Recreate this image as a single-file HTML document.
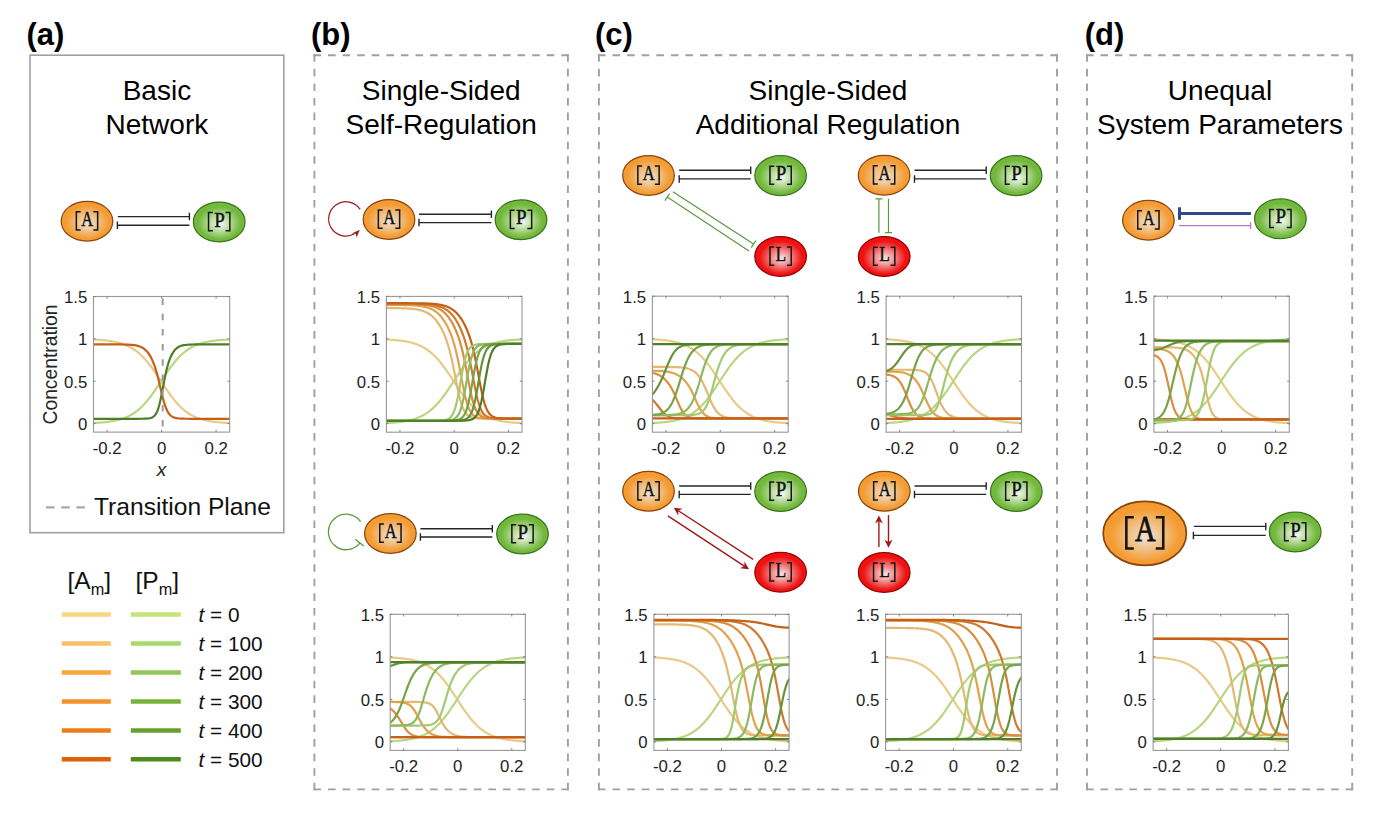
<!DOCTYPE html><html><head><meta charset="utf-8"><style>html,body{margin:0;padding:0;background:#fff;}svg{display:block}</style></head><body>
<svg width="1386" height="816" viewBox="0 0 1386 816">
<defs>
<radialGradient id="gA" cx="0.5" cy="0.52" r="0.52" fx="0.52" fy="0.56"><stop offset="0" stop-color="#EEDDC8"/><stop offset="0.08" stop-color="#EEDDC8"/><stop offset="0.8" stop-color="#F49C32"/><stop offset="1" stop-color="#F49C32"/></radialGradient>
<radialGradient id="gP" cx="0.5" cy="0.52" r="0.52" fx="0.52" fy="0.56"><stop offset="0" stop-color="#EAF4E4"/><stop offset="0.08" stop-color="#EAF4E4"/><stop offset="0.8" stop-color="#72B83A"/><stop offset="1" stop-color="#72B83A"/></radialGradient>
<radialGradient id="gL" cx="0.5" cy="0.52" r="0.52" fx="0.52" fy="0.56"><stop offset="0" stop-color="#F6D6D6"/><stop offset="0.08" stop-color="#F6D6D6"/><stop offset="0.8" stop-color="#EE1212"/><stop offset="1" stop-color="#EE1212"/></radialGradient>
</defs>
<rect width="1386" height="816" fill="#fff"/>
<g font-family="'Liberation Sans', sans-serif" font-weight="bold" font-size="31" fill="#000">
<text x="26.4" y="44.5">(a)</text>
<text x="311.0" y="44.5">(b)</text>
<text x="595.0" y="44.5">(c)</text>
<text x="1084.8" y="44.5">(d)</text>
</g>
<rect x="30" y="55.2" width="253.8" height="477.5" fill="none" stroke="#a0a0a0" stroke-width="1.6"/>
<path d="M313.45,55.2L568.85,55.2" stroke="#a0a0a0" stroke-width="1.9" stroke-dasharray="7.6,6.98" fill="none"/>
<path d="M567.9,54.25L567.9,790.35" stroke="#a0a0a0" stroke-width="1.9" stroke-dasharray="7.6,6.97" fill="none"/>
<path d="M313.45,789.4L568.85,789.4" stroke="#a0a0a0" stroke-width="1.9" stroke-dasharray="7.6,6.98" fill="none"/>
<path d="M314.4,54.25L314.4,790.35" stroke="#a0a0a0" stroke-width="1.9" stroke-dasharray="7.6,6.97" fill="none"/>
<path d="M597.95,55.2L1057.95,55.2" stroke="#a0a0a0" stroke-width="1.9" stroke-dasharray="7.6,6.99" fill="none"/>
<path d="M1057,54.25L1057,790.35" stroke="#a0a0a0" stroke-width="1.9" stroke-dasharray="7.6,6.97" fill="none"/>
<path d="M597.95,789.4L1057.95,789.4" stroke="#a0a0a0" stroke-width="1.9" stroke-dasharray="7.6,6.99" fill="none"/>
<path d="M598.9,54.25L598.9,790.35" stroke="#a0a0a0" stroke-width="1.9" stroke-dasharray="7.6,6.97" fill="none"/>
<path d="M1086.05,55.2L1353.15,55.2" stroke="#a0a0a0" stroke-width="1.9" stroke-dasharray="7.6,6.82" fill="none"/>
<path d="M1352.2,54.25L1352.2,790.35" stroke="#a0a0a0" stroke-width="1.9" stroke-dasharray="7.6,6.97" fill="none"/>
<path d="M1086.05,789.4L1353.15,789.4" stroke="#a0a0a0" stroke-width="1.9" stroke-dasharray="7.6,6.82" fill="none"/>
<path d="M1087,54.25L1087,790.35" stroke="#a0a0a0" stroke-width="1.9" stroke-dasharray="7.6,6.97" fill="none"/>
<g font-family="'Liberation Sans', sans-serif" font-size="28" fill="#000" text-anchor="middle">
<text x="156.9" y="100">Basic</text><text x="156.9" y="133.6">Network</text>
<text x="441.2" y="100">Single-Sided</text><text x="441.2" y="133.6">Self-Regulation</text>
<text x="828.0" y="100">Single-Sided</text><text x="828.0" y="133.6">Additional Regulation</text>
<text x="1220.0" y="100">Unequal</text><text x="1220.0" y="133.6">System Parameters</text>
</g>
<ellipse cx="87" cy="221.2" rx="25.8" ry="19.9" fill="url(#gA)" stroke="#8A4510" stroke-width="1.25"/>
<path d="M80.65,211.85H76.35V229.95H80.65M93.35,211.85H97.65V229.95H93.35" fill="none" stroke="#161616" stroke-width="1.5"/>
<text transform="translate(87.3,225.8) scale(0.8,1)" text-anchor="middle" font-family="'Liberation Serif', serif" font-size="20.6" fill="#111" stroke="#111" stroke-width="0.45">A</text>
<ellipse cx="219.2" cy="221.9" rx="25.8" ry="19.9" fill="url(#gP)" stroke="#3A7420" stroke-width="1.25"/>
<path d="M212.85,212.55H208.55V230.65H212.85M225.55,212.55H229.85V230.65H225.55" fill="none" stroke="#161616" stroke-width="1.5"/>
<text transform="translate(219.5,226.5) scale(0.92,1)" text-anchor="middle" font-family="'Liberation Serif', serif" font-size="20.6" fill="#111" stroke="#111" stroke-width="0.45">P</text>
<path d="M117.8,216.6L189.4,216.6M189.4,220.35L189.4,212.85" fill="none" stroke="#262626" stroke-width="1.4"/>
<path d="M189.4,225.2L117.4,225.2M117.4,221.45L117.4,228.95" fill="none" stroke="#262626" stroke-width="1.4"/>
<clipPath id="clip93_296"><rect x="93.5" y="296.5" width="136.2" height="135.6"/></clipPath>
<g clip-path="url(#clip93_296)" fill="none" stroke-width="2.2" stroke-linejoin="round" stroke-linecap="butt">
<path d="M90.78,339.41 L91.96,339.46 L93.14,339.51 L94.32,339.56 L95.5,339.62 L96.68,339.69 L97.86,339.76 L99.04,339.84 L100.22,339.92 L101.4,340.02 L102.58,340.12 L103.76,340.22 L104.94,340.34 L106.12,340.47 L107.3,340.61 L108.48,340.76 L109.66,340.92 L110.84,341.1 L112.02,341.29 L113.2,341.5 L114.38,341.72 L115.56,341.96 L116.74,342.23 L117.93,342.51 L119.11,342.82 L120.29,343.15 L121.47,343.51 L122.65,343.9 L123.83,344.31 L125.01,344.76 L126.19,345.25 L127.37,345.77 L128.55,346.32 L129.73,346.92 L130.91,347.56 L132.09,348.25 L133.27,348.98 L134.45,349.76 L135.63,350.59 L136.81,351.47 L137.99,352.41 L139.17,353.41 L140.35,354.46 L141.53,355.57 L142.71,356.74 L143.89,357.97 L145.07,359.25 L146.25,360.6 L147.44,362 L148.62,363.45 L149.8,364.96 L150.98,366.52 L152.16,368.12 L153.34,369.77 L154.52,371.46 L155.7,373.18 L156.88,374.93 L158.06,376.7 L159.24,378.48 L160.42,380.28 L161.6,382.08 L162.78,383.88 L163.96,385.67 L165.14,387.44 L166.32,389.19 L167.5,390.91 L168.68,392.6 L169.86,394.25 L171.04,395.86 L172.22,397.42 L173.4,398.93 L174.58,400.39 L175.76,401.8 L176.95,403.15 L178.13,404.44 L179.31,405.67 L180.49,406.84 L181.67,407.96 L182.85,409.01 L184.03,410.01 L185.21,410.96 L186.39,411.84 L187.57,412.68 L188.75,413.46 L189.93,414.2 L191.11,414.89 L192.29,415.53 L193.47,416.13 L194.65,416.69 L195.83,417.22 L197.01,417.7 L198.19,418.15 L199.37,418.57 L200.55,418.96 L201.73,419.32 L202.91,419.66 L204.09,419.96 L205.27,420.25 L206.46,420.52 L207.64,420.76 L208.82,420.99 L210,421.2 L211.18,421.39 L212.36,421.57 L213.54,421.73 L214.72,421.88 L215.9,422.02 L217.08,422.15 L218.26,422.27 L219.44,422.38 L220.62,422.48 L221.8,422.57 L222.98,422.65 L224.16,422.73 L225.34,422.8 L226.52,422.87 L227.7,422.93 L228.88,422.99 L230.06,423.04 L231.24,423.09 L232.42,423.13" stroke="#E7CB89"/>
<path d="M90.78,423.09 L91.96,423.04 L93.14,422.99 L94.32,422.94 L95.5,422.88 L96.68,422.81 L97.86,422.74 L99.04,422.66 L100.22,422.58 L101.4,422.48 L102.58,422.38 L103.76,422.28 L104.94,422.16 L106.12,422.03 L107.3,421.89 L108.48,421.74 L109.66,421.58 L110.84,421.4 L112.02,421.21 L113.2,421 L114.38,420.78 L115.56,420.54 L116.74,420.27 L117.93,419.99 L119.11,419.68 L120.29,419.35 L121.47,418.99 L122.65,418.6 L123.83,418.19 L125.01,417.74 L126.19,417.25 L127.37,416.73 L128.55,416.18 L129.73,415.58 L130.91,414.94 L132.09,414.25 L133.27,413.52 L134.45,412.74 L135.63,411.91 L136.81,411.03 L137.99,410.09 L139.17,409.09 L140.35,408.04 L141.53,406.93 L142.71,405.76 L143.89,404.53 L145.07,403.25 L146.25,401.9 L147.44,400.5 L148.62,399.05 L149.8,397.54 L150.98,395.98 L152.16,394.38 L153.34,392.73 L154.52,391.04 L155.7,389.32 L156.88,387.57 L158.06,385.8 L159.24,384.02 L160.42,382.22 L161.6,380.42 L162.78,378.62 L163.96,376.83 L165.14,375.06 L166.32,373.31 L167.5,371.59 L168.68,369.9 L169.86,368.25 L171.04,366.64 L172.22,365.08 L173.4,363.57 L174.58,362.11 L175.76,360.7 L176.95,359.35 L178.13,358.06 L179.31,356.83 L180.49,355.66 L181.67,354.54 L182.85,353.49 L184.03,352.49 L185.21,351.54 L186.39,350.66 L187.57,349.82 L188.75,349.04 L189.93,348.3 L191.11,347.61 L192.29,346.97 L193.47,346.37 L194.65,345.81 L195.83,345.28 L197.01,344.8 L198.19,344.35 L199.37,343.93 L200.55,343.54 L201.73,343.18 L202.91,342.84 L204.09,342.54 L205.27,342.25 L206.46,341.98 L207.64,341.74 L208.82,341.51 L210,341.3 L211.18,341.11 L212.36,340.93 L213.54,340.77 L214.72,340.62 L215.9,340.48 L217.08,340.35 L218.26,340.23 L219.44,340.12 L220.62,340.02 L221.8,339.93 L222.98,339.85 L224.16,339.77 L225.34,339.7 L226.52,339.63 L227.7,339.57 L228.88,339.51 L230.06,339.46 L231.24,339.41 L232.42,339.37" stroke="#BAD684"/>
<path d="M90.78,344.38 L91.96,344.38 L93.14,344.38 L94.32,344.38 L95.5,344.38 L96.68,344.38 L97.86,344.38 L99.04,344.39 L100.22,344.39 L101.4,344.39 L102.58,344.39 L103.76,344.39 L104.94,344.39 L106.12,344.39 L107.3,344.39 L108.48,344.39 L109.66,344.39 L110.84,344.39 L112.02,344.4 L113.2,344.4 L114.38,344.41 L115.56,344.41 L116.74,344.42 L117.93,344.42 L119.11,344.43 L120.29,344.45 L121.47,344.46 L122.65,344.48 L123.83,344.5 L125.01,344.53 L126.19,344.57 L127.37,344.61 L128.55,344.67 L129.73,344.73 L130.91,344.82 L132.09,344.92 L133.27,345.05 L134.45,345.21 L135.63,345.4 L136.81,345.64 L137.99,345.93 L139.17,346.29 L140.35,346.72 L141.53,347.25 L142.71,347.89 L143.89,348.66 L145.07,349.59 L146.25,350.69 L147.44,352 L148.62,353.53 L149.8,355.33 L150.98,357.41 L152.16,359.83 L153.34,362.6 L154.52,365.77 L155.7,369.36 L156.88,373.39 L158.06,377.84 L159.24,382.65 L160.42,387.66 L161.6,392.68 L162.78,397.49 L163.96,401.86 L165.14,405.65 L166.32,408.79 L167.5,411.31 L168.68,413.25 L169.86,414.73 L171.04,415.83 L172.22,416.64 L173.4,417.23 L174.58,417.66 L175.76,417.98 L176.95,418.2 L178.13,418.37 L179.31,418.48 L180.49,418.57 L181.67,418.63 L182.85,418.68 L184.03,418.71 L185.21,418.73 L186.39,418.75 L187.57,418.76 L188.75,418.77 L189.93,418.78 L191.11,418.78 L192.29,418.79 L193.47,418.79 L194.65,418.79 L195.83,418.79 L197.01,418.79 L198.19,418.79 L199.37,418.79 L200.55,418.79 L201.73,418.79 L202.91,418.79 L204.09,418.79 L205.27,418.79 L206.46,418.79 L207.64,418.79 L208.82,418.79 L210,418.79 L211.18,418.79 L212.36,418.79 L213.54,418.79 L214.72,418.79 L215.9,418.79 L217.08,418.79 L218.26,418.79 L219.44,418.79 L220.62,418.79 L221.8,418.79 L222.98,418.79 L224.16,418.79 L225.34,418.79 L226.52,418.79 L227.7,418.79 L228.88,418.79 L230.06,418.79 L231.24,418.79 L232.42,418.79" stroke="#C46019"/>
<path d="M90.78,418.79 L91.96,418.79 L93.14,418.79 L94.32,418.79 L95.5,418.79 L96.68,418.79 L97.86,418.79 L99.04,418.79 L100.22,418.79 L101.4,418.79 L102.58,418.79 L103.76,418.79 L104.94,418.79 L106.12,418.79 L107.3,418.79 L108.48,418.79 L109.66,418.79 L110.84,418.79 L112.02,418.79 L113.2,418.79 L114.38,418.79 L115.56,418.79 L116.74,418.79 L117.93,418.79 L119.11,418.79 L120.29,418.79 L121.47,418.79 L122.65,418.79 L123.83,418.79 L125.01,418.79 L126.19,418.79 L127.37,418.79 L128.55,418.79 L129.73,418.79 L130.91,418.79 L132.09,418.79 L133.27,418.79 L134.45,418.79 L135.63,418.79 L136.81,418.79 L137.99,418.78 L139.17,418.78 L140.35,418.77 L141.53,418.76 L142.71,418.74 L143.89,418.71 L145.07,418.67 L146.25,418.62 L147.44,418.53 L148.62,418.39 L149.8,418.19 L150.98,417.89 L152.16,417.43 L153.34,416.76 L154.52,415.75 L155.7,414.27 L156.88,412.15 L158.06,409.2 L159.24,405.27 L160.42,400.33 L161.6,394.57 L162.78,388.32 L163.96,382.06 L165.14,376.16 L166.32,370.85 L167.5,366.23 L168.68,362.28 L169.86,358.94 L171.04,356.14 L172.22,353.8 L173.4,351.88 L174.58,350.31 L175.76,349.04 L176.95,348.02 L178.13,347.22 L179.31,346.58 L180.49,346.08 L181.67,345.69 L182.85,345.39 L184.03,345.16 L185.21,344.98 L186.39,344.84 L187.57,344.73 L188.75,344.65 L189.93,344.59 L191.11,344.54 L192.29,344.5 L193.47,344.48 L194.65,344.45 L195.83,344.44 L197.01,344.42 L198.19,344.42 L199.37,344.41 L200.55,344.4 L201.73,344.4 L202.91,344.39 L204.09,344.39 L205.27,344.39 L206.46,344.39 L207.64,344.39 L208.82,344.39 L210,344.39 L211.18,344.39 L212.36,344.38 L213.54,344.38 L214.72,344.38 L215.9,344.38 L217.08,344.38 L218.26,344.38 L219.44,344.38 L220.62,344.38 L221.8,344.38 L222.98,344.38 L224.16,344.38 L225.34,344.38 L226.52,344.38 L227.7,344.38 L228.88,344.38 L230.06,344.38 L231.24,344.38 L232.42,344.38" stroke="#4F7E28"/>
</g>
<line x1="162.69" y1="298.5" x2="162.69" y2="432.1" stroke="#9a9a9a" stroke-width="2" stroke-dasharray="6.5,8.7"/>
<rect x="93.5" y="296.5" width="136.2" height="135.6" fill="none" stroke="#979797" stroke-width="1.1"/>
<path d="M107.12,432.1V429.9M107.12,296.5V298.7M161.6,432.1V429.9M161.6,296.5V298.7M216.08,432.1V429.9M216.08,296.5V298.7M93.5,423.62H95.7M229.7,423.62H227.5M93.5,381.25H95.7M229.7,381.25H227.5M93.5,338.88H95.7M229.7,338.88H227.5M93.5,296.5H95.7M229.7,296.5H227.5" stroke="#777" stroke-width="0.9"/>
<g font-family="'Liberation Sans', sans-serif" font-size="16.8" fill="#222">
<text x="107.12" y="454" text-anchor="middle">-0.2</text>
<text x="161.6" y="454" text-anchor="middle">0</text>
<text x="216.08" y="454" text-anchor="middle">0.2</text>
<text x="87.3" y="430.02" text-anchor="end">0</text>
<text x="87.3" y="387.65" text-anchor="end">0.5</text>
<text x="87.3" y="345.27" text-anchor="end">1</text>
<text x="87.3" y="302.9" text-anchor="end">1.5</text>
</g>
<text transform="translate(57.3,364.5) rotate(-90)" text-anchor="middle" font-family="'Liberation Sans', sans-serif" font-size="19.3" fill="#262626">Concentration</text>
<text x="161.6" y="476" text-anchor="middle" font-family="'Liberation Sans', sans-serif" font-style="italic" font-size="19" fill="#262626">x</text>
<line x1="46" y1="507.3" x2="85" y2="507.3" stroke="#a8a8a8" stroke-width="2.2" stroke-dasharray="8.5,6.7"/>
<text x="94" y="515" font-family="'Liberation Sans', sans-serif" font-size="24.6" fill="#111">Transition Plane</text>
<g font-family="'Liberation Sans', sans-serif" fill="#111">
<text x="67.5" y="589.2" font-size="24.5">[A<tspan font-size="16.3" dy="5.8">m</tspan><tspan dy="-5.8">]</tspan></text>
<text x="135.5" y="589.2" font-size="24.5">[P<tspan font-size="16.3" dy="5.8">m</tspan><tspan dy="-5.8">]</tspan></text>
</g>
<line x1="61.8" y1="614.6" x2="110.8" y2="614.6" stroke="#FAD581" stroke-width="4.5"/>
<line x1="130.8" y1="614.6" x2="180.8" y2="614.6" stroke="#C2E57C" stroke-width="4.5"/>
<text x="198.5" y="622.2" font-family="'Liberation Sans', sans-serif" font-size="20.8" fill="#111"><tspan font-style="italic">t</tspan> = 0</text>
<line x1="61.8" y1="643.55" x2="110.8" y2="643.55" stroke="#F8C068" stroke-width="4.5"/>
<line x1="130.8" y1="643.55" x2="180.8" y2="643.55" stroke="#A8D868" stroke-width="4.5"/>
<text x="198.5" y="651.15" font-family="'Liberation Sans', sans-serif" font-size="20.8" fill="#111"><tspan font-style="italic">t</tspan> = 100</text>
<line x1="61.8" y1="672.5" x2="110.8" y2="672.5" stroke="#F8A838" stroke-width="4.5"/>
<line x1="130.8" y1="672.5" x2="180.8" y2="672.5" stroke="#90C858" stroke-width="4.5"/>
<text x="198.5" y="680.1" font-family="'Liberation Sans', sans-serif" font-size="20.8" fill="#111"><tspan font-style="italic">t</tspan> = 200</text>
<line x1="61.8" y1="701.45" x2="110.8" y2="701.45" stroke="#F5922A" stroke-width="4.5"/>
<line x1="130.8" y1="701.45" x2="180.8" y2="701.45" stroke="#78B23C" stroke-width="4.5"/>
<text x="198.5" y="709.05" font-family="'Liberation Sans', sans-serif" font-size="20.8" fill="#111"><tspan font-style="italic">t</tspan> = 300</text>
<line x1="61.8" y1="730.4" x2="110.8" y2="730.4" stroke="#EE7A18" stroke-width="4.5"/>
<line x1="130.8" y1="730.4" x2="180.8" y2="730.4" stroke="#68A030" stroke-width="4.5"/>
<text x="198.5" y="738" font-family="'Liberation Sans', sans-serif" font-size="20.8" fill="#111"><tspan font-style="italic">t</tspan> = 400</text>
<line x1="61.8" y1="759.35" x2="110.8" y2="759.35" stroke="#E06005" stroke-width="4.5"/>
<line x1="130.8" y1="759.35" x2="180.8" y2="759.35" stroke="#4E8A1C" stroke-width="4.5"/>
<text x="198.5" y="766.95" font-family="'Liberation Sans', sans-serif" font-size="20.8" fill="#111"><tspan font-style="italic">t</tspan> = 500</text>
<ellipse cx="389" cy="219.4" rx="25.8" ry="19.9" fill="url(#gA)" stroke="#8A4510" stroke-width="1.25"/>
<path d="M382.65,210.05H378.35V228.15H382.65M395.35,210.05H399.65V228.15H395.35" fill="none" stroke="#161616" stroke-width="1.5"/>
<text transform="translate(389.3,224) scale(0.8,1)" text-anchor="middle" font-family="'Liberation Serif', serif" font-size="20.6" fill="#111" stroke="#111" stroke-width="0.45">A</text>
<ellipse cx="521" cy="219.7" rx="25.8" ry="19.9" fill="url(#gP)" stroke="#3A7420" stroke-width="1.25"/>
<path d="M514.65,210.35H510.35V228.45H514.65M527.35,210.35H531.65V228.45H527.35" fill="none" stroke="#161616" stroke-width="1.5"/>
<text transform="translate(521.3,224.3) scale(0.92,1)" text-anchor="middle" font-family="'Liberation Serif', serif" font-size="20.6" fill="#111" stroke="#111" stroke-width="0.45">P</text>
<path d="M419,214.2L491.4,214.2M491.4,217.95L491.4,210.45" fill="none" stroke="#262626" stroke-width="1.4"/>
<path d="M491.4,222.6L419,222.6M419,218.85L419,226.35" fill="none" stroke="#262626" stroke-width="1.4"/>
<path d="M360.2,209.4 A17.2,17.2 0 1 0 354.5,233.8" fill="none" stroke="#9C1A1A" stroke-width="1.2"/>
<path d="M359.8,229.8 L356.6,237.4 L355.8,233.8 L351.8,233.4 Z" fill="#9C1A1A"/>
<clipPath id="clip386_296"><rect x="386.4" y="296.4" width="135.6" height="135.8"/></clipPath>
<g clip-path="url(#clip386_296)" fill="none" stroke-width="2.2" stroke-linejoin="round" stroke-linecap="butt">
<path d="M383.69,339.37 L384.86,339.42 L386.04,339.47 L387.21,339.53 L388.39,339.59 L389.56,339.65 L390.74,339.73 L391.91,339.8 L393.09,339.89 L394.26,339.98 L395.44,340.08 L396.62,340.19 L397.79,340.31 L398.97,340.43 L400.14,340.57 L401.32,340.72 L402.49,340.89 L403.67,341.06 L404.84,341.26 L406.02,341.46 L407.19,341.69 L408.37,341.93 L409.54,342.2 L410.72,342.48 L411.89,342.79 L413.07,343.12 L414.24,343.48 L415.42,343.87 L416.59,344.28 L417.77,344.73 L418.94,345.22 L420.12,345.74 L421.29,346.3 L422.47,346.89 L423.64,347.54 L424.82,348.22 L426,348.95 L427.17,349.74 L428.35,350.57 L429.52,351.46 L430.7,352.4 L431.87,353.39 L433.05,354.45 L434.22,355.56 L435.4,356.73 L436.57,357.96 L437.75,359.24 L438.92,360.59 L440.1,361.99 L441.27,363.45 L442.45,364.96 L443.62,366.52 L444.8,368.13 L445.97,369.78 L447.15,371.47 L448.32,373.19 L449.5,374.94 L450.67,376.72 L451.85,378.51 L453.02,380.3 L454.2,382.11 L455.38,383.91 L456.55,385.7 L457.73,387.47 L458.9,389.22 L460.08,390.95 L461.25,392.64 L462.43,394.29 L463.6,395.91 L464.78,397.47 L465.95,398.99 L467.13,400.45 L468.3,401.85 L469.48,403.2 L470.65,404.5 L471.83,405.73 L473,406.91 L474.18,408.02 L475.35,409.08 L476.53,410.08 L477.7,411.02 L478.88,411.91 L480.05,412.75 L481.23,413.54 L482.4,414.27 L483.58,414.96 L484.76,415.61 L485.93,416.21 L487.11,416.77 L488.28,417.29 L489.46,417.78 L490.63,418.23 L491.81,418.65 L492.98,419.04 L494.16,419.4 L495.33,419.74 L496.51,420.05 L497.68,420.33 L498.86,420.6 L500.03,420.84 L501.21,421.07 L502.38,421.28 L503.56,421.47 L504.73,421.65 L505.91,421.81 L507.08,421.97 L508.26,422.11 L509.43,422.23 L510.61,422.35 L511.78,422.46 L512.96,422.56 L514.14,422.65 L515.31,422.74 L516.49,422.82 L517.66,422.89 L518.84,422.96 L520.01,423.02 L521.19,423.07 L522.36,423.13 L523.54,423.17 L524.71,423.22" stroke="#E7CB89"/>
<path d="M383.69,423.18 L384.86,423.13 L386.04,423.08 L387.21,423.02 L388.39,422.96 L389.56,422.9 L390.74,422.82 L391.91,422.75 L393.09,422.66 L394.26,422.57 L395.44,422.47 L396.62,422.36 L397.79,422.24 L398.97,422.12 L400.14,421.98 L401.32,421.83 L402.49,421.66 L403.67,421.49 L404.84,421.29 L406.02,421.09 L407.19,420.86 L408.37,420.62 L409.54,420.35 L410.72,420.07 L411.89,419.76 L413.07,419.43 L414.24,419.07 L415.42,418.68 L416.59,418.27 L417.77,417.82 L418.94,417.33 L420.12,416.81 L421.29,416.25 L422.47,415.66 L423.64,415.01 L424.82,414.33 L426,413.6 L427.17,412.81 L428.35,411.98 L429.52,411.09 L430.7,410.15 L431.87,409.16 L433.05,408.1 L434.22,406.99 L435.4,405.82 L436.57,404.59 L437.75,403.31 L438.92,401.96 L440.1,400.56 L441.27,399.1 L442.45,397.59 L443.62,396.03 L444.8,394.42 L445.97,392.77 L447.15,391.08 L448.32,389.36 L449.5,387.61 L450.67,385.83 L451.85,384.04 L453.02,382.25 L454.2,380.44 L455.38,378.64 L456.55,376.85 L457.73,375.08 L458.9,373.33 L460.08,371.6 L461.25,369.91 L462.43,368.26 L463.6,366.64 L464.78,365.08 L465.95,363.56 L467.13,362.1 L468.3,360.7 L469.48,359.35 L470.65,358.05 L471.83,356.82 L473,355.64 L474.18,354.53 L475.35,353.47 L476.53,352.47 L477.7,351.53 L478.88,350.64 L480.05,349.8 L481.23,349.01 L482.4,348.28 L483.58,347.59 L484.76,346.94 L485.93,346.34 L487.11,345.78 L488.28,345.26 L489.46,344.77 L490.63,344.32 L491.81,343.9 L492.98,343.51 L494.16,343.15 L495.33,342.81 L496.51,342.5 L497.68,342.22 L498.86,341.95 L500.03,341.71 L501.21,341.48 L502.38,341.27 L503.56,341.08 L504.73,340.9 L505.91,340.74 L507.08,340.58 L508.26,340.44 L509.43,340.32 L510.61,340.2 L511.78,340.09 L512.96,339.99 L514.14,339.9 L515.31,339.81 L516.49,339.73 L517.66,339.66 L518.84,339.59 L520.01,339.53 L521.19,339.48 L522.36,339.42 L523.54,339.38 L524.71,339.33" stroke="#BAD684"/>
<path d="M383.69,308.05 L384.86,308.06 L386.04,308.06 L387.21,308.07 L388.39,308.07 L389.56,308.08 L390.74,308.09 L391.91,308.1 L393.09,308.11 L394.26,308.12 L395.44,308.14 L396.62,308.16 L397.79,308.17 L398.97,308.2 L400.14,308.22 L401.32,308.25 L402.49,308.29 L403.67,308.33 L404.84,308.37 L406.02,308.42 L407.19,308.48 L408.37,308.55 L409.54,308.63 L410.72,308.72 L411.89,308.83 L413.07,308.95 L414.24,309.09 L415.42,309.24 L416.59,309.43 L417.77,309.63 L418.94,309.87 L420.12,310.15 L421.29,310.46 L422.47,310.81 L423.64,311.22 L424.82,311.68 L426,312.2 L427.17,312.79 L428.35,313.46 L429.52,314.21 L430.7,315.06 L431.87,316.01 L433.05,317.06 L434.22,318.24 L435.4,319.54 L436.57,320.98 L437.75,322.56 L438.92,324.3 L440.1,326.21 L441.27,328.29 L442.45,330.58 L443.62,333.09 L444.8,335.84 L445.97,338.89 L447.15,342.25 L448.32,346 L449.5,350.16 L450.67,354.77 L451.85,359.85 L453.02,365.36 L454.2,371.23 L455.38,377.3 L456.55,383.37 L457.73,389.22 L458.9,394.64 L460.08,399.46 L461.25,403.59 L462.43,407.01 L463.6,409.77 L464.78,411.93 L465.95,413.6 L467.13,414.88 L468.3,415.83 L469.48,416.55 L470.65,417.08 L471.83,417.48 L473,417.77 L474.18,417.99 L475.35,418.15 L476.53,418.27 L477.7,418.36 L478.88,418.43 L480.05,418.48 L481.23,418.51 L482.4,418.54 L483.58,418.56 L484.76,418.57 L485.93,418.59 L487.11,418.59 L488.28,418.6 L489.46,418.61 L490.63,418.61 L491.81,418.61 L492.98,418.61 L494.16,418.62 L495.33,418.62 L496.51,418.62 L497.68,418.62 L498.86,418.62 L500.03,418.62 L501.21,418.62 L502.38,418.62 L503.56,418.62 L504.73,418.62 L505.91,418.62 L507.08,418.62 L508.26,418.62 L509.43,418.62 L510.61,418.62 L511.78,418.62 L512.96,418.62 L514.14,418.62 L515.31,418.62 L516.49,418.62 L517.66,418.62 L518.84,418.62 L520.01,418.62 L521.19,418.62 L522.36,418.62 L523.54,418.62 L524.71,418.62" stroke="#E3B873"/>
<path d="M383.69,304.9 L384.86,304.9 L386.04,304.91 L387.21,304.91 L388.39,304.91 L389.56,304.92 L390.74,304.92 L391.91,304.92 L393.09,304.93 L394.26,304.94 L395.44,304.94 L396.62,304.95 L397.79,304.96 L398.97,304.97 L400.14,304.99 L401.32,305 L402.49,305.02 L403.67,305.04 L404.84,305.06 L406.02,305.09 L407.19,305.12 L408.37,305.16 L409.54,305.2 L410.72,305.25 L411.89,305.3 L413.07,305.36 L414.24,305.43 L415.42,305.52 L416.59,305.61 L417.77,305.72 L418.94,305.85 L420.12,305.99 L421.29,306.16 L422.47,306.35 L423.64,306.56 L424.82,306.81 L426,307.1 L427.17,307.42 L428.35,307.79 L429.52,308.22 L430.7,308.7 L431.87,309.24 L433.05,309.86 L434.22,310.55 L435.4,311.34 L436.57,312.22 L437.75,313.2 L438.92,314.3 L440.1,315.52 L441.27,316.88 L442.45,318.37 L443.62,320.02 L444.8,321.82 L445.97,323.8 L447.15,325.97 L448.32,328.35 L449.5,330.95 L450.67,333.82 L451.85,336.98 L453.02,340.48 L454.2,344.37 L455.38,348.7 L456.55,353.5 L457.73,358.77 L458.9,364.49 L460.08,370.55 L461.25,376.8 L462.43,383.03 L463.6,389.01 L464.78,394.53 L465.95,399.41 L467.13,403.58 L468.3,407.02 L469.48,409.78 L470.65,411.95 L471.83,413.62 L473,414.89 L474.18,415.84 L475.35,416.56 L476.53,417.09 L477.7,417.48 L478.88,417.78 L480.05,417.99 L481.23,418.15 L482.4,418.27 L483.58,418.36 L484.76,418.43 L485.93,418.48 L487.11,418.51 L488.28,418.54 L489.46,418.56 L490.63,418.58 L491.81,418.59 L492.98,418.59 L494.16,418.6 L495.33,418.61 L496.51,418.61 L497.68,418.61 L498.86,418.61 L500.03,418.62 L501.21,418.62 L502.38,418.62 L503.56,418.62 L504.73,418.62 L505.91,418.62 L507.08,418.62 L508.26,418.62 L509.43,418.62 L510.61,418.62 L511.78,418.62 L512.96,418.62 L514.14,418.62 L515.31,418.62 L516.49,418.62 L517.66,418.62 L518.84,418.62 L520.01,418.62 L521.19,418.62 L522.36,418.62 L523.54,418.62 L524.71,418.62" stroke="#E0A24A"/>
<path d="M383.69,304.05 L384.86,304.05 L386.04,304.05 L387.21,304.05 L388.39,304.05 L389.56,304.05 L390.74,304.05 L391.91,304.06 L393.09,304.06 L394.26,304.06 L395.44,304.07 L396.62,304.07 L397.79,304.07 L398.97,304.08 L400.14,304.09 L401.32,304.09 L402.49,304.1 L403.67,304.11 L404.84,304.12 L406.02,304.13 L407.19,304.15 L408.37,304.17 L409.54,304.18 L410.72,304.21 L411.89,304.23 L413.07,304.26 L414.24,304.3 L415.42,304.33 L416.59,304.38 L417.77,304.43 L418.94,304.49 L420.12,304.56 L421.29,304.64 L422.47,304.73 L423.64,304.83 L424.82,304.95 L426,305.09 L427.17,305.25 L428.35,305.43 L429.52,305.64 L430.7,305.87 L431.87,306.15 L433.05,306.46 L434.22,306.81 L435.4,307.22 L436.57,307.68 L437.75,308.2 L438.92,308.79 L440.1,309.46 L441.27,310.21 L442.45,311.06 L443.62,312.01 L444.8,313.07 L445.97,314.25 L447.15,315.56 L448.32,317 L449.5,318.6 L450.67,320.35 L451.85,322.28 L453.02,324.38 L454.2,326.69 L455.38,329.22 L456.55,331.99 L457.73,335.06 L458.9,338.44 L460.08,342.2 L461.25,346.38 L462.43,351.02 L463.6,356.14 L464.78,361.73 L465.95,367.71 L467.13,373.96 L468.3,380.27 L469.48,386.43 L470.65,392.19 L471.83,397.38 L473,401.88 L474.18,405.63 L475.35,408.68 L476.53,411.09 L477.7,412.96 L478.88,414.39 L480.05,415.47 L481.23,416.28 L482.4,416.88 L483.58,417.33 L484.76,417.66 L485.93,417.91 L487.11,418.09 L488.28,418.23 L489.46,418.33 L490.63,418.4 L491.81,418.46 L492.98,418.5 L494.16,418.53 L495.33,418.55 L496.51,418.57 L497.68,418.58 L498.86,418.59 L500.03,418.6 L501.21,418.6 L502.38,418.61 L503.56,418.61 L504.73,418.61 L505.91,418.61 L507.08,418.62 L508.26,418.62 L509.43,418.62 L510.61,418.62 L511.78,418.62 L512.96,418.62 L514.14,418.62 L515.31,418.62 L516.49,418.62 L517.66,418.62 L518.84,418.62 L520.01,418.62 L521.19,418.62 L522.36,418.62 L523.54,418.62 L524.71,418.62" stroke="#DB8E3D"/>
<path d="M383.69,303.62 L384.86,303.62 L386.04,303.62 L387.21,303.62 L388.39,303.62 L389.56,303.62 L390.74,303.62 L391.91,303.62 L393.09,303.62 L394.26,303.63 L395.44,303.63 L396.62,303.63 L397.79,303.63 L398.97,303.64 L400.14,303.64 L401.32,303.64 L402.49,303.65 L403.67,303.65 L404.84,303.66 L406.02,303.67 L407.19,303.67 L408.37,303.68 L409.54,303.69 L410.72,303.7 L411.89,303.72 L413.07,303.73 L414.24,303.75 L415.42,303.77 L416.59,303.8 L417.77,303.82 L418.94,303.86 L420.12,303.89 L421.29,303.93 L422.47,303.98 L423.64,304.04 L424.82,304.1 L426,304.18 L427.17,304.26 L428.35,304.36 L429.52,304.47 L430.7,304.6 L431.87,304.75 L433.05,304.92 L434.22,305.12 L435.4,305.34 L436.57,305.6 L437.75,305.89 L438.92,306.22 L440.1,306.6 L441.27,307.04 L442.45,307.53 L443.62,308.09 L444.8,308.72 L445.97,309.44 L447.15,310.24 L448.32,311.14 L449.5,312.15 L450.67,313.28 L451.85,314.53 L453.02,315.92 L454.2,317.45 L455.38,319.13 L456.55,320.98 L457.73,323 L458.9,325.22 L460.08,327.65 L461.25,330.31 L462.43,333.24 L463.6,336.48 L464.78,340.07 L465.95,344.06 L467.13,348.49 L468.3,353.4 L469.48,358.79 L470.65,364.62 L471.83,370.78 L473,377.11 L474.18,383.39 L475.35,389.4 L476.53,394.9 L477.7,399.75 L478.88,403.88 L480.05,407.27 L481.23,409.99 L482.4,412.11 L483.58,413.74 L484.76,414.98 L485.93,415.91 L487.11,416.61 L488.28,417.13 L489.46,417.51 L490.63,417.8 L491.81,418.01 L492.98,418.17 L494.16,418.28 L495.33,418.37 L496.51,418.43 L497.68,418.48 L498.86,418.52 L500.03,418.54 L501.21,418.56 L502.38,418.58 L503.56,418.59 L504.73,418.6 L505.91,418.6 L507.08,418.61 L508.26,418.61 L509.43,418.61 L510.61,418.61 L511.78,418.62 L512.96,418.62 L514.14,418.62 L515.31,418.62 L516.49,418.62 L517.66,418.62 L518.84,418.62 L520.01,418.62 L521.19,418.62 L522.36,418.62 L523.54,418.62 L524.71,418.62" stroke="#D2782C"/>
<path d="M383.69,303.19 L384.86,303.19 L386.04,303.19 L387.21,303.19 L388.39,303.19 L389.56,303.19 L390.74,303.19 L391.91,303.19 L393.09,303.2 L394.26,303.2 L395.44,303.2 L396.62,303.2 L397.79,303.2 L398.97,303.2 L400.14,303.2 L401.32,303.2 L402.49,303.21 L403.67,303.21 L404.84,303.21 L406.02,303.22 L407.19,303.22 L408.37,303.22 L409.54,303.23 L410.72,303.23 L411.89,303.24 L413.07,303.25 L414.24,303.26 L415.42,303.27 L416.59,303.28 L417.77,303.29 L418.94,303.31 L420.12,303.33 L421.29,303.35 L422.47,303.37 L423.64,303.4 L424.82,303.43 L426,303.47 L427.17,303.51 L428.35,303.56 L429.52,303.62 L430.7,303.68 L431.87,303.76 L433.05,303.85 L434.22,303.95 L435.4,304.06 L436.57,304.19 L437.75,304.34 L438.92,304.51 L440.1,304.71 L441.27,304.94 L442.45,305.2 L443.62,305.49 L444.8,305.83 L445.97,306.22 L447.15,306.65 L448.32,307.15 L449.5,307.72 L450.67,308.36 L451.85,309.08 L453.02,309.89 L454.2,310.81 L455.38,311.83 L456.55,312.96 L457.73,314.23 L458.9,315.63 L460.08,317.17 L461.25,318.87 L462.43,320.74 L463.6,322.78 L464.78,325.02 L465.95,327.47 L467.13,330.16 L468.3,333.12 L469.48,336.39 L470.65,340.01 L471.83,344.04 L473,348.52 L474.18,353.48 L475.35,358.92 L476.53,364.79 L477.7,370.99 L478.88,377.35 L480.05,383.65 L481.23,389.64 L482.4,395.13 L483.58,399.96 L484.76,404.05 L485.93,407.42 L487.11,410.1 L488.28,412.2 L489.46,413.81 L490.63,415.03 L491.81,415.95 L492.98,416.64 L494.16,417.15 L495.33,417.53 L496.51,417.81 L497.68,418.02 L498.86,418.17 L500.03,418.29 L501.21,418.37 L502.38,418.43 L503.56,418.48 L504.73,418.52 L505.91,418.54 L507.08,418.56 L508.26,418.58 L509.43,418.59 L510.61,418.6 L511.78,418.6 L512.96,418.61 L514.14,418.61 L515.31,418.61 L516.49,418.61 L517.66,418.62 L518.84,418.62 L520.01,418.62 L521.19,418.62 L522.36,418.62 L523.54,418.62 L524.71,418.62" stroke="#C46019"/>
<path d="M383.69,420.74 L384.86,420.74 L386.04,420.74 L387.21,420.74 L388.39,420.74 L389.56,420.74 L390.74,420.74 L391.91,420.74 L393.09,420.74 L394.26,420.74 L395.44,420.74 L396.62,420.74 L397.79,420.74 L398.97,420.74 L400.14,420.74 L401.32,420.74 L402.49,420.74 L403.67,420.74 L404.84,420.74 L406.02,420.74 L407.19,420.74 L408.37,420.74 L409.54,420.74 L410.72,420.74 L411.89,420.74 L413.07,420.74 L414.24,420.74 L415.42,420.74 L416.59,420.74 L417.77,420.74 L418.94,420.74 L420.12,420.74 L421.29,420.74 L422.47,420.74 L423.64,420.74 L424.82,420.74 L426,420.74 L427.17,420.74 L428.35,420.74 L429.52,420.74 L430.7,420.73 L431.87,420.73 L433.05,420.72 L434.22,420.72 L435.4,420.71 L436.57,420.69 L437.75,420.67 L438.92,420.64 L440.1,420.59 L441.27,420.53 L442.45,420.44 L443.62,420.31 L444.8,420.12 L445.97,419.85 L447.15,419.47 L448.32,418.93 L449.5,418.17 L450.67,417.1 L451.85,415.62 L453.02,413.6 L454.2,410.89 L455.38,407.35 L456.55,402.89 L457.73,397.47 L458.9,391.24 L460.08,384.47 L461.25,377.56 L462.43,370.95 L463.6,365.01 L464.78,359.95 L465.95,355.85 L467.13,352.65 L468.3,350.22 L469.48,348.43 L470.65,347.12 L471.83,346.18 L473,345.51 L474.18,345.04 L475.35,344.71 L476.53,344.47 L477.7,344.31 L478.88,344.19 L480.05,344.11 L481.23,344.06 L482.4,344.02 L483.58,343.99 L484.76,343.97 L485.93,343.96 L487.11,343.95 L488.28,343.94 L489.46,343.94 L490.63,343.94 L491.81,343.94 L492.98,343.93 L494.16,343.93 L495.33,343.93 L496.51,343.93 L497.68,343.93 L498.86,343.93 L500.03,343.93 L501.21,343.93 L502.38,343.93 L503.56,343.93 L504.73,343.93 L505.91,343.93 L507.08,343.93 L508.26,343.93 L509.43,343.93 L510.61,343.93 L511.78,343.93 L512.96,343.93 L514.14,343.93 L515.31,343.93 L516.49,343.93 L517.66,343.93 L518.84,343.93 L520.01,343.93 L521.19,343.93 L522.36,343.93 L523.54,343.93 L524.71,343.93" stroke="#A3C971"/>
<path d="M383.69,420.74 L384.86,420.74 L386.04,420.74 L387.21,420.74 L388.39,420.74 L389.56,420.74 L390.74,420.74 L391.91,420.74 L393.09,420.74 L394.26,420.74 L395.44,420.74 L396.62,420.74 L397.79,420.74 L398.97,420.74 L400.14,420.74 L401.32,420.74 L402.49,420.74 L403.67,420.74 L404.84,420.74 L406.02,420.74 L407.19,420.74 L408.37,420.74 L409.54,420.74 L410.72,420.74 L411.89,420.74 L413.07,420.74 L414.24,420.74 L415.42,420.74 L416.59,420.74 L417.77,420.74 L418.94,420.74 L420.12,420.74 L421.29,420.74 L422.47,420.74 L423.64,420.74 L424.82,420.74 L426,420.74 L427.17,420.74 L428.35,420.74 L429.52,420.74 L430.7,420.74 L431.87,420.74 L433.05,420.74 L434.22,420.74 L435.4,420.74 L436.57,420.73 L437.75,420.73 L438.92,420.73 L440.1,420.72 L441.27,420.71 L442.45,420.69 L443.62,420.67 L444.8,420.64 L445.97,420.6 L447.15,420.54 L448.32,420.45 L449.5,420.32 L450.67,420.14 L451.85,419.87 L453.02,419.5 L454.2,418.98 L455.38,418.23 L456.55,417.19 L457.73,415.75 L458.9,413.78 L460.08,411.13 L461.25,407.66 L462.43,403.26 L463.6,397.92 L464.78,391.74 L465.95,385 L467.13,378.09 L468.3,371.44 L469.48,365.44 L470.65,360.31 L471.83,356.13 L473,352.86 L474.18,350.38 L475.35,348.55 L476.53,347.21 L477.7,346.24 L478.88,345.56 L480.05,345.07 L481.23,344.73 L482.4,344.49 L483.58,344.32 L484.76,344.2 L485.93,344.12 L487.11,344.06 L488.28,344.02 L489.46,343.99 L490.63,343.97 L491.81,343.96 L492.98,343.95 L494.16,343.95 L495.33,343.94 L496.51,343.94 L497.68,343.94 L498.86,343.93 L500.03,343.93 L501.21,343.93 L502.38,343.93 L503.56,343.93 L504.73,343.93 L505.91,343.93 L507.08,343.93 L508.26,343.93 L509.43,343.93 L510.61,343.93 L511.78,343.93 L512.96,343.93 L514.14,343.93 L515.31,343.93 L516.49,343.93 L517.66,343.93 L518.84,343.93 L520.01,343.93 L521.19,343.93 L522.36,343.93 L523.54,343.93 L524.71,343.93" stroke="#8DB962"/>
<path d="M383.69,420.74 L384.86,420.74 L386.04,420.74 L387.21,420.74 L388.39,420.74 L389.56,420.74 L390.74,420.74 L391.91,420.74 L393.09,420.74 L394.26,420.74 L395.44,420.74 L396.62,420.74 L397.79,420.74 L398.97,420.74 L400.14,420.74 L401.32,420.74 L402.49,420.74 L403.67,420.74 L404.84,420.74 L406.02,420.74 L407.19,420.74 L408.37,420.74 L409.54,420.74 L410.72,420.74 L411.89,420.74 L413.07,420.74 L414.24,420.74 L415.42,420.74 L416.59,420.74 L417.77,420.74 L418.94,420.74 L420.12,420.74 L421.29,420.74 L422.47,420.74 L423.64,420.74 L424.82,420.74 L426,420.74 L427.17,420.74 L428.35,420.74 L429.52,420.74 L430.7,420.74 L431.87,420.74 L433.05,420.74 L434.22,420.74 L435.4,420.74 L436.57,420.74 L437.75,420.74 L438.92,420.74 L440.1,420.74 L441.27,420.74 L442.45,420.73 L443.62,420.73 L444.8,420.73 L445.97,420.72 L447.15,420.71 L448.32,420.69 L449.5,420.67 L450.67,420.64 L451.85,420.6 L453.02,420.54 L454.2,420.45 L455.38,420.33 L456.55,420.15 L457.73,419.9 L458.9,419.54 L460.08,419.02 L461.25,418.3 L462.43,417.29 L463.6,415.88 L464.78,413.95 L465.95,411.36 L467.13,407.96 L468.3,403.64 L469.48,398.36 L470.65,392.24 L471.83,385.53 L473,378.61 L474.18,371.93 L475.35,365.87 L476.53,360.67 L477.7,356.42 L478.88,353.09 L480.05,350.55 L481.23,348.67 L482.4,347.29 L483.58,346.31 L484.76,345.6 L485.93,345.1 L487.11,344.75 L488.28,344.5 L489.46,344.33 L490.63,344.21 L491.81,344.13 L492.98,344.07 L494.16,344.02 L495.33,344 L496.51,343.98 L497.68,343.96 L498.86,343.95 L500.03,343.95 L501.21,343.94 L502.38,343.94 L503.56,343.94 L504.73,343.93 L505.91,343.93 L507.08,343.93 L508.26,343.93 L509.43,343.93 L510.61,343.93 L511.78,343.93 L512.96,343.93 L514.14,343.93 L515.31,343.93 L516.49,343.93 L517.66,343.93 L518.84,343.93 L520.01,343.93 L521.19,343.93 L522.36,343.93 L523.54,343.93 L524.71,343.93" stroke="#77A448"/>
<path d="M383.69,420.74 L384.86,420.74 L386.04,420.74 L387.21,420.74 L388.39,420.74 L389.56,420.74 L390.74,420.74 L391.91,420.74 L393.09,420.74 L394.26,420.74 L395.44,420.74 L396.62,420.74 L397.79,420.74 L398.97,420.74 L400.14,420.74 L401.32,420.74 L402.49,420.74 L403.67,420.74 L404.84,420.74 L406.02,420.74 L407.19,420.74 L408.37,420.74 L409.54,420.74 L410.72,420.74 L411.89,420.74 L413.07,420.74 L414.24,420.74 L415.42,420.74 L416.59,420.74 L417.77,420.74 L418.94,420.74 L420.12,420.74 L421.29,420.74 L422.47,420.74 L423.64,420.74 L424.82,420.74 L426,420.74 L427.17,420.74 L428.35,420.74 L429.52,420.74 L430.7,420.74 L431.87,420.74 L433.05,420.74 L434.22,420.74 L435.4,420.74 L436.57,420.74 L437.75,420.74 L438.92,420.74 L440.1,420.74 L441.27,420.74 L442.45,420.74 L443.62,420.74 L444.8,420.74 L445.97,420.74 L447.15,420.74 L448.32,420.73 L449.5,420.73 L450.67,420.73 L451.85,420.72 L453.02,420.71 L454.2,420.7 L455.38,420.68 L456.55,420.65 L457.73,420.61 L458.9,420.55 L460.08,420.47 L461.25,420.35 L462.43,420.19 L463.6,419.95 L464.78,419.61 L465.95,419.12 L467.13,418.44 L468.3,417.48 L469.48,416.15 L470.65,414.32 L471.83,411.85 L473,408.6 L474.18,404.43 L475.35,399.32 L476.53,393.33 L477.7,386.69 L478.88,379.78 L480.05,373.03 L481.23,366.84 L482.4,361.48 L483.58,357.07 L484.76,353.59 L485.93,350.93 L487.11,348.95 L488.28,347.5 L489.46,346.45 L490.63,345.7 L491.81,345.18 L492.98,344.8 L494.16,344.54 L495.33,344.36 L496.51,344.23 L497.68,344.14 L498.86,344.07 L500.03,344.03 L501.21,344 L502.38,343.98 L503.56,343.96 L504.73,343.95 L505.91,343.95 L507.08,343.94 L508.26,343.94 L509.43,343.94 L510.61,343.93 L511.78,343.93 L512.96,343.93 L514.14,343.93 L515.31,343.93 L516.49,343.93 L517.66,343.93 L518.84,343.93 L520.01,343.93 L521.19,343.93 L522.36,343.93 L523.54,343.93 L524.71,343.93" stroke="#67933C"/>
<path d="M383.69,420.74 L384.86,420.74 L386.04,420.74 L387.21,420.74 L388.39,420.74 L389.56,420.74 L390.74,420.74 L391.91,420.74 L393.09,420.74 L394.26,420.74 L395.44,420.74 L396.62,420.74 L397.79,420.74 L398.97,420.74 L400.14,420.74 L401.32,420.74 L402.49,420.74 L403.67,420.74 L404.84,420.74 L406.02,420.74 L407.19,420.74 L408.37,420.74 L409.54,420.74 L410.72,420.74 L411.89,420.74 L413.07,420.74 L414.24,420.74 L415.42,420.74 L416.59,420.74 L417.77,420.74 L418.94,420.74 L420.12,420.74 L421.29,420.74 L422.47,420.74 L423.64,420.74 L424.82,420.74 L426,420.74 L427.17,420.74 L428.35,420.74 L429.52,420.74 L430.7,420.74 L431.87,420.74 L433.05,420.74 L434.22,420.74 L435.4,420.74 L436.57,420.74 L437.75,420.74 L438.92,420.74 L440.1,420.74 L441.27,420.74 L442.45,420.74 L443.62,420.74 L444.8,420.74 L445.97,420.74 L447.15,420.74 L448.32,420.74 L449.5,420.74 L450.67,420.74 L451.85,420.74 L453.02,420.74 L454.2,420.74 L455.38,420.73 L456.55,420.73 L457.73,420.72 L458.9,420.72 L460.08,420.7 L461.25,420.69 L462.43,420.67 L463.6,420.63 L464.78,420.59 L465.95,420.52 L467.13,420.42 L468.3,420.28 L469.48,420.08 L470.65,419.8 L471.83,419.39 L473,418.82 L474.18,418.02 L475.35,416.89 L476.53,415.33 L477.7,413.21 L478.88,410.38 L480.05,406.7 L481.23,402.07 L482.4,396.52 L483.58,390.17 L484.76,383.35 L485.93,376.46 L487.11,369.94 L488.28,364.13 L489.46,359.23 L490.63,355.27 L491.81,352.21 L492.98,349.89 L494.16,348.19 L495.33,346.95 L496.51,346.06 L497.68,345.43 L498.86,344.98 L500.03,344.66 L501.21,344.44 L502.38,344.29 L503.56,344.18 L504.73,344.1 L505.91,344.05 L507.08,344.01 L508.26,343.99 L509.43,343.97 L510.61,343.96 L511.78,343.95 L512.96,343.94 L514.14,343.94 L515.31,343.94 L516.49,343.93 L517.66,343.93 L518.84,343.93 L520.01,343.93 L521.19,343.93 L522.36,343.93 L523.54,343.93 L524.71,343.93" stroke="#4F7E28"/>
</g>
<rect x="386.4" y="296.4" width="135.6" height="135.8" fill="none" stroke="#979797" stroke-width="1.1"/>
<path d="M399.96,432.2V430M399.96,296.4V298.6M454.2,432.2V430M454.2,296.4V298.6M508.44,432.2V430M508.44,296.4V298.6M386.4,423.71H388.6M522,423.71H519.8M386.4,381.27H388.6M522,381.27H519.8M386.4,338.84H388.6M522,338.84H519.8M386.4,296.4H388.6M522,296.4H519.8" stroke="#777" stroke-width="0.9"/>
<g font-family="'Liberation Sans', sans-serif" font-size="16.8" fill="#222">
<text x="399.96" y="454.1" text-anchor="middle">-0.2</text>
<text x="454.2" y="454.1" text-anchor="middle">0</text>
<text x="508.44" y="454.1" text-anchor="middle">0.2</text>
<text x="380.2" y="430.11" text-anchor="end">0</text>
<text x="380.2" y="387.67" text-anchor="end">0.5</text>
<text x="380.2" y="345.24" text-anchor="end">1</text>
<text x="380.2" y="302.8" text-anchor="end">1.5</text>
</g>
<ellipse cx="390.4" cy="533.4" rx="25.8" ry="19.9" fill="url(#gA)" stroke="#8A4510" stroke-width="1.25"/>
<path d="M384.05,524.05H379.75V542.15H384.05M396.75,524.05H401.05V542.15H396.75" fill="none" stroke="#161616" stroke-width="1.5"/>
<text transform="translate(390.7,538) scale(0.8,1)" text-anchor="middle" font-family="'Liberation Serif', serif" font-size="20.6" fill="#111" stroke="#111" stroke-width="0.45">A</text>
<ellipse cx="522.5" cy="534" rx="25.8" ry="19.9" fill="url(#gP)" stroke="#3A7420" stroke-width="1.25"/>
<path d="M516.15,524.65H511.85V542.75H516.15M528.85,524.65H533.15V542.75H528.85" fill="none" stroke="#161616" stroke-width="1.5"/>
<text transform="translate(522.8,538.6) scale(0.92,1)" text-anchor="middle" font-family="'Liberation Serif', serif" font-size="20.6" fill="#111" stroke="#111" stroke-width="0.45">P</text>
<path d="M420.4,528.8L492.3,528.8M492.3,532.55L492.3,525.05" fill="none" stroke="#262626" stroke-width="1.4"/>
<path d="M492.3,537L420.4,537M420.4,533.25L420.4,540.75" fill="none" stroke="#262626" stroke-width="1.4"/>
<path d="M360.7,521.6 A17.8,17.8 0 1 0 360.0,543.2" fill="none" stroke="#5A9A3E" stroke-width="1.3"/>
<path d="M355.2,539.2 L363.8,546.0" fill="none" stroke="#5A9A3E" stroke-width="1.4"/>
<clipPath id="clip390_614"><rect x="390.2" y="614.3" width="135.1" height="136.1"/></clipPath>
<g clip-path="url(#clip390_614)" fill="none" stroke-width="2.2" stroke-linejoin="round" stroke-linecap="butt">
<path d="M387.5,657.37 L388.67,657.42 L389.84,657.47 L391.01,657.52 L392.18,657.58 L393.35,657.65 L394.52,657.72 L395.69,657.8 L396.86,657.88 L398.04,657.98 L399.21,658.08 L400.38,658.19 L401.55,658.3 L402.72,658.43 L403.89,658.57 L405.06,658.72 L406.23,658.88 L407.4,659.06 L408.57,659.25 L409.74,659.46 L410.92,659.69 L412.09,659.93 L413.26,660.2 L414.43,660.48 L415.6,660.79 L416.77,661.12 L417.94,661.48 L419.11,661.87 L420.28,662.29 L421.45,662.74 L422.62,663.23 L423.79,663.75 L424.97,664.31 L426.14,664.91 L427.31,665.55 L428.48,666.24 L429.65,666.97 L430.82,667.75 L431.99,668.59 L433.16,669.48 L434.33,670.42 L435.5,671.42 L436.67,672.47 L437.85,673.59 L439.02,674.76 L440.19,675.99 L441.36,677.28 L442.53,678.63 L443.7,680.04 L444.87,681.5 L446.04,683.01 L447.21,684.58 L448.38,686.19 L449.55,687.84 L450.72,689.54 L451.9,691.26 L453.07,693.02 L454.24,694.79 L455.41,696.59 L456.58,698.39 L457.75,700.2 L458.92,702 L460.09,703.79 L461.26,705.57 L462.43,707.33 L463.6,709.06 L464.78,710.75 L465.95,712.41 L467.12,714.03 L468.29,715.59 L469.46,717.11 L470.63,718.58 L471.8,719.99 L472.97,721.34 L474.14,722.64 L475.31,723.87 L476.48,725.05 L477.65,726.17 L478.83,727.23 L480,728.23 L481.17,729.18 L482.34,730.07 L483.51,730.91 L484.68,731.7 L485.85,732.43 L487.02,733.13 L488.19,733.77 L489.36,734.37 L490.53,734.94 L491.71,735.46 L492.88,735.95 L494.05,736.4 L495.22,736.82 L496.39,737.21 L497.56,737.57 L498.73,737.91 L499.9,738.22 L501.07,738.51 L502.24,738.77 L503.41,739.02 L504.58,739.25 L505.76,739.46 L506.93,739.65 L508.1,739.83 L509.27,739.99 L510.44,740.14 L511.61,740.28 L512.78,740.41 L513.95,740.53 L515.12,740.64 L516.29,740.74 L517.46,740.83 L518.64,740.92 L519.81,741 L520.98,741.07 L522.15,741.14 L523.32,741.2 L524.49,741.25 L525.66,741.31 L526.83,741.35 L528,741.4" stroke="#E7CB89"/>
<path d="M387.5,741.36 L388.67,741.31 L389.84,741.26 L391.01,741.2 L392.18,741.14 L393.35,741.08 L394.52,741 L395.69,740.93 L396.86,740.84 L398.04,740.75 L399.21,740.65 L400.38,740.54 L401.55,740.42 L402.72,740.29 L403.89,740.15 L405.06,740 L406.23,739.84 L407.4,739.66 L408.57,739.47 L409.74,739.26 L410.92,739.04 L412.09,738.79 L413.26,738.53 L414.43,738.24 L415.6,737.93 L416.77,737.6 L417.94,737.24 L419.11,736.85 L420.28,736.43 L421.45,735.98 L422.62,735.5 L423.79,734.98 L424.97,734.42 L426.14,733.82 L427.31,733.18 L428.48,732.49 L429.65,731.75 L430.82,730.97 L431.99,730.14 L433.16,729.25 L434.33,728.31 L435.5,727.31 L436.67,726.25 L437.85,725.14 L439.02,723.96 L440.19,722.73 L441.36,721.44 L442.53,720.09 L443.7,718.69 L444.87,717.23 L446.04,715.71 L447.21,714.15 L448.38,712.54 L449.55,710.88 L450.72,709.19 L451.9,707.46 L453.07,705.71 L454.24,703.93 L455.41,702.14 L456.58,700.34 L457.75,698.53 L458.92,696.73 L460.09,694.93 L461.26,693.15 L462.43,691.4 L463.6,689.67 L464.78,687.97 L465.95,686.31 L467.12,684.7 L468.29,683.13 L469.46,681.61 L470.63,680.15 L471.8,678.74 L472.97,677.38 L474.14,676.09 L475.31,674.85 L476.48,673.68 L477.65,672.56 L478.83,671.5 L480,670.49 L481.17,669.55 L482.34,668.66 L483.51,667.82 L484.68,667.03 L485.85,666.29 L487.02,665.6 L488.19,664.95 L489.36,664.35 L490.53,663.79 L491.71,663.26 L492.88,662.78 L494.05,662.32 L495.22,661.9 L496.39,661.51 L497.56,661.15 L498.73,660.82 L499.9,660.5 L501.07,660.22 L502.24,659.95 L503.41,659.71 L504.58,659.48 L505.76,659.27 L506.93,659.08 L508.1,658.9 L509.27,658.73 L510.44,658.58 L511.61,658.44 L512.78,658.31 L513.95,658.19 L515.12,658.08 L516.29,657.98 L517.46,657.89 L518.64,657.81 L519.81,657.73 L520.98,657.66 L522.15,657.59 L523.32,657.53 L524.49,657.47 L525.66,657.42 L526.83,657.37 L528,657.33" stroke="#BAD684"/>
<path d="M387.5,701.91 L388.67,701.91 L389.84,701.91 L391.01,701.91 L392.18,701.91 L393.35,701.91 L394.52,701.91 L395.69,701.91 L396.86,701.91 L398.04,701.91 L399.21,701.91 L400.38,701.91 L401.55,701.92 L402.72,701.92 L403.89,701.92 L405.06,701.92 L406.23,701.92 L407.4,701.92 L408.57,701.92 L409.74,701.92 L410.92,701.92 L412.09,701.93 L413.26,701.93 L414.43,701.94 L415.6,701.95 L416.77,701.96 L417.94,701.98 L419.11,702.01 L420.28,702.05 L421.45,702.1 L422.62,702.17 L423.79,702.27 L424.97,702.4 L426.14,702.59 L427.31,702.85 L428.48,703.21 L429.65,703.7 L430.82,704.36 L431.99,705.23 L433.16,706.37 L434.33,707.81 L435.5,709.57 L436.67,711.63 L437.85,713.91 L439.02,716.32 L440.19,718.74 L441.36,721.08 L442.53,723.26 L443.7,725.23 L444.87,726.99 L446.04,728.54 L447.21,729.89 L448.38,731.06 L449.55,732.08 L450.72,732.94 L451.9,733.68 L453.07,734.3 L454.24,734.82 L455.41,735.26 L456.58,735.62 L457.75,735.92 L458.92,736.17 L460.09,736.37 L461.26,736.53 L462.43,736.66 L463.6,736.77 L464.78,736.86 L465.95,736.93 L467.12,736.98 L468.29,737.03 L469.46,737.07 L470.63,737.1 L471.8,737.12 L472.97,737.14 L474.14,737.15 L475.31,737.17 L476.48,737.18 L477.65,737.18 L478.83,737.19 L480,737.19 L481.17,737.2 L482.34,737.2 L483.51,737.2 L484.68,737.21 L485.85,737.21 L487.02,737.21 L488.19,737.21 L489.36,737.21 L490.53,737.21 L491.71,737.21 L492.88,737.21 L494.05,737.21 L495.22,737.21 L496.39,737.21 L497.56,737.21 L498.73,737.21 L499.9,737.21 L501.07,737.21 L502.24,737.22 L503.41,737.22 L504.58,737.22 L505.76,737.22 L506.93,737.22 L508.1,737.22 L509.27,737.22 L510.44,737.22 L511.61,737.22 L512.78,737.22 L513.95,737.22 L515.12,737.22 L516.29,737.22 L517.46,737.22 L518.64,737.22 L519.81,737.22 L520.98,737.22 L522.15,737.22 L523.32,737.22 L524.49,737.22 L525.66,737.22 L526.83,737.22 L528,737.22" stroke="#E3B873"/>
<path d="M387.5,701.93 L388.67,701.94 L389.84,701.94 L391.01,701.95 L392.18,701.96 L393.35,701.98 L394.52,702 L395.69,702.03 L396.86,702.07 L398.04,702.12 L399.21,702.18 L400.38,702.27 L401.55,702.39 L402.72,702.54 L403.89,702.74 L405.06,703.01 L406.23,703.37 L407.4,703.83 L408.57,704.43 L409.74,705.2 L410.92,706.16 L412.09,707.36 L413.26,708.8 L414.43,710.49 L415.6,712.41 L416.77,714.5 L417.94,716.69 L419.11,718.91 L420.28,721.07 L421.45,723.13 L422.62,725.03 L423.79,726.76 L424.97,728.3 L426.14,729.67 L427.31,730.86 L428.48,731.89 L429.65,732.78 L430.82,733.53 L431.99,734.17 L433.16,734.71 L434.33,735.16 L435.5,735.53 L436.67,735.84 L437.85,736.1 L439.02,736.31 L440.19,736.48 L441.36,736.62 L442.53,736.73 L443.7,736.83 L444.87,736.9 L446.04,736.96 L447.21,737.01 L448.38,737.05 L449.55,737.08 L450.72,737.11 L451.9,737.13 L453.07,737.15 L454.24,737.16 L455.41,737.17 L456.58,737.18 L457.75,737.19 L458.92,737.19 L460.09,737.2 L461.26,737.2 L462.43,737.2 L463.6,737.21 L464.78,737.21 L465.95,737.21 L467.12,737.21 L468.29,737.21 L469.46,737.21 L470.63,737.21 L471.8,737.21 L472.97,737.21 L474.14,737.21 L475.31,737.21 L476.48,737.21 L477.65,737.21 L478.83,737.21 L480,737.21 L481.17,737.21 L482.34,737.22 L483.51,737.22 L484.68,737.22 L485.85,737.22 L487.02,737.22 L488.19,737.22 L489.36,737.22 L490.53,737.22 L491.71,737.22 L492.88,737.22 L494.05,737.22 L495.22,737.22 L496.39,737.22 L497.56,737.22 L498.73,737.22 L499.9,737.22 L501.07,737.22 L502.24,737.22 L503.41,737.22 L504.58,737.22 L505.76,737.22 L506.93,737.22 L508.1,737.22 L509.27,737.22 L510.44,737.22 L511.61,737.22 L512.78,737.22 L513.95,737.22 L515.12,737.22 L516.29,737.22 L517.46,737.22 L518.64,737.22 L519.81,737.22 L520.98,737.22 L522.15,737.22 L523.32,737.22 L524.49,737.22 L525.66,737.22 L526.83,737.22 L528,737.22" stroke="#E0A24A"/>
<path d="M387.5,706.5 L388.67,707.22 L389.84,708.02 L391.01,708.93 L392.18,709.94 L393.35,711.07 L394.52,712.33 L395.69,713.73 L396.86,715.26 L398.04,716.93 L399.21,718.72 L400.38,720.6 L401.55,722.55 L402.72,724.49 L403.89,726.37 L405.06,728.14 L406.23,729.75 L407.4,731.16 L408.57,732.38 L409.74,733.39 L410.92,734.21 L412.09,734.87 L413.26,735.4 L414.43,735.81 L415.6,736.13 L416.77,736.38 L417.94,736.58 L419.11,736.72 L420.28,736.84 L421.45,736.93 L422.62,736.99 L423.79,737.04 L424.97,737.08 L426.14,737.11 L427.31,737.14 L428.48,737.16 L429.65,737.17 L430.82,737.18 L431.99,737.19 L433.16,737.19 L434.33,737.2 L435.5,737.2 L436.67,737.21 L437.85,737.21 L439.02,737.21 L440.19,737.21 L441.36,737.21 L442.53,737.21 L443.7,737.21 L444.87,737.21 L446.04,737.21 L447.21,737.21 L448.38,737.21 L449.55,737.21 L450.72,737.21 L451.9,737.21 L453.07,737.22 L454.24,737.22 L455.41,737.22 L456.58,737.22 L457.75,737.22 L458.92,737.22 L460.09,737.22 L461.26,737.22 L462.43,737.22 L463.6,737.22 L464.78,737.22 L465.95,737.22 L467.12,737.22 L468.29,737.22 L469.46,737.22 L470.63,737.22 L471.8,737.22 L472.97,737.22 L474.14,737.22 L475.31,737.22 L476.48,737.22 L477.65,737.22 L478.83,737.22 L480,737.22 L481.17,737.22 L482.34,737.22 L483.51,737.22 L484.68,737.22 L485.85,737.22 L487.02,737.22 L488.19,737.22 L489.36,737.22 L490.53,737.22 L491.71,737.22 L492.88,737.22 L494.05,737.22 L495.22,737.22 L496.39,737.22 L497.56,737.22 L498.73,737.22 L499.9,737.22 L501.07,737.22 L502.24,737.22 L503.41,737.22 L504.58,737.22 L505.76,737.22 L506.93,737.22 L508.1,737.22 L509.27,737.22 L510.44,737.22 L511.61,737.22 L512.78,737.22 L513.95,737.22 L515.12,737.22 L516.29,737.22 L517.46,737.22 L518.64,737.22 L519.81,737.22 L520.98,737.22 L522.15,737.22 L523.32,737.22 L524.49,737.22 L525.66,737.22 L526.83,737.22 L528,737.22" stroke="#DB8E3D"/>
<path d="M387.5,737.13 L388.67,737.13 L389.84,737.13 L391.01,737.13 L392.18,737.13 L393.35,737.13 L394.52,737.13 L395.69,737.13 L396.86,737.13 L398.04,737.13 L399.21,737.13 L400.38,737.13 L401.55,737.13 L402.72,737.13 L403.89,737.13 L405.06,737.13 L406.23,737.13 L407.4,737.13 L408.57,737.13 L409.74,737.13 L410.92,737.13 L412.09,737.13 L413.26,737.13 L414.43,737.13 L415.6,737.13 L416.77,737.13 L417.94,737.13 L419.11,737.13 L420.28,737.13 L421.45,737.13 L422.62,737.13 L423.79,737.13 L424.97,737.13 L426.14,737.13 L427.31,737.13 L428.48,737.13 L429.65,737.13 L430.82,737.13 L431.99,737.13 L433.16,737.13 L434.33,737.13 L435.5,737.13 L436.67,737.13 L437.85,737.13 L439.02,737.13 L440.19,737.13 L441.36,737.13 L442.53,737.13 L443.7,737.13 L444.87,737.13 L446.04,737.13 L447.21,737.13 L448.38,737.13 L449.55,737.13 L450.72,737.13 L451.9,737.13 L453.07,737.13 L454.24,737.13 L455.41,737.13 L456.58,737.13 L457.75,737.13 L458.92,737.13 L460.09,737.13 L461.26,737.13 L462.43,737.13 L463.6,737.13 L464.78,737.13 L465.95,737.13 L467.12,737.13 L468.29,737.13 L469.46,737.13 L470.63,737.13 L471.8,737.13 L472.97,737.13 L474.14,737.13 L475.31,737.13 L476.48,737.13 L477.65,737.13 L478.83,737.13 L480,737.13 L481.17,737.13 L482.34,737.13 L483.51,737.13 L484.68,737.13 L485.85,737.13 L487.02,737.13 L488.19,737.13 L489.36,737.13 L490.53,737.13 L491.71,737.13 L492.88,737.13 L494.05,737.13 L495.22,737.13 L496.39,737.13 L497.56,737.13 L498.73,737.13 L499.9,737.13 L501.07,737.13 L502.24,737.13 L503.41,737.13 L504.58,737.13 L505.76,737.13 L506.93,737.13 L508.1,737.13 L509.27,737.13 L510.44,737.13 L511.61,737.13 L512.78,737.13 L513.95,737.13 L515.12,737.13 L516.29,737.13 L517.46,737.13 L518.64,737.13 L519.81,737.13 L520.98,737.13 L522.15,737.13 L523.32,737.13 L524.49,737.13 L525.66,737.13 L526.83,737.13 L528,737.13" stroke="#D2782C"/>
<path d="M387.5,737.13 L388.67,737.13 L389.84,737.13 L391.01,737.13 L392.18,737.13 L393.35,737.13 L394.52,737.13 L395.69,737.13 L396.86,737.13 L398.04,737.13 L399.21,737.13 L400.38,737.13 L401.55,737.13 L402.72,737.13 L403.89,737.13 L405.06,737.13 L406.23,737.13 L407.4,737.13 L408.57,737.13 L409.74,737.13 L410.92,737.13 L412.09,737.13 L413.26,737.13 L414.43,737.13 L415.6,737.13 L416.77,737.13 L417.94,737.13 L419.11,737.13 L420.28,737.13 L421.45,737.13 L422.62,737.13 L423.79,737.13 L424.97,737.13 L426.14,737.13 L427.31,737.13 L428.48,737.13 L429.65,737.13 L430.82,737.13 L431.99,737.13 L433.16,737.13 L434.33,737.13 L435.5,737.13 L436.67,737.13 L437.85,737.13 L439.02,737.13 L440.19,737.13 L441.36,737.13 L442.53,737.13 L443.7,737.13 L444.87,737.13 L446.04,737.13 L447.21,737.13 L448.38,737.13 L449.55,737.13 L450.72,737.13 L451.9,737.13 L453.07,737.13 L454.24,737.13 L455.41,737.13 L456.58,737.13 L457.75,737.13 L458.92,737.13 L460.09,737.13 L461.26,737.13 L462.43,737.13 L463.6,737.13 L464.78,737.13 L465.95,737.13 L467.12,737.13 L468.29,737.13 L469.46,737.13 L470.63,737.13 L471.8,737.13 L472.97,737.13 L474.14,737.13 L475.31,737.13 L476.48,737.13 L477.65,737.13 L478.83,737.13 L480,737.13 L481.17,737.13 L482.34,737.13 L483.51,737.13 L484.68,737.13 L485.85,737.13 L487.02,737.13 L488.19,737.13 L489.36,737.13 L490.53,737.13 L491.71,737.13 L492.88,737.13 L494.05,737.13 L495.22,737.13 L496.39,737.13 L497.56,737.13 L498.73,737.13 L499.9,737.13 L501.07,737.13 L502.24,737.13 L503.41,737.13 L504.58,737.13 L505.76,737.13 L506.93,737.13 L508.1,737.13 L509.27,737.13 L510.44,737.13 L511.61,737.13 L512.78,737.13 L513.95,737.13 L515.12,737.13 L516.29,737.13 L517.46,737.13 L518.64,737.13 L519.81,737.13 L520.98,737.13 L522.15,737.13 L523.32,737.13 L524.49,737.13 L525.66,737.13 L526.83,737.13 L528,737.13" stroke="#C46019"/>
<path d="M387.5,725.56 L388.67,725.56 L389.84,725.56 L391.01,725.56 L392.18,725.56 L393.35,725.56 L394.52,725.56 L395.69,725.56 L396.86,725.56 L398.04,725.56 L399.21,725.56 L400.38,725.56 L401.55,725.56 L402.72,725.56 L403.89,725.56 L405.06,725.56 L406.23,725.56 L407.4,725.56 L408.57,725.56 L409.74,725.56 L410.92,725.56 L412.09,725.55 L413.26,725.55 L414.43,725.55 L415.6,725.54 L416.77,725.54 L417.94,725.53 L419.11,725.52 L420.28,725.5 L421.45,725.48 L422.62,725.45 L423.79,725.41 L424.97,725.36 L426.14,725.28 L427.31,725.18 L428.48,725.05 L429.65,724.86 L430.82,724.61 L431.99,724.27 L433.16,723.81 L434.33,723.19 L435.5,722.36 L436.67,721.27 L437.85,719.83 L439.02,717.99 L440.19,715.68 L441.36,712.88 L442.53,709.61 L443.7,705.93 L444.87,701.99 L446.04,697.95 L447.21,693.96 L448.38,690.16 L449.55,686.64 L450.72,683.44 L451.9,680.58 L453.07,678.04 L454.24,675.79 L455.41,673.82 L456.58,672.1 L457.75,670.61 L458.92,669.31 L460.09,668.19 L461.26,667.24 L462.43,666.43 L463.6,665.74 L464.78,665.16 L465.95,664.68 L467.12,664.27 L468.29,663.94 L469.46,663.66 L470.63,663.43 L471.8,663.23 L472.97,663.08 L474.14,662.95 L475.31,662.84 L476.48,662.75 L477.65,662.68 L478.83,662.62 L480,662.58 L481.17,662.54 L482.34,662.5 L483.51,662.48 L484.68,662.46 L485.85,662.44 L487.02,662.42 L488.19,662.41 L489.36,662.4 L490.53,662.4 L491.71,662.39 L492.88,662.38 L494.05,662.38 L495.22,662.38 L496.39,662.37 L497.56,662.37 L498.73,662.37 L499.9,662.37 L501.07,662.37 L502.24,662.36 L503.41,662.36 L504.58,662.36 L505.76,662.36 L506.93,662.36 L508.1,662.36 L509.27,662.36 L510.44,662.36 L511.61,662.36 L512.78,662.36 L513.95,662.36 L515.12,662.36 L516.29,662.36 L517.46,662.36 L518.64,662.36 L519.81,662.36 L520.98,662.36 L522.15,662.36 L523.32,662.36 L524.49,662.36 L525.66,662.36 L526.83,662.36 L528,662.36" stroke="#A3C971"/>
<path d="M387.5,725.56 L388.67,725.56 L389.84,725.55 L391.01,725.55 L392.18,725.55 L393.35,725.54 L394.52,725.54 L395.69,725.53 L396.86,725.52 L398.04,725.5 L399.21,725.48 L400.38,725.45 L401.55,725.41 L402.72,725.36 L403.89,725.29 L405.06,725.19 L406.23,725.06 L407.4,724.87 L408.57,724.63 L409.74,724.29 L410.92,723.84 L412.09,723.23 L413.26,722.42 L414.43,721.33 L415.6,719.92 L416.77,718.1 L417.94,715.82 L419.11,713.04 L420.28,709.79 L421.45,706.14 L422.62,702.21 L423.79,698.17 L424.97,694.17 L426.14,690.36 L427.31,686.82 L428.48,683.61 L429.65,680.73 L430.82,678.17 L431.99,675.91 L433.16,673.92 L434.33,672.19 L435.5,670.68 L436.67,669.37 L437.85,668.25 L439.02,667.29 L440.19,666.47 L441.36,665.78 L442.53,665.19 L443.7,664.7 L444.87,664.29 L446.04,663.95 L447.21,663.67 L448.38,663.44 L449.55,663.24 L450.72,663.08 L451.9,662.95 L453.07,662.85 L454.24,662.76 L455.41,662.69 L456.58,662.63 L457.75,662.58 L458.92,662.54 L460.09,662.51 L461.26,662.48 L462.43,662.46 L463.6,662.44 L464.78,662.43 L465.95,662.41 L467.12,662.4 L468.29,662.4 L469.46,662.39 L470.63,662.38 L471.8,662.38 L472.97,662.38 L474.14,662.37 L475.31,662.37 L476.48,662.37 L477.65,662.37 L478.83,662.37 L480,662.36 L481.17,662.36 L482.34,662.36 L483.51,662.36 L484.68,662.36 L485.85,662.36 L487.02,662.36 L488.19,662.36 L489.36,662.36 L490.53,662.36 L491.71,662.36 L492.88,662.36 L494.05,662.36 L495.22,662.36 L496.39,662.36 L497.56,662.36 L498.73,662.36 L499.9,662.36 L501.07,662.36 L502.24,662.36 L503.41,662.36 L504.58,662.36 L505.76,662.36 L506.93,662.36 L508.1,662.36 L509.27,662.36 L510.44,662.36 L511.61,662.36 L512.78,662.36 L513.95,662.36 L515.12,662.36 L516.29,662.36 L517.46,662.36 L518.64,662.36 L519.81,662.36 L520.98,662.36 L522.15,662.36 L523.32,662.36 L524.49,662.36 L525.66,662.36 L526.83,662.36 L528,662.36" stroke="#8DB962"/>
<path d="M387.5,724.14 L388.67,723.57 L389.84,722.87 L391.01,722.02 L392.18,720.99 L393.35,719.76 L394.52,718.3 L395.69,716.58 L396.86,714.59 L398.04,712.31 L399.21,709.75 L400.38,706.93 L401.55,703.89 L402.72,700.68 L403.89,697.36 L405.06,694.01 L406.23,690.7 L407.4,687.5 L408.57,684.47 L409.74,681.65 L410.92,679.06 L412.09,676.71 L413.26,674.63 L414.43,672.78 L415.6,671.17 L416.77,669.78 L417.94,668.58 L419.11,667.56 L420.28,666.69 L421.45,665.96 L422.62,665.35 L423.79,664.83 L424.97,664.4 L426.14,664.05 L427.31,663.75 L428.48,663.51 L429.65,663.3 L430.82,663.14 L431.99,663 L433.16,662.88 L434.33,662.79 L435.5,662.71 L436.67,662.65 L437.85,662.6 L439.02,662.56 L440.19,662.52 L441.36,662.49 L442.53,662.47 L443.7,662.45 L444.87,662.43 L446.04,662.42 L447.21,662.41 L448.38,662.4 L449.55,662.39 L450.72,662.39 L451.9,662.38 L453.07,662.38 L454.24,662.38 L455.41,662.37 L456.58,662.37 L457.75,662.37 L458.92,662.37 L460.09,662.37 L461.26,662.36 L462.43,662.36 L463.6,662.36 L464.78,662.36 L465.95,662.36 L467.12,662.36 L468.29,662.36 L469.46,662.36 L470.63,662.36 L471.8,662.36 L472.97,662.36 L474.14,662.36 L475.31,662.36 L476.48,662.36 L477.65,662.36 L478.83,662.36 L480,662.36 L481.17,662.36 L482.34,662.36 L483.51,662.36 L484.68,662.36 L485.85,662.36 L487.02,662.36 L488.19,662.36 L489.36,662.36 L490.53,662.36 L491.71,662.36 L492.88,662.36 L494.05,662.36 L495.22,662.36 L496.39,662.36 L497.56,662.36 L498.73,662.36 L499.9,662.36 L501.07,662.36 L502.24,662.36 L503.41,662.36 L504.58,662.36 L505.76,662.36 L506.93,662.36 L508.1,662.36 L509.27,662.36 L510.44,662.36 L511.61,662.36 L512.78,662.36 L513.95,662.36 L515.12,662.36 L516.29,662.36 L517.46,662.36 L518.64,662.36 L519.81,662.36 L520.98,662.36 L522.15,662.36 L523.32,662.36 L524.49,662.36 L525.66,662.36 L526.83,662.36 L528,662.36" stroke="#77A448"/>
<path d="M387.5,666.52 L388.67,666.33 L389.84,666.08 L391.01,665.78 L392.18,665.42 L393.35,665.02 L394.52,664.6 L395.69,664.19 L396.86,663.81 L398.04,663.47 L399.21,663.19 L400.38,662.97 L401.55,662.81 L402.72,662.68 L403.89,662.59 L405.06,662.52 L406.23,662.47 L407.4,662.44 L408.57,662.42 L409.74,662.4 L410.92,662.39 L412.09,662.38 L413.26,662.37 L414.43,662.37 L415.6,662.37 L416.77,662.36 L417.94,662.36 L419.11,662.36 L420.28,662.36 L421.45,662.36 L422.62,662.36 L423.79,662.36 L424.97,662.36 L426.14,662.36 L427.31,662.36 L428.48,662.36 L429.65,662.36 L430.82,662.36 L431.99,662.36 L433.16,662.36 L434.33,662.36 L435.5,662.36 L436.67,662.36 L437.85,662.36 L439.02,662.36 L440.19,662.36 L441.36,662.36 L442.53,662.36 L443.7,662.36 L444.87,662.36 L446.04,662.36 L447.21,662.36 L448.38,662.36 L449.55,662.36 L450.72,662.36 L451.9,662.36 L453.07,662.36 L454.24,662.36 L455.41,662.36 L456.58,662.36 L457.75,662.36 L458.92,662.36 L460.09,662.36 L461.26,662.36 L462.43,662.36 L463.6,662.36 L464.78,662.36 L465.95,662.36 L467.12,662.36 L468.29,662.36 L469.46,662.36 L470.63,662.36 L471.8,662.36 L472.97,662.36 L474.14,662.36 L475.31,662.36 L476.48,662.36 L477.65,662.36 L478.83,662.36 L480,662.36 L481.17,662.36 L482.34,662.36 L483.51,662.36 L484.68,662.36 L485.85,662.36 L487.02,662.36 L488.19,662.36 L489.36,662.36 L490.53,662.36 L491.71,662.36 L492.88,662.36 L494.05,662.36 L495.22,662.36 L496.39,662.36 L497.56,662.36 L498.73,662.36 L499.9,662.36 L501.07,662.36 L502.24,662.36 L503.41,662.36 L504.58,662.36 L505.76,662.36 L506.93,662.36 L508.1,662.36 L509.27,662.36 L510.44,662.36 L511.61,662.36 L512.78,662.36 L513.95,662.36 L515.12,662.36 L516.29,662.36 L517.46,662.36 L518.64,662.36 L519.81,662.36 L520.98,662.36 L522.15,662.36 L523.32,662.36 L524.49,662.36 L525.66,662.36 L526.83,662.36 L528,662.36" stroke="#67933C"/>
<path d="M387.5,662.19 L388.67,662.19 L389.84,662.19 L391.01,662.19 L392.18,662.19 L393.35,662.19 L394.52,662.19 L395.69,662.19 L396.86,662.19 L398.04,662.19 L399.21,662.19 L400.38,662.19 L401.55,662.19 L402.72,662.19 L403.89,662.19 L405.06,662.19 L406.23,662.19 L407.4,662.19 L408.57,662.19 L409.74,662.19 L410.92,662.19 L412.09,662.19 L413.26,662.19 L414.43,662.19 L415.6,662.19 L416.77,662.19 L417.94,662.19 L419.11,662.19 L420.28,662.19 L421.45,662.19 L422.62,662.19 L423.79,662.19 L424.97,662.19 L426.14,662.19 L427.31,662.19 L428.48,662.19 L429.65,662.19 L430.82,662.19 L431.99,662.19 L433.16,662.19 L434.33,662.19 L435.5,662.19 L436.67,662.19 L437.85,662.19 L439.02,662.19 L440.19,662.19 L441.36,662.19 L442.53,662.19 L443.7,662.19 L444.87,662.19 L446.04,662.19 L447.21,662.19 L448.38,662.19 L449.55,662.19 L450.72,662.19 L451.9,662.19 L453.07,662.19 L454.24,662.19 L455.41,662.19 L456.58,662.19 L457.75,662.19 L458.92,662.19 L460.09,662.19 L461.26,662.19 L462.43,662.19 L463.6,662.19 L464.78,662.19 L465.95,662.19 L467.12,662.19 L468.29,662.19 L469.46,662.19 L470.63,662.19 L471.8,662.19 L472.97,662.19 L474.14,662.19 L475.31,662.19 L476.48,662.19 L477.65,662.19 L478.83,662.19 L480,662.19 L481.17,662.19 L482.34,662.19 L483.51,662.19 L484.68,662.19 L485.85,662.19 L487.02,662.19 L488.19,662.19 L489.36,662.19 L490.53,662.19 L491.71,662.19 L492.88,662.19 L494.05,662.19 L495.22,662.19 L496.39,662.19 L497.56,662.19 L498.73,662.19 L499.9,662.19 L501.07,662.19 L502.24,662.19 L503.41,662.19 L504.58,662.19 L505.76,662.19 L506.93,662.19 L508.1,662.19 L509.27,662.19 L510.44,662.19 L511.61,662.19 L512.78,662.19 L513.95,662.19 L515.12,662.19 L516.29,662.19 L517.46,662.19 L518.64,662.19 L519.81,662.19 L520.98,662.19 L522.15,662.19 L523.32,662.19 L524.49,662.19 L525.66,662.19 L526.83,662.19 L528,662.19" stroke="#4F7E28"/>
</g>
<rect x="390.2" y="614.3" width="135.1" height="136.1" fill="none" stroke="#979797" stroke-width="1.1"/>
<path d="M403.71,750.4V748.2M403.71,614.3V616.5M457.75,750.4V748.2M457.75,614.3V616.5M511.79,750.4V748.2M511.79,614.3V616.5M390.2,741.89H392.4M525.3,741.89H523.1M390.2,699.36H392.4M525.3,699.36H523.1M390.2,656.83H392.4M525.3,656.83H523.1M390.2,614.3H392.4M525.3,614.3H523.1" stroke="#777" stroke-width="0.9"/>
<g font-family="'Liberation Sans', sans-serif" font-size="16.8" fill="#222">
<text x="403.71" y="772.3" text-anchor="middle">-0.2</text>
<text x="457.75" y="772.3" text-anchor="middle">0</text>
<text x="511.79" y="772.3" text-anchor="middle">0.2</text>
<text x="384" y="748.29" text-anchor="end">0</text>
<text x="384" y="705.76" text-anchor="end">0.5</text>
<text x="384" y="663.23" text-anchor="end">1</text>
<text x="384" y="620.7" text-anchor="end">1.5</text>
</g>
<ellipse cx="648.5" cy="175.4" rx="25.8" ry="19.9" fill="url(#gA)" stroke="#8A4510" stroke-width="1.25"/>
<path d="M642.15,166.05H637.85V184.15H642.15M654.85,166.05H659.15V184.15H654.85" fill="none" stroke="#161616" stroke-width="1.5"/>
<text transform="translate(648.8,180) scale(0.8,1)" text-anchor="middle" font-family="'Liberation Serif', serif" font-size="20.6" fill="#111" stroke="#111" stroke-width="0.45">A</text>
<ellipse cx="780.6" cy="175.6" rx="25.8" ry="19.9" fill="url(#gP)" stroke="#3A7420" stroke-width="1.25"/>
<path d="M774.25,166.25H769.95V184.35H774.25M786.95,166.25H791.25V184.35H786.95" fill="none" stroke="#161616" stroke-width="1.5"/>
<text transform="translate(780.9,180.2) scale(0.92,1)" text-anchor="middle" font-family="'Liberation Serif', serif" font-size="20.6" fill="#111" stroke="#111" stroke-width="0.45">P</text>
<ellipse cx="780.6" cy="256.4" rx="25.8" ry="19.9" fill="url(#gL)" stroke="#9A0000" stroke-width="1.25"/>
<path d="M774.25,247.05H769.95V265.15H774.25M786.95,247.05H791.25V265.15H786.95" fill="none" stroke="#161616" stroke-width="1.5"/>
<text transform="translate(780.9,261) scale(0.85,1)" text-anchor="middle" font-family="'Liberation Serif', serif" font-size="20.6" fill="#111" stroke="#111" stroke-width="0.45">L</text>
<path d="M679.2,170.2L750.7,170.2M750.7,173.95L750.7,166.45" fill="none" stroke="#262626" stroke-width="1.4"/>
<path d="M750.7,178.9L679.2,178.9M679.2,175.15L679.2,182.65" fill="none" stroke="#262626" stroke-width="1.4"/>
<path d="M672.9,191.7L753.6,244.1M751.29,247.66L755.91,240.54" fill="none" stroke="#5A9A3E" stroke-width="1.2"/>
<path d="M749,250.9L667.2,197.1M669.54,193.55L664.86,200.65" fill="none" stroke="#5A9A3E" stroke-width="1.2"/>
<ellipse cx="884.1" cy="175.2" rx="25.8" ry="19.9" fill="url(#gA)" stroke="#8A4510" stroke-width="1.25"/>
<path d="M877.75,165.85H873.45V183.95H877.75M890.45,165.85H894.75V183.95H890.45" fill="none" stroke="#161616" stroke-width="1.5"/>
<text transform="translate(884.4,179.8) scale(0.8,1)" text-anchor="middle" font-family="'Liberation Serif', serif" font-size="20.6" fill="#111" stroke="#111" stroke-width="0.45">A</text>
<ellipse cx="1016.1" cy="175.6" rx="25.8" ry="19.9" fill="url(#gP)" stroke="#3A7420" stroke-width="1.25"/>
<path d="M1009.75,166.25H1005.45V184.35H1009.75M1022.45,166.25H1026.75V184.35H1022.45" fill="none" stroke="#161616" stroke-width="1.5"/>
<text transform="translate(1016.4,180.2) scale(0.92,1)" text-anchor="middle" font-family="'Liberation Serif', serif" font-size="20.6" fill="#111" stroke="#111" stroke-width="0.45">P</text>
<ellipse cx="884.2" cy="256.5" rx="25.8" ry="19.9" fill="url(#gL)" stroke="#9A0000" stroke-width="1.25"/>
<path d="M877.85,247.15H873.55V265.25H877.85M890.55,247.15H894.85V265.25H890.55" fill="none" stroke="#161616" stroke-width="1.5"/>
<text transform="translate(884.5,261.1) scale(0.85,1)" text-anchor="middle" font-family="'Liberation Serif', serif" font-size="20.6" fill="#111" stroke="#111" stroke-width="0.45">L</text>
<path d="M914.5,170.2L986.2,170.2M986.2,173.95L986.2,166.45" fill="none" stroke="#262626" stroke-width="1.4"/>
<path d="M986.2,178.9L914.5,178.9M914.5,175.15L914.5,182.65" fill="none" stroke="#262626" stroke-width="1.4"/>
<path d="M878.9,232.7L878.9,198.8M882.4,198.8L875.4,198.8" fill="none" stroke="#5A9A3E" stroke-width="1.2"/>
<path d="M888.5,198.8L888.5,232.7M885,232.7L892,232.7" fill="none" stroke="#5A9A3E" stroke-width="1.2"/>
<clipPath id="clip652_296"><rect x="652.4" y="296.2" width="135.8" height="136"/></clipPath>
<g clip-path="url(#clip652_296)" fill="none" stroke-width="2.2" stroke-linejoin="round" stroke-linecap="butt">
<path d="M649.68,339.24 L650.86,339.28 L652.04,339.34 L653.21,339.39 L654.39,339.45 L655.57,339.52 L656.75,339.59 L657.92,339.67 L659.1,339.75 L660.28,339.84 L661.45,339.94 L662.63,340.05 L663.81,340.17 L664.98,340.3 L666.16,340.44 L667.34,340.59 L668.51,340.75 L669.69,340.93 L670.87,341.12 L672.05,341.33 L673.22,341.55 L674.4,341.8 L675.58,342.06 L676.75,342.35 L677.93,342.66 L679.11,342.99 L680.28,343.35 L681.46,343.74 L682.64,344.16 L683.82,344.61 L684.99,345.09 L686.17,345.61 L687.35,346.17 L688.52,346.77 L689.7,347.41 L690.88,348.1 L692.05,348.83 L693.23,349.62 L694.41,350.45 L695.58,351.34 L696.76,352.28 L697.94,353.28 L699.12,354.33 L700.29,355.44 L701.47,356.62 L702.65,357.85 L703.82,359.14 L705,360.48 L706.18,361.89 L707.35,363.35 L708.53,364.86 L709.71,366.43 L710.88,368.04 L712.06,369.69 L713.24,371.38 L714.42,373.11 L715.59,374.86 L716.77,376.63 L717.95,378.43 L719.12,380.23 L720.3,382.03 L721.48,383.84 L722.65,385.63 L723.83,387.41 L725.01,389.16 L726.18,390.89 L727.36,392.58 L728.54,394.24 L729.72,395.85 L730.89,397.42 L732.07,398.94 L733.25,400.4 L734.42,401.81 L735.6,403.16 L736.78,404.46 L737.95,405.69 L739.13,406.87 L740.31,407.99 L741.48,409.04 L742.66,410.05 L743.84,410.99 L745.02,411.88 L746.19,412.72 L747.37,413.51 L748.55,414.25 L749.72,414.94 L750.9,415.58 L752.08,416.19 L753.25,416.75 L754.43,417.27 L755.61,417.76 L756.78,418.21 L757.96,418.63 L759.14,419.02 L760.32,419.38 L761.49,419.72 L762.67,420.03 L763.85,420.32 L765.02,420.58 L766.2,420.83 L767.38,421.05 L768.55,421.26 L769.73,421.46 L770.91,421.63 L772.09,421.8 L773.26,421.95 L774.44,422.09 L775.62,422.22 L776.79,422.34 L777.97,422.45 L779.15,422.55 L780.32,422.64 L781.5,422.73 L782.68,422.8 L783.85,422.88 L785.03,422.94 L786.21,423 L787.39,423.06 L788.56,423.11 L789.74,423.16 L790.92,423.2" stroke="#E7CB89"/>
<path d="M649.68,423.16 L650.86,423.12 L652.04,423.06 L653.21,423.01 L654.39,422.95 L655.57,422.88 L656.75,422.81 L657.92,422.73 L659.1,422.65 L660.28,422.56 L661.45,422.46 L662.63,422.35 L663.81,422.23 L664.98,422.1 L666.16,421.96 L667.34,421.81 L668.51,421.65 L669.69,421.47 L670.87,421.28 L672.05,421.07 L673.22,420.85 L674.4,420.6 L675.58,420.34 L676.75,420.05 L677.93,419.74 L679.11,419.41 L680.28,419.05 L681.46,418.66 L682.64,418.24 L683.82,417.79 L684.99,417.31 L686.17,416.79 L687.35,416.23 L688.52,415.63 L689.7,414.99 L690.88,414.3 L692.05,413.57 L693.23,412.78 L694.41,411.95 L695.58,411.06 L696.76,410.12 L697.94,409.12 L699.12,408.07 L700.29,406.96 L701.47,405.78 L702.65,404.55 L703.82,403.26 L705,401.92 L706.18,400.51 L707.35,399.05 L708.53,397.54 L709.71,395.97 L710.88,394.36 L712.06,392.71 L713.24,391.02 L714.42,389.29 L715.59,387.54 L716.77,385.77 L717.95,383.97 L719.12,382.17 L720.3,380.37 L721.48,378.56 L722.65,376.77 L723.83,374.99 L725.01,373.24 L726.18,371.51 L727.36,369.82 L728.54,368.16 L729.72,366.55 L730.89,364.98 L732.07,363.46 L733.25,362 L734.42,360.59 L735.6,359.24 L736.78,357.94 L737.95,356.71 L739.13,355.53 L740.31,354.41 L741.48,353.36 L742.66,352.35 L743.84,351.41 L745.02,350.52 L746.19,349.68 L747.37,348.89 L748.55,348.15 L749.72,347.46 L750.9,346.82 L752.08,346.21 L753.25,345.65 L754.43,345.13 L755.61,344.64 L756.78,344.19 L757.96,343.77 L759.14,343.38 L760.32,343.02 L761.49,342.68 L762.67,342.37 L763.85,342.08 L765.02,341.82 L766.2,341.57 L767.38,341.35 L768.55,341.14 L769.73,340.94 L770.91,340.77 L772.09,340.6 L773.26,340.45 L774.44,340.31 L775.62,340.18 L776.79,340.06 L777.97,339.95 L779.15,339.85 L780.32,339.76 L781.5,339.67 L782.68,339.6 L783.85,339.52 L785.03,339.46 L786.21,339.4 L787.39,339.34 L788.56,339.29 L789.74,339.24 L790.92,339.2" stroke="#BAD684"/>
<path d="M649.68,366.92 L650.86,366.92 L652.04,366.92 L653.21,366.92 L654.39,366.93 L655.57,366.93 L656.75,366.93 L657.92,366.93 L659.1,366.93 L660.28,366.93 L661.45,366.94 L662.63,366.94 L663.81,366.95 L664.98,366.95 L666.16,366.96 L667.34,366.97 L668.51,366.98 L669.69,366.99 L670.87,367.01 L672.05,367.03 L673.22,367.05 L674.4,367.09 L675.58,367.12 L676.75,367.17 L677.93,367.22 L679.11,367.29 L680.28,367.38 L681.46,367.48 L682.64,367.6 L683.82,367.76 L684.99,367.94 L686.17,368.17 L687.35,368.44 L688.52,368.77 L689.7,369.17 L690.88,369.65 L692.05,370.22 L693.23,370.9 L694.41,371.71 L695.58,372.66 L696.76,373.78 L697.94,375.07 L699.12,376.57 L700.29,378.27 L701.47,380.19 L702.65,382.34 L703.82,384.69 L705,387.24 L706.18,389.95 L707.35,392.76 L708.53,395.62 L709.71,398.45 L710.88,401.18 L712.06,403.75 L713.24,406.09 L714.42,408.18 L715.59,410.01 L716.77,411.57 L717.95,412.88 L719.12,413.97 L720.3,414.86 L721.48,415.58 L722.65,416.17 L723.83,416.64 L725.01,417.01 L726.18,417.31 L727.36,417.54 L728.54,417.73 L729.72,417.88 L730.89,417.99 L732.07,418.09 L733.25,418.16 L734.42,418.22 L735.6,418.26 L736.78,418.3 L737.95,418.33 L739.13,418.35 L740.31,418.37 L741.48,418.38 L742.66,418.39 L743.84,418.4 L745.02,418.41 L746.19,418.41 L747.37,418.41 L748.55,418.42 L749.72,418.42 L750.9,418.42 L752.08,418.42 L753.25,418.43 L754.43,418.43 L755.61,418.43 L756.78,418.43 L757.96,418.43 L759.14,418.43 L760.32,418.43 L761.49,418.43 L762.67,418.43 L763.85,418.43 L765.02,418.43 L766.2,418.43 L767.38,418.43 L768.55,418.43 L769.73,418.43 L770.91,418.43 L772.09,418.43 L773.26,418.43 L774.44,418.43 L775.62,418.43 L776.79,418.43 L777.97,418.43 L779.15,418.43 L780.32,418.43 L781.5,418.43 L782.68,418.43 L783.85,418.43 L785.03,418.43 L786.21,418.43 L787.39,418.43 L788.56,418.43 L789.74,418.43 L790.92,418.43" stroke="#E3B873"/>
<path d="M649.68,370.67 L650.86,370.69 L652.04,370.71 L653.21,370.74 L654.39,370.76 L655.57,370.8 L656.75,370.84 L657.92,370.89 L659.1,370.94 L660.28,371.01 L661.45,371.09 L662.63,371.18 L663.81,371.28 L664.98,371.41 L666.16,371.56 L667.34,371.73 L668.51,371.93 L669.69,372.16 L670.87,372.43 L672.05,372.74 L673.22,373.1 L674.4,373.52 L675.58,373.99 L676.75,374.54 L677.93,375.16 L679.11,375.86 L680.28,376.66 L681.46,377.55 L682.64,378.56 L683.82,379.68 L684.99,380.93 L686.17,382.33 L687.35,383.89 L688.52,385.61 L689.7,387.52 L690.88,389.62 L692.05,391.9 L693.23,394.35 L694.41,396.92 L695.58,399.57 L696.76,402.2 L697.94,404.73 L699.12,407.08 L700.29,409.19 L701.47,411.03 L702.65,412.58 L703.82,413.85 L705,414.88 L706.18,415.7 L707.35,416.33 L708.53,416.83 L709.71,417.21 L710.88,417.5 L712.06,417.72 L713.24,417.89 L714.42,418.02 L715.59,418.12 L716.77,418.19 L717.95,418.25 L719.12,418.29 L720.3,418.32 L721.48,418.35 L722.65,418.37 L723.83,418.38 L725.01,418.39 L726.18,418.4 L727.36,418.41 L728.54,418.41 L729.72,418.42 L730.89,418.42 L732.07,418.42 L733.25,418.42 L734.42,418.43 L735.6,418.43 L736.78,418.43 L737.95,418.43 L739.13,418.43 L740.31,418.43 L741.48,418.43 L742.66,418.43 L743.84,418.43 L745.02,418.43 L746.19,418.43 L747.37,418.43 L748.55,418.43 L749.72,418.43 L750.9,418.43 L752.08,418.43 L753.25,418.43 L754.43,418.43 L755.61,418.43 L756.78,418.43 L757.96,418.43 L759.14,418.43 L760.32,418.43 L761.49,418.43 L762.67,418.43 L763.85,418.43 L765.02,418.43 L766.2,418.43 L767.38,418.43 L768.55,418.43 L769.73,418.43 L770.91,418.43 L772.09,418.43 L773.26,418.43 L774.44,418.43 L775.62,418.43 L776.79,418.43 L777.97,418.43 L779.15,418.43 L780.32,418.43 L781.5,418.43 L782.68,418.43 L783.85,418.43 L785.03,418.43 L786.21,418.43 L787.39,418.43 L788.56,418.43 L789.74,418.43 L790.92,418.43" stroke="#E0A24A"/>
<path d="M649.68,372.2 L650.86,372.41 L652.04,372.66 L653.21,372.95 L654.39,373.28 L655.57,373.67 L656.75,374.11 L657.92,374.62 L659.1,375.2 L660.28,375.87 L661.45,376.62 L662.63,377.46 L663.81,378.42 L664.98,379.49 L666.16,380.68 L667.34,382.02 L668.51,383.51 L669.69,385.18 L670.87,387.05 L672.05,389.13 L673.22,391.42 L674.4,393.93 L675.58,396.6 L676.75,399.39 L677.93,402.19 L679.11,404.9 L680.28,407.41 L681.46,409.64 L682.64,411.56 L683.82,413.14 L684.99,414.4 L686.17,415.39 L687.35,416.16 L688.52,416.74 L689.7,417.17 L690.88,417.5 L692.05,417.74 L693.23,417.92 L694.41,418.05 L695.58,418.15 L696.76,418.22 L697.94,418.28 L699.12,418.31 L700.29,418.34 L701.47,418.37 L702.65,418.38 L703.82,418.39 L705,418.4 L706.18,418.41 L707.35,418.42 L708.53,418.42 L709.71,418.42 L710.88,418.42 L712.06,418.43 L713.24,418.43 L714.42,418.43 L715.59,418.43 L716.77,418.43 L717.95,418.43 L719.12,418.43 L720.3,418.43 L721.48,418.43 L722.65,418.43 L723.83,418.43 L725.01,418.43 L726.18,418.43 L727.36,418.43 L728.54,418.43 L729.72,418.43 L730.89,418.43 L732.07,418.43 L733.25,418.43 L734.42,418.43 L735.6,418.43 L736.78,418.43 L737.95,418.43 L739.13,418.43 L740.31,418.43 L741.48,418.43 L742.66,418.43 L743.84,418.43 L745.02,418.43 L746.19,418.43 L747.37,418.43 L748.55,418.43 L749.72,418.43 L750.9,418.43 L752.08,418.43 L753.25,418.43 L754.43,418.43 L755.61,418.43 L756.78,418.43 L757.96,418.43 L759.14,418.43 L760.32,418.43 L761.49,418.43 L762.67,418.43 L763.85,418.43 L765.02,418.43 L766.2,418.43 L767.38,418.43 L768.55,418.43 L769.73,418.43 L770.91,418.43 L772.09,418.43 L773.26,418.43 L774.44,418.43 L775.62,418.43 L776.79,418.43 L777.97,418.43 L779.15,418.43 L780.32,418.43 L781.5,418.43 L782.68,418.43 L783.85,418.43 L785.03,418.43 L786.21,418.43 L787.39,418.43 L788.56,418.43 L789.74,418.43 L790.92,418.43" stroke="#DB8E3D"/>
<path d="M649.68,397.21 L650.86,398.19 L652.04,399.28 L653.21,400.46 L654.39,401.75 L655.57,403.12 L656.75,404.55 L657.92,406.04 L659.1,407.53 L660.28,409.01 L661.45,410.43 L662.63,411.76 L663.81,412.97 L664.98,414.05 L666.16,414.98 L667.34,415.76 L668.51,416.4 L669.69,416.92 L670.87,417.32 L672.05,417.62 L673.22,417.85 L674.4,418.02 L675.58,418.14 L676.75,418.23 L677.93,418.29 L679.11,418.34 L680.28,418.37 L681.46,418.39 L682.64,418.4 L683.82,418.41 L684.99,418.42 L686.17,418.42 L687.35,418.42 L688.52,418.43 L689.7,418.43 L690.88,418.43 L692.05,418.43 L693.23,418.43 L694.41,418.43 L695.58,418.43 L696.76,418.43 L697.94,418.43 L699.12,418.43 L700.29,418.43 L701.47,418.43 L702.65,418.43 L703.82,418.43 L705,418.43 L706.18,418.43 L707.35,418.43 L708.53,418.43 L709.71,418.43 L710.88,418.43 L712.06,418.43 L713.24,418.43 L714.42,418.43 L715.59,418.43 L716.77,418.43 L717.95,418.43 L719.12,418.43 L720.3,418.43 L721.48,418.43 L722.65,418.43 L723.83,418.43 L725.01,418.43 L726.18,418.43 L727.36,418.43 L728.54,418.43 L729.72,418.43 L730.89,418.43 L732.07,418.43 L733.25,418.43 L734.42,418.43 L735.6,418.43 L736.78,418.43 L737.95,418.43 L739.13,418.43 L740.31,418.43 L741.48,418.43 L742.66,418.43 L743.84,418.43 L745.02,418.43 L746.19,418.43 L747.37,418.43 L748.55,418.43 L749.72,418.43 L750.9,418.43 L752.08,418.43 L753.25,418.43 L754.43,418.43 L755.61,418.43 L756.78,418.43 L757.96,418.43 L759.14,418.43 L760.32,418.43 L761.49,418.43 L762.67,418.43 L763.85,418.43 L765.02,418.43 L766.2,418.43 L767.38,418.43 L768.55,418.43 L769.73,418.43 L770.91,418.43 L772.09,418.43 L773.26,418.43 L774.44,418.43 L775.62,418.43 L776.79,418.43 L777.97,418.43 L779.15,418.43 L780.32,418.43 L781.5,418.43 L782.68,418.43 L783.85,418.43 L785.03,418.43 L786.21,418.43 L787.39,418.43 L788.56,418.43 L789.74,418.43 L790.92,418.43" stroke="#D2782C"/>
<path d="M649.68,418.43 L650.86,418.43 L652.04,418.43 L653.21,418.43 L654.39,418.43 L655.57,418.43 L656.75,418.43 L657.92,418.43 L659.1,418.43 L660.28,418.43 L661.45,418.43 L662.63,418.43 L663.81,418.43 L664.98,418.43 L666.16,418.43 L667.34,418.43 L668.51,418.43 L669.69,418.43 L670.87,418.43 L672.05,418.43 L673.22,418.43 L674.4,418.43 L675.58,418.43 L676.75,418.43 L677.93,418.43 L679.11,418.43 L680.28,418.43 L681.46,418.43 L682.64,418.43 L683.82,418.43 L684.99,418.43 L686.17,418.43 L687.35,418.43 L688.52,418.43 L689.7,418.43 L690.88,418.43 L692.05,418.43 L693.23,418.43 L694.41,418.43 L695.58,418.43 L696.76,418.43 L697.94,418.43 L699.12,418.43 L700.29,418.43 L701.47,418.43 L702.65,418.43 L703.82,418.43 L705,418.43 L706.18,418.43 L707.35,418.43 L708.53,418.43 L709.71,418.43 L710.88,418.43 L712.06,418.43 L713.24,418.43 L714.42,418.43 L715.59,418.43 L716.77,418.43 L717.95,418.43 L719.12,418.43 L720.3,418.43 L721.48,418.43 L722.65,418.43 L723.83,418.43 L725.01,418.43 L726.18,418.43 L727.36,418.43 L728.54,418.43 L729.72,418.43 L730.89,418.43 L732.07,418.43 L733.25,418.43 L734.42,418.43 L735.6,418.43 L736.78,418.43 L737.95,418.43 L739.13,418.43 L740.31,418.43 L741.48,418.43 L742.66,418.43 L743.84,418.43 L745.02,418.43 L746.19,418.43 L747.37,418.43 L748.55,418.43 L749.72,418.43 L750.9,418.43 L752.08,418.43 L753.25,418.43 L754.43,418.43 L755.61,418.43 L756.78,418.43 L757.96,418.43 L759.14,418.43 L760.32,418.43 L761.49,418.43 L762.67,418.43 L763.85,418.43 L765.02,418.43 L766.2,418.43 L767.38,418.43 L768.55,418.43 L769.73,418.43 L770.91,418.43 L772.09,418.43 L773.26,418.43 L774.44,418.43 L775.62,418.43 L776.79,418.43 L777.97,418.43 L779.15,418.43 L780.32,418.43 L781.5,418.43 L782.68,418.43 L783.85,418.43 L785.03,418.43 L786.21,418.43 L787.39,418.43 L788.56,418.43 L789.74,418.43 L790.92,418.43" stroke="#C46019"/>
<path d="M649.68,415.2 L650.86,415.2 L652.04,415.2 L653.21,415.2 L654.39,415.2 L655.57,415.2 L656.75,415.2 L657.92,415.2 L659.1,415.2 L660.28,415.2 L661.45,415.2 L662.63,415.2 L663.81,415.2 L664.98,415.2 L666.16,415.2 L667.34,415.2 L668.51,415.2 L669.69,415.2 L670.87,415.2 L672.05,415.2 L673.22,415.2 L674.4,415.2 L675.58,415.19 L676.75,415.19 L677.93,415.19 L679.11,415.19 L680.28,415.18 L681.46,415.18 L682.64,415.17 L683.82,415.16 L684.99,415.14 L686.17,415.12 L687.35,415.1 L688.52,415.07 L689.7,415.02 L690.88,414.96 L692.05,414.89 L693.23,414.79 L694.41,414.65 L695.58,414.47 L696.76,414.23 L697.94,413.91 L699.12,413.5 L700.29,412.94 L701.47,412.22 L702.65,411.27 L703.82,410.05 L705,408.49 L706.18,406.52 L707.35,404.09 L708.53,401.17 L709.71,397.75 L710.88,393.89 L712.06,389.69 L713.24,385.29 L714.42,380.85 L715.59,376.52 L716.77,372.42 L717.95,368.62 L719.12,365.17 L720.3,362.09 L721.48,359.37 L722.65,356.99 L723.83,354.92 L725.01,353.14 L726.18,351.63 L727.36,350.34 L728.54,349.25 L729.72,348.34 L730.89,347.58 L732.07,346.96 L733.25,346.44 L734.42,346.01 L735.6,345.66 L736.78,345.37 L737.95,345.14 L739.13,344.95 L740.31,344.8 L741.48,344.67 L742.66,344.57 L743.84,344.49 L745.02,344.42 L746.19,344.37 L747.37,344.32 L748.55,344.29 L749.72,344.26 L750.9,344.24 L752.08,344.22 L753.25,344.2 L754.43,344.19 L755.61,344.18 L756.78,344.17 L757.96,344.17 L759.14,344.16 L760.32,344.16 L761.49,344.15 L762.67,344.15 L763.85,344.15 L765.02,344.15 L766.2,344.15 L767.38,344.14 L768.55,344.14 L769.73,344.14 L770.91,344.14 L772.09,344.14 L773.26,344.14 L774.44,344.14 L775.62,344.14 L776.79,344.14 L777.97,344.14 L779.15,344.14 L780.32,344.14 L781.5,344.14 L782.68,344.14 L783.85,344.14 L785.03,344.14 L786.21,344.14 L787.39,344.14 L788.56,344.14 L789.74,344.14 L790.92,344.14" stroke="#A3C971"/>
<path d="M649.68,415.19 L650.86,415.19 L652.04,415.19 L653.21,415.19 L654.39,415.18 L655.57,415.18 L656.75,415.17 L657.92,415.17 L659.1,415.16 L660.28,415.15 L661.45,415.14 L662.63,415.13 L663.81,415.11 L664.98,415.09 L666.16,415.06 L667.34,415.03 L668.51,414.98 L669.69,414.93 L670.87,414.87 L672.05,414.79 L673.22,414.69 L674.4,414.57 L675.58,414.42 L676.75,414.24 L677.93,414.01 L679.11,413.73 L680.28,413.39 L681.46,412.97 L682.64,412.46 L683.82,411.84 L684.99,411.09 L686.17,410.18 L687.35,409.08 L688.52,407.78 L689.7,406.24 L690.88,404.42 L692.05,402.32 L693.23,399.9 L694.41,397.15 L695.58,394.08 L696.76,390.71 L697.94,387.07 L699.12,383.23 L700.29,379.27 L701.47,375.28 L702.65,371.37 L703.82,367.63 L705,364.14 L706.18,360.97 L707.35,358.15 L708.53,355.69 L709.71,353.59 L710.88,351.82 L712.06,350.35 L713.24,349.13 L714.42,348.14 L715.59,347.34 L716.77,346.69 L717.95,346.17 L719.12,345.75 L720.3,345.42 L721.48,345.16 L722.65,344.95 L723.83,344.78 L725.01,344.65 L726.18,344.54 L727.36,344.46 L728.54,344.39 L729.72,344.34 L730.89,344.3 L732.07,344.26 L733.25,344.24 L734.42,344.22 L735.6,344.2 L736.78,344.19 L737.95,344.18 L739.13,344.17 L740.31,344.16 L741.48,344.16 L742.66,344.16 L743.84,344.15 L745.02,344.15 L746.19,344.15 L747.37,344.15 L748.55,344.14 L749.72,344.14 L750.9,344.14 L752.08,344.14 L753.25,344.14 L754.43,344.14 L755.61,344.14 L756.78,344.14 L757.96,344.14 L759.14,344.14 L760.32,344.14 L761.49,344.14 L762.67,344.14 L763.85,344.14 L765.02,344.14 L766.2,344.14 L767.38,344.14 L768.55,344.14 L769.73,344.14 L770.91,344.14 L772.09,344.14 L773.26,344.14 L774.44,344.14 L775.62,344.14 L776.79,344.14 L777.97,344.14 L779.15,344.14 L780.32,344.14 L781.5,344.14 L782.68,344.14 L783.85,344.14 L785.03,344.14 L786.21,344.14 L787.39,344.14 L788.56,344.14 L789.74,344.14 L790.92,344.14" stroke="#8DB962"/>
<path d="M649.68,415 L650.86,414.95 L652.04,414.88 L653.21,414.8 L654.39,414.71 L655.57,414.58 L656.75,414.43 L657.92,414.23 L659.1,413.99 L660.28,413.69 L661.45,413.32 L662.63,412.86 L663.81,412.29 L664.98,411.59 L666.16,410.73 L667.34,409.68 L668.51,408.42 L669.69,406.89 L670.87,405.09 L672.05,402.97 L673.22,400.51 L674.4,397.73 L675.58,394.62 L676.75,391.22 L677.93,387.59 L679.11,383.81 L680.28,379.97 L681.46,376.14 L682.64,372.43 L683.82,368.9 L684.99,365.6 L686.17,362.59 L687.35,359.88 L688.52,357.48 L689.7,355.37 L690.88,353.54 L692.05,351.98 L693.23,350.64 L694.41,349.52 L695.58,348.57 L696.76,347.79 L697.94,347.13 L699.12,346.59 L700.29,346.14 L701.47,345.78 L702.65,345.47 L703.82,345.23 L705,345.03 L706.18,344.86 L707.35,344.73 L708.53,344.62 L709.71,344.53 L710.88,344.46 L712.06,344.4 L713.24,344.35 L714.42,344.31 L715.59,344.28 L716.77,344.25 L717.95,344.23 L719.12,344.21 L720.3,344.2 L721.48,344.19 L722.65,344.18 L723.83,344.17 L725.01,344.17 L726.18,344.16 L727.36,344.16 L728.54,344.15 L729.72,344.15 L730.89,344.15 L732.07,344.15 L733.25,344.15 L734.42,344.14 L735.6,344.14 L736.78,344.14 L737.95,344.14 L739.13,344.14 L740.31,344.14 L741.48,344.14 L742.66,344.14 L743.84,344.14 L745.02,344.14 L746.19,344.14 L747.37,344.14 L748.55,344.14 L749.72,344.14 L750.9,344.14 L752.08,344.14 L753.25,344.14 L754.43,344.14 L755.61,344.14 L756.78,344.14 L757.96,344.14 L759.14,344.14 L760.32,344.14 L761.49,344.14 L762.67,344.14 L763.85,344.14 L765.02,344.14 L766.2,344.14 L767.38,344.14 L768.55,344.14 L769.73,344.14 L770.91,344.14 L772.09,344.14 L773.26,344.14 L774.44,344.14 L775.62,344.14 L776.79,344.14 L777.97,344.14 L779.15,344.14 L780.32,344.14 L781.5,344.14 L782.68,344.14 L783.85,344.14 L785.03,344.14 L786.21,344.14 L787.39,344.14 L788.56,344.14 L789.74,344.14 L790.92,344.14" stroke="#77A448"/>
<path d="M649.68,397.6 L650.86,396.37 L652.04,395.06 L653.21,393.64 L654.39,392.11 L655.57,390.45 L656.75,388.64 L657.92,386.68 L659.1,384.55 L660.28,382.25 L661.45,379.77 L662.63,377.13 L663.81,374.36 L664.98,371.5 L666.16,368.59 L667.34,365.7 L668.51,362.9 L669.69,360.24 L670.87,357.78 L672.05,355.55 L673.22,353.58 L674.4,351.88 L675.58,350.42 L676.75,349.21 L677.93,348.2 L679.11,347.38 L680.28,346.72 L681.46,346.19 L682.64,345.76 L683.82,345.42 L684.99,345.15 L686.17,344.94 L687.35,344.77 L688.52,344.64 L689.7,344.54 L690.88,344.45 L692.05,344.39 L693.23,344.34 L694.41,344.3 L695.58,344.26 L696.76,344.24 L697.94,344.22 L699.12,344.2 L700.29,344.19 L701.47,344.18 L702.65,344.17 L703.82,344.17 L705,344.16 L706.18,344.16 L707.35,344.15 L708.53,344.15 L709.71,344.15 L710.88,344.15 L712.06,344.15 L713.24,344.14 L714.42,344.14 L715.59,344.14 L716.77,344.14 L717.95,344.14 L719.12,344.14 L720.3,344.14 L721.48,344.14 L722.65,344.14 L723.83,344.14 L725.01,344.14 L726.18,344.14 L727.36,344.14 L728.54,344.14 L729.72,344.14 L730.89,344.14 L732.07,344.14 L733.25,344.14 L734.42,344.14 L735.6,344.14 L736.78,344.14 L737.95,344.14 L739.13,344.14 L740.31,344.14 L741.48,344.14 L742.66,344.14 L743.84,344.14 L745.02,344.14 L746.19,344.14 L747.37,344.14 L748.55,344.14 L749.72,344.14 L750.9,344.14 L752.08,344.14 L753.25,344.14 L754.43,344.14 L755.61,344.14 L756.78,344.14 L757.96,344.14 L759.14,344.14 L760.32,344.14 L761.49,344.14 L762.67,344.14 L763.85,344.14 L765.02,344.14 L766.2,344.14 L767.38,344.14 L768.55,344.14 L769.73,344.14 L770.91,344.14 L772.09,344.14 L773.26,344.14 L774.44,344.14 L775.62,344.14 L776.79,344.14 L777.97,344.14 L779.15,344.14 L780.32,344.14 L781.5,344.14 L782.68,344.14 L783.85,344.14 L785.03,344.14 L786.21,344.14 L787.39,344.14 L788.56,344.14 L789.74,344.14 L790.92,344.14" stroke="#67933C"/>
<path d="M649.68,344.14 L650.86,344.14 L652.04,344.14 L653.21,344.14 L654.39,344.14 L655.57,344.14 L656.75,344.14 L657.92,344.14 L659.1,344.14 L660.28,344.14 L661.45,344.14 L662.63,344.14 L663.81,344.14 L664.98,344.14 L666.16,344.14 L667.34,344.14 L668.51,344.14 L669.69,344.14 L670.87,344.14 L672.05,344.14 L673.22,344.14 L674.4,344.14 L675.58,344.14 L676.75,344.14 L677.93,344.14 L679.11,344.14 L680.28,344.14 L681.46,344.14 L682.64,344.14 L683.82,344.14 L684.99,344.14 L686.17,344.14 L687.35,344.14 L688.52,344.14 L689.7,344.14 L690.88,344.14 L692.05,344.14 L693.23,344.14 L694.41,344.14 L695.58,344.14 L696.76,344.14 L697.94,344.14 L699.12,344.14 L700.29,344.14 L701.47,344.14 L702.65,344.14 L703.82,344.14 L705,344.14 L706.18,344.14 L707.35,344.14 L708.53,344.14 L709.71,344.14 L710.88,344.14 L712.06,344.14 L713.24,344.14 L714.42,344.14 L715.59,344.14 L716.77,344.14 L717.95,344.14 L719.12,344.14 L720.3,344.14 L721.48,344.14 L722.65,344.14 L723.83,344.14 L725.01,344.14 L726.18,344.14 L727.36,344.14 L728.54,344.14 L729.72,344.14 L730.89,344.14 L732.07,344.14 L733.25,344.14 L734.42,344.14 L735.6,344.14 L736.78,344.14 L737.95,344.14 L739.13,344.14 L740.31,344.14 L741.48,344.14 L742.66,344.14 L743.84,344.14 L745.02,344.14 L746.19,344.14 L747.37,344.14 L748.55,344.14 L749.72,344.14 L750.9,344.14 L752.08,344.14 L753.25,344.14 L754.43,344.14 L755.61,344.14 L756.78,344.14 L757.96,344.14 L759.14,344.14 L760.32,344.14 L761.49,344.14 L762.67,344.14 L763.85,344.14 L765.02,344.14 L766.2,344.14 L767.38,344.14 L768.55,344.14 L769.73,344.14 L770.91,344.14 L772.09,344.14 L773.26,344.14 L774.44,344.14 L775.62,344.14 L776.79,344.14 L777.97,344.14 L779.15,344.14 L780.32,344.14 L781.5,344.14 L782.68,344.14 L783.85,344.14 L785.03,344.14 L786.21,344.14 L787.39,344.14 L788.56,344.14 L789.74,344.14 L790.92,344.14" stroke="#4F7E28"/>
</g>
<rect x="652.4" y="296.2" width="135.8" height="136" fill="none" stroke="#979797" stroke-width="1.1"/>
<path d="M665.98,432.2V430M665.98,296.2V298.4M720.3,432.2V430M720.3,296.2V298.4M774.62,432.2V430M774.62,296.2V298.4M652.4,423.7H654.6M788.2,423.7H786M652.4,381.2H654.6M788.2,381.2H786M652.4,338.7H654.6M788.2,338.7H786M652.4,296.2H654.6M788.2,296.2H786" stroke="#777" stroke-width="0.9"/>
<g font-family="'Liberation Sans', sans-serif" font-size="16.8" fill="#222">
<text x="665.98" y="454.1" text-anchor="middle">-0.2</text>
<text x="720.3" y="454.1" text-anchor="middle">0</text>
<text x="774.62" y="454.1" text-anchor="middle">0.2</text>
<text x="646.2" y="430.1" text-anchor="end">0</text>
<text x="646.2" y="387.6" text-anchor="end">0.5</text>
<text x="646.2" y="345.1" text-anchor="end">1</text>
<text x="646.2" y="302.6" text-anchor="end">1.5</text>
</g>
<clipPath id="clip886_296"><rect x="886.1" y="296.2" width="135.4" height="136"/></clipPath>
<g clip-path="url(#clip886_296)" fill="none" stroke-width="2.2" stroke-linejoin="round" stroke-linecap="butt">
<path d="M883.39,339.24 L884.57,339.28 L885.74,339.34 L886.91,339.39 L888.09,339.45 L889.26,339.52 L890.43,339.59 L891.61,339.67 L892.78,339.75 L893.95,339.84 L895.13,339.94 L896.3,340.05 L897.47,340.17 L898.65,340.3 L899.82,340.44 L900.99,340.59 L902.17,340.75 L903.34,340.93 L904.51,341.12 L905.69,341.33 L906.86,341.55 L908.03,341.8 L909.21,342.06 L910.38,342.35 L911.56,342.66 L912.73,342.99 L913.9,343.35 L915.08,343.74 L916.25,344.16 L917.42,344.61 L918.6,345.09 L919.77,345.61 L920.94,346.17 L922.12,346.77 L923.29,347.41 L924.46,348.1 L925.64,348.83 L926.81,349.62 L927.98,350.45 L929.16,351.34 L930.33,352.28 L931.5,353.28 L932.68,354.33 L933.85,355.44 L935.02,356.62 L936.2,357.85 L937.37,359.14 L938.54,360.48 L939.72,361.89 L940.89,363.35 L942.07,364.86 L943.24,366.43 L944.41,368.04 L945.59,369.69 L946.76,371.38 L947.93,373.11 L949.11,374.86 L950.28,376.63 L951.45,378.43 L952.63,380.23 L953.8,382.03 L954.97,383.84 L956.15,385.63 L957.32,387.41 L958.49,389.16 L959.67,390.89 L960.84,392.58 L962.01,394.24 L963.19,395.85 L964.36,397.42 L965.53,398.94 L966.71,400.4 L967.88,401.81 L969.06,403.16 L970.23,404.46 L971.4,405.69 L972.58,406.87 L973.75,407.99 L974.92,409.04 L976.1,410.05 L977.27,410.99 L978.44,411.88 L979.62,412.72 L980.79,413.51 L981.96,414.25 L983.14,414.94 L984.31,415.58 L985.48,416.19 L986.66,416.75 L987.83,417.27 L989,417.76 L990.18,418.21 L991.35,418.63 L992.52,419.02 L993.7,419.38 L994.87,419.72 L996.04,420.03 L997.22,420.32 L998.39,420.58 L999.57,420.83 L1000.74,421.05 L1001.91,421.26 L1003.09,421.46 L1004.26,421.63 L1005.43,421.8 L1006.61,421.95 L1007.78,422.09 L1008.95,422.22 L1010.13,422.34 L1011.3,422.45 L1012.47,422.55 L1013.65,422.64 L1014.82,422.73 L1015.99,422.8 L1017.17,422.88 L1018.34,422.94 L1019.51,423 L1020.69,423.06 L1021.86,423.11 L1023.03,423.16 L1024.21,423.2" stroke="#E7CB89"/>
<path d="M883.39,423.16 L884.57,423.12 L885.74,423.06 L886.91,423.01 L888.09,422.95 L889.26,422.88 L890.43,422.81 L891.61,422.73 L892.78,422.65 L893.95,422.56 L895.13,422.46 L896.3,422.35 L897.47,422.23 L898.65,422.1 L899.82,421.96 L900.99,421.81 L902.17,421.65 L903.34,421.47 L904.51,421.28 L905.69,421.07 L906.86,420.85 L908.03,420.6 L909.21,420.34 L910.38,420.05 L911.56,419.74 L912.73,419.41 L913.9,419.05 L915.08,418.66 L916.25,418.24 L917.42,417.79 L918.6,417.31 L919.77,416.79 L920.94,416.23 L922.12,415.63 L923.29,414.99 L924.46,414.3 L925.64,413.57 L926.81,412.78 L927.98,411.95 L929.16,411.06 L930.33,410.12 L931.5,409.12 L932.68,408.07 L933.85,406.96 L935.02,405.78 L936.2,404.55 L937.37,403.26 L938.54,401.92 L939.72,400.51 L940.89,399.05 L942.07,397.54 L943.24,395.97 L944.41,394.36 L945.59,392.71 L946.76,391.02 L947.93,389.29 L949.11,387.54 L950.28,385.77 L951.45,383.97 L952.63,382.17 L953.8,380.37 L954.97,378.56 L956.15,376.77 L957.32,374.99 L958.49,373.24 L959.67,371.51 L960.84,369.82 L962.01,368.16 L963.19,366.55 L964.36,364.98 L965.53,363.46 L966.71,362 L967.88,360.59 L969.06,359.24 L970.23,357.94 L971.4,356.71 L972.58,355.53 L973.75,354.41 L974.92,353.36 L976.1,352.35 L977.27,351.41 L978.44,350.52 L979.62,349.68 L980.79,348.89 L981.96,348.15 L983.14,347.46 L984.31,346.82 L985.48,346.21 L986.66,345.65 L987.83,345.13 L989,344.64 L990.18,344.19 L991.35,343.77 L992.52,343.38 L993.7,343.02 L994.87,342.68 L996.04,342.37 L997.22,342.08 L998.39,341.82 L999.57,341.57 L1000.74,341.35 L1001.91,341.14 L1003.09,340.94 L1004.26,340.77 L1005.43,340.6 L1006.61,340.45 L1007.78,340.31 L1008.95,340.18 L1010.13,340.06 L1011.3,339.95 L1012.47,339.85 L1013.65,339.76 L1014.82,339.67 L1015.99,339.6 L1017.17,339.52 L1018.34,339.46 L1019.51,339.4 L1020.69,339.34 L1021.86,339.29 L1023.03,339.24 L1024.21,339.2" stroke="#BAD684"/>
<path d="M883.39,369.73 L884.57,369.73 L885.74,369.73 L886.91,369.73 L888.09,369.73 L889.26,369.73 L890.43,369.73 L891.61,369.73 L892.78,369.73 L893.95,369.73 L895.13,369.73 L896.3,369.73 L897.47,369.73 L898.65,369.73 L899.82,369.73 L900.99,369.73 L902.17,369.74 L903.34,369.74 L904.51,369.74 L905.69,369.75 L906.86,369.76 L908.03,369.77 L909.21,369.78 L910.38,369.8 L911.56,369.83 L912.73,369.86 L913.9,369.9 L915.08,369.96 L916.25,370.04 L917.42,370.14 L918.6,370.28 L919.77,370.46 L920.94,370.7 L922.12,371.01 L923.29,371.43 L924.46,371.97 L925.64,372.68 L926.81,373.59 L927.98,374.75 L929.16,376.21 L930.33,378 L931.5,380.15 L932.68,382.64 L933.85,385.45 L935.02,388.49 L936.2,391.66 L937.37,394.84 L938.54,397.93 L939.72,400.84 L940.89,403.5 L942.07,405.89 L943.24,407.99 L944.41,409.81 L945.59,411.37 L946.76,412.69 L947.93,413.8 L949.11,414.72 L950.28,415.47 L951.45,416.09 L952.63,416.59 L953.8,417 L954.97,417.32 L956.15,417.58 L957.32,417.79 L958.49,417.96 L959.67,418.09 L960.84,418.2 L962.01,418.28 L963.19,418.35 L964.36,418.4 L965.53,418.44 L966.71,418.48 L967.88,418.5 L969.06,418.52 L970.23,418.54 L971.4,418.55 L972.58,418.56 L973.75,418.57 L974.92,418.58 L976.1,418.58 L977.27,418.59 L978.44,418.59 L979.62,418.59 L980.79,418.59 L981.96,418.59 L983.14,418.6 L984.31,418.6 L985.48,418.6 L986.66,418.6 L987.83,418.6 L989,418.6 L990.18,418.6 L991.35,418.6 L992.52,418.6 L993.7,418.6 L994.87,418.6 L996.04,418.6 L997.22,418.6 L998.39,418.6 L999.57,418.6 L1000.74,418.6 L1001.91,418.6 L1003.09,418.6 L1004.26,418.6 L1005.43,418.6 L1006.61,418.6 L1007.78,418.6 L1008.95,418.6 L1010.13,418.6 L1011.3,418.6 L1012.47,418.6 L1013.65,418.6 L1014.82,418.6 L1015.99,418.6 L1017.17,418.6 L1018.34,418.6 L1019.51,418.6 L1020.69,418.6 L1021.86,418.6 L1023.03,418.6 L1024.21,418.6" stroke="#E3B873"/>
<path d="M883.39,371.46 L884.57,371.47 L885.74,371.49 L886.91,371.5 L888.09,371.52 L889.26,371.54 L890.43,371.56 L891.61,371.59 L892.78,371.63 L893.95,371.68 L895.13,371.73 L896.3,371.8 L897.47,371.89 L898.65,371.99 L899.82,372.11 L900.99,372.27 L902.17,372.45 L903.34,372.68 L904.51,372.95 L905.69,373.28 L906.86,373.67 L908.03,374.15 L909.21,374.71 L910.38,375.38 L911.56,376.17 L912.73,377.1 L913.9,378.18 L915.08,379.44 L916.25,380.88 L917.42,382.51 L918.6,384.36 L919.77,386.41 L920.94,388.67 L922.12,391.1 L923.29,393.68 L924.46,396.36 L925.64,399.05 L926.81,401.7 L927.98,404.22 L929.16,406.56 L930.33,408.65 L931.5,410.48 L932.68,412.05 L933.85,413.36 L935.02,414.44 L936.2,415.31 L937.37,416.01 L938.54,416.57 L939.72,417.01 L940.89,417.36 L942.07,417.63 L943.24,417.85 L944.41,418.01 L945.59,418.14 L946.76,418.25 L947.93,418.32 L949.11,418.39 L950.28,418.43 L951.45,418.47 L952.63,418.5 L953.8,418.52 L954.97,418.54 L956.15,418.55 L957.32,418.56 L958.49,418.57 L959.67,418.58 L960.84,418.58 L962.01,418.59 L963.19,418.59 L964.36,418.59 L965.53,418.59 L966.71,418.6 L967.88,418.6 L969.06,418.6 L970.23,418.6 L971.4,418.6 L972.58,418.6 L973.75,418.6 L974.92,418.6 L976.1,418.6 L977.27,418.6 L978.44,418.6 L979.62,418.6 L980.79,418.6 L981.96,418.6 L983.14,418.6 L984.31,418.6 L985.48,418.6 L986.66,418.6 L987.83,418.6 L989,418.6 L990.18,418.6 L991.35,418.6 L992.52,418.6 L993.7,418.6 L994.87,418.6 L996.04,418.6 L997.22,418.6 L998.39,418.6 L999.57,418.6 L1000.74,418.6 L1001.91,418.6 L1003.09,418.6 L1004.26,418.6 L1005.43,418.6 L1006.61,418.6 L1007.78,418.6 L1008.95,418.6 L1010.13,418.6 L1011.3,418.6 L1012.47,418.6 L1013.65,418.6 L1014.82,418.6 L1015.99,418.6 L1017.17,418.6 L1018.34,418.6 L1019.51,418.6 L1020.69,418.6 L1021.86,418.6 L1023.03,418.6 L1024.21,418.6" stroke="#E0A24A"/>
<path d="M883.39,374.38 L884.57,374.44 L885.74,374.53 L886.91,374.65 L888.09,374.8 L889.26,374.99 L890.43,375.23 L891.61,375.55 L892.78,375.95 L893.95,376.46 L895.13,377.1 L896.3,377.91 L897.47,378.91 L898.65,380.14 L899.82,381.62 L900.99,383.39 L902.17,385.46 L903.34,387.83 L904.51,390.46 L905.69,393.3 L906.86,396.28 L908.03,399.29 L909.21,402.21 L910.38,404.95 L911.56,407.43 L912.73,409.6 L913.9,411.45 L915.08,412.98 L916.25,414.22 L917.42,415.21 L918.6,415.99 L919.77,416.6 L920.94,417.08 L922.12,417.44 L923.29,417.72 L924.46,417.93 L925.64,418.09 L926.81,418.22 L927.98,418.31 L929.16,418.38 L930.33,418.43 L931.5,418.47 L932.68,418.5 L933.85,418.53 L935.02,418.55 L936.2,418.56 L937.37,418.57 L938.54,418.58 L939.72,418.58 L940.89,418.59 L942.07,418.59 L943.24,418.59 L944.41,418.59 L945.59,418.6 L946.76,418.6 L947.93,418.6 L949.11,418.6 L950.28,418.6 L951.45,418.6 L952.63,418.6 L953.8,418.6 L954.97,418.6 L956.15,418.6 L957.32,418.6 L958.49,418.6 L959.67,418.6 L960.84,418.6 L962.01,418.6 L963.19,418.6 L964.36,418.6 L965.53,418.6 L966.71,418.6 L967.88,418.6 L969.06,418.6 L970.23,418.6 L971.4,418.6 L972.58,418.6 L973.75,418.6 L974.92,418.6 L976.1,418.6 L977.27,418.6 L978.44,418.6 L979.62,418.6 L980.79,418.6 L981.96,418.6 L983.14,418.6 L984.31,418.6 L985.48,418.6 L986.66,418.6 L987.83,418.6 L989,418.6 L990.18,418.6 L991.35,418.6 L992.52,418.6 L993.7,418.6 L994.87,418.6 L996.04,418.6 L997.22,418.6 L998.39,418.6 L999.57,418.6 L1000.74,418.6 L1001.91,418.6 L1003.09,418.6 L1004.26,418.6 L1005.43,418.6 L1006.61,418.6 L1007.78,418.6 L1008.95,418.6 L1010.13,418.6 L1011.3,418.6 L1012.47,418.6 L1013.65,418.6 L1014.82,418.6 L1015.99,418.6 L1017.17,418.6 L1018.34,418.6 L1019.51,418.6 L1020.69,418.6 L1021.86,418.6 L1023.03,418.6 L1024.21,418.6" stroke="#DB8E3D"/>
<path d="M883.39,412.03 L884.57,412.72 L885.74,413.36 L886.91,413.94 L888.09,414.48 L889.26,414.97 L890.43,415.41 L891.61,415.82 L892.78,416.18 L893.95,416.5 L895.13,416.79 L896.3,417.05 L897.47,417.28 L898.65,417.48 L899.82,417.66 L900.99,417.82 L902.17,417.96 L903.34,418.08 L904.51,418.19 L905.69,418.28 L906.86,418.37 L908.03,418.44 L909.21,418.5 L910.38,418.56 L911.56,418.61 L912.73,418.65 L913.9,418.69 L915.08,418.72 L916.25,418.75 L917.42,418.77 L918.6,418.79 L919.77,418.81 L920.94,418.83 L922.12,418.84 L923.29,418.85 L924.46,418.87 L925.64,418.88 L926.81,418.88 L927.98,418.89 L929.16,418.9 L930.33,418.9 L931.5,418.91 L932.68,418.91 L933.85,418.92 L935.02,418.92 L936.2,418.92 L937.37,418.92 L938.54,418.93 L939.72,418.93 L940.89,418.93 L942.07,418.93 L943.24,418.93 L944.41,418.93 L945.59,418.93 L946.76,418.93 L947.93,418.94 L949.11,418.94 L950.28,418.94 L951.45,418.94 L952.63,418.94 L953.8,418.94 L954.97,418.94 L956.15,418.94 L957.32,418.94 L958.49,418.94 L959.67,418.94 L960.84,418.94 L962.01,418.94 L963.19,418.94 L964.36,418.94 L965.53,418.94 L966.71,418.94 L967.88,418.94 L969.06,418.94 L970.23,418.94 L971.4,418.94 L972.58,418.94 L973.75,418.94 L974.92,418.94 L976.1,418.94 L977.27,418.94 L978.44,418.94 L979.62,418.94 L980.79,418.94 L981.96,418.94 L983.14,418.94 L984.31,418.94 L985.48,418.94 L986.66,418.94 L987.83,418.94 L989,418.94 L990.18,418.94 L991.35,418.94 L992.52,418.94 L993.7,418.94 L994.87,418.94 L996.04,418.94 L997.22,418.94 L998.39,418.94 L999.57,418.94 L1000.74,418.94 L1001.91,418.94 L1003.09,418.94 L1004.26,418.94 L1005.43,418.94 L1006.61,418.94 L1007.78,418.94 L1008.95,418.94 L1010.13,418.94 L1011.3,418.94 L1012.47,418.94 L1013.65,418.94 L1014.82,418.94 L1015.99,418.94 L1017.17,418.94 L1018.34,418.94 L1019.51,418.94 L1020.69,418.94 L1021.86,418.94 L1023.03,418.94 L1024.21,418.94" stroke="#D2782C"/>
<path d="M883.39,418.94 L884.57,418.94 L885.74,418.94 L886.91,418.94 L888.09,418.94 L889.26,418.94 L890.43,418.94 L891.61,418.94 L892.78,418.94 L893.95,418.94 L895.13,418.94 L896.3,418.94 L897.47,418.94 L898.65,418.94 L899.82,418.94 L900.99,418.94 L902.17,418.94 L903.34,418.94 L904.51,418.94 L905.69,418.94 L906.86,418.94 L908.03,418.94 L909.21,418.94 L910.38,418.94 L911.56,418.94 L912.73,418.94 L913.9,418.94 L915.08,418.94 L916.25,418.94 L917.42,418.94 L918.6,418.94 L919.77,418.94 L920.94,418.94 L922.12,418.94 L923.29,418.94 L924.46,418.94 L925.64,418.94 L926.81,418.94 L927.98,418.94 L929.16,418.94 L930.33,418.94 L931.5,418.94 L932.68,418.94 L933.85,418.94 L935.02,418.94 L936.2,418.94 L937.37,418.94 L938.54,418.94 L939.72,418.94 L940.89,418.94 L942.07,418.94 L943.24,418.94 L944.41,418.94 L945.59,418.94 L946.76,418.94 L947.93,418.94 L949.11,418.94 L950.28,418.94 L951.45,418.94 L952.63,418.94 L953.8,418.94 L954.97,418.94 L956.15,418.94 L957.32,418.94 L958.49,418.94 L959.67,418.94 L960.84,418.94 L962.01,418.94 L963.19,418.94 L964.36,418.94 L965.53,418.94 L966.71,418.94 L967.88,418.94 L969.06,418.94 L970.23,418.94 L971.4,418.94 L972.58,418.94 L973.75,418.94 L974.92,418.94 L976.1,418.94 L977.27,418.94 L978.44,418.94 L979.62,418.94 L980.79,418.94 L981.96,418.94 L983.14,418.94 L984.31,418.94 L985.48,418.94 L986.66,418.94 L987.83,418.94 L989,418.94 L990.18,418.94 L991.35,418.94 L992.52,418.94 L993.7,418.94 L994.87,418.94 L996.04,418.94 L997.22,418.94 L998.39,418.94 L999.57,418.94 L1000.74,418.94 L1001.91,418.94 L1003.09,418.94 L1004.26,418.94 L1005.43,418.94 L1006.61,418.94 L1007.78,418.94 L1008.95,418.94 L1010.13,418.94 L1011.3,418.94 L1012.47,418.94 L1013.65,418.94 L1014.82,418.94 L1015.99,418.94 L1017.17,418.94 L1018.34,418.94 L1019.51,418.94 L1020.69,418.94 L1021.86,418.94 L1023.03,418.94 L1024.21,418.94" stroke="#C46019"/>
<path d="M883.39,415.2 L884.57,415.2 L885.74,415.2 L886.91,415.2 L888.09,415.2 L889.26,415.2 L890.43,415.2 L891.61,415.2 L892.78,415.2 L893.95,415.2 L895.13,415.2 L896.3,415.2 L897.47,415.2 L898.65,415.2 L899.82,415.2 L900.99,415.2 L902.17,415.2 L903.34,415.2 L904.51,415.2 L905.69,415.2 L906.86,415.2 L908.03,415.2 L909.21,415.2 L910.38,415.19 L911.56,415.19 L912.73,415.19 L913.9,415.18 L915.08,415.18 L916.25,415.17 L917.42,415.16 L918.6,415.14 L919.77,415.12 L920.94,415.09 L922.12,415.05 L923.29,414.99 L924.46,414.91 L925.64,414.81 L926.81,414.66 L927.98,414.45 L929.16,414.17 L930.33,413.79 L931.5,413.26 L932.68,412.54 L933.85,411.57 L935.02,410.27 L936.2,408.55 L937.37,406.32 L938.54,403.53 L939.72,400.15 L940.89,396.21 L942.07,391.83 L943.24,387.19 L944.41,382.5 L945.59,377.95 L946.76,373.68 L947.93,369.78 L949.11,366.28 L950.28,363.18 L951.45,360.44 L952.63,358.04 L953.8,355.94 L954.97,354.11 L956.15,352.54 L957.32,351.18 L958.49,350.02 L959.67,349.03 L960.84,348.19 L962.01,347.49 L963.19,346.9 L964.36,346.41 L965.53,346.01 L966.71,345.67 L967.88,345.39 L969.06,345.16 L970.23,344.98 L971.4,344.82 L972.58,344.7 L973.75,344.59 L974.92,344.51 L976.1,344.44 L977.27,344.39 L978.44,344.34 L979.62,344.3 L980.79,344.27 L981.96,344.25 L983.14,344.23 L984.31,344.21 L985.48,344.2 L986.66,344.19 L987.83,344.18 L989,344.17 L990.18,344.17 L991.35,344.16 L992.52,344.16 L993.7,344.15 L994.87,344.15 L996.04,344.15 L997.22,344.15 L998.39,344.15 L999.57,344.14 L1000.74,344.14 L1001.91,344.14 L1003.09,344.14 L1004.26,344.14 L1005.43,344.14 L1006.61,344.14 L1007.78,344.14 L1008.95,344.14 L1010.13,344.14 L1011.3,344.14 L1012.47,344.14 L1013.65,344.14 L1014.82,344.14 L1015.99,344.14 L1017.17,344.14 L1018.34,344.14 L1019.51,344.14 L1020.69,344.14 L1021.86,344.14 L1023.03,344.14 L1024.21,344.14" stroke="#A3C971"/>
<path d="M883.39,414.35 L884.57,414.34 L885.74,414.34 L886.91,414.34 L888.09,414.34 L889.26,414.34 L890.43,414.33 L891.61,414.33 L892.78,414.32 L893.95,414.31 L895.13,414.3 L896.3,414.28 L897.47,414.27 L898.65,414.24 L899.82,414.21 L900.99,414.17 L902.17,414.12 L903.34,414.05 L904.51,413.97 L905.69,413.86 L906.86,413.73 L908.03,413.55 L909.21,413.32 L910.38,413.03 L911.56,412.66 L912.73,412.19 L913.9,411.59 L915.08,410.83 L916.25,409.87 L917.42,408.68 L918.6,407.2 L919.77,405.4 L920.94,403.24 L922.12,400.68 L923.29,397.73 L924.46,394.42 L925.64,390.79 L926.81,386.93 L927.98,382.96 L929.16,378.97 L930.33,375.08 L931.5,371.37 L932.68,367.91 L933.85,364.73 L935.02,361.86 L936.2,359.3 L937.37,357.03 L938.54,355.05 L939.72,353.33 L940.89,351.84 L942.07,350.58 L943.24,349.5 L944.41,348.59 L945.59,347.82 L946.76,347.18 L947.93,346.65 L949.11,346.2 L950.28,345.84 L951.45,345.53 L952.63,345.28 L953.8,345.07 L954.97,344.9 L956.15,344.77 L957.32,344.65 L958.49,344.56 L959.67,344.48 L960.84,344.42 L962.01,344.37 L963.19,344.33 L964.36,344.29 L965.53,344.26 L966.71,344.24 L967.88,344.22 L969.06,344.21 L970.23,344.19 L971.4,344.18 L972.58,344.18 L973.75,344.17 L974.92,344.16 L976.1,344.16 L977.27,344.16 L978.44,344.15 L979.62,344.15 L980.79,344.15 L981.96,344.15 L983.14,344.15 L984.31,344.14 L985.48,344.14 L986.66,344.14 L987.83,344.14 L989,344.14 L990.18,344.14 L991.35,344.14 L992.52,344.14 L993.7,344.14 L994.87,344.14 L996.04,344.14 L997.22,344.14 L998.39,344.14 L999.57,344.14 L1000.74,344.14 L1001.91,344.14 L1003.09,344.14 L1004.26,344.14 L1005.43,344.14 L1006.61,344.14 L1007.78,344.14 L1008.95,344.14 L1010.13,344.14 L1011.3,344.14 L1012.47,344.14 L1013.65,344.14 L1014.82,344.14 L1015.99,344.14 L1017.17,344.14 L1018.34,344.14 L1019.51,344.14 L1020.69,344.14 L1021.86,344.14 L1023.03,344.14 L1024.21,344.14" stroke="#8DB962"/>
<path d="M883.39,414 L884.57,413.91 L885.74,413.81 L886.91,413.67 L888.09,413.5 L889.26,413.29 L890.43,413.02 L891.61,412.7 L892.78,412.29 L893.95,411.79 L895.13,411.18 L896.3,410.42 L897.47,409.5 L898.65,408.39 L899.82,407.04 L900.99,405.43 L902.17,403.53 L903.34,401.31 L904.51,398.75 L905.69,395.84 L906.86,392.59 L908.03,389.05 L909.21,385.27 L910.38,381.31 L911.56,377.29 L912.73,373.31 L913.9,369.46 L915.08,365.85 L916.25,362.52 L917.42,359.54 L918.6,356.92 L919.77,354.65 L920.94,352.73 L922.12,351.12 L923.29,349.78 L924.46,348.68 L925.64,347.78 L926.81,347.05 L927.98,346.47 L929.16,345.99 L930.33,345.62 L931.5,345.31 L932.68,345.07 L933.85,344.88 L935.02,344.73 L936.2,344.61 L937.37,344.51 L938.54,344.43 L939.72,344.37 L940.89,344.32 L942.07,344.29 L943.24,344.26 L944.41,344.23 L945.59,344.21 L946.76,344.2 L947.93,344.19 L949.11,344.18 L950.28,344.17 L951.45,344.16 L952.63,344.16 L953.8,344.15 L954.97,344.15 L956.15,344.15 L957.32,344.15 L958.49,344.15 L959.67,344.14 L960.84,344.14 L962.01,344.14 L963.19,344.14 L964.36,344.14 L965.53,344.14 L966.71,344.14 L967.88,344.14 L969.06,344.14 L970.23,344.14 L971.4,344.14 L972.58,344.14 L973.75,344.14 L974.92,344.14 L976.1,344.14 L977.27,344.14 L978.44,344.14 L979.62,344.14 L980.79,344.14 L981.96,344.14 L983.14,344.14 L984.31,344.14 L985.48,344.14 L986.66,344.14 L987.83,344.14 L989,344.14 L990.18,344.14 L991.35,344.14 L992.52,344.14 L993.7,344.14 L994.87,344.14 L996.04,344.14 L997.22,344.14 L998.39,344.14 L999.57,344.14 L1000.74,344.14 L1001.91,344.14 L1003.09,344.14 L1004.26,344.14 L1005.43,344.14 L1006.61,344.14 L1007.78,344.14 L1008.95,344.14 L1010.13,344.14 L1011.3,344.14 L1012.47,344.14 L1013.65,344.14 L1014.82,344.14 L1015.99,344.14 L1017.17,344.14 L1018.34,344.14 L1019.51,344.14 L1020.69,344.14 L1021.86,344.14 L1023.03,344.14 L1024.21,344.14" stroke="#77A448"/>
<path d="M883.39,372.64 L884.57,372.23 L885.74,371.76 L886.91,371.24 L888.09,370.64 L889.26,369.96 L890.43,369.18 L891.61,368.3 L892.78,367.3 L893.95,366.17 L895.13,364.91 L896.3,363.52 L897.47,362 L898.65,360.38 L899.82,358.68 L900.99,356.93 L902.17,355.18 L903.34,353.48 L904.51,351.88 L905.69,350.42 L906.86,349.14 L908.03,348.03 L909.21,347.11 L910.38,346.37 L911.56,345.79 L912.73,345.34 L913.9,345.01 L915.08,344.76 L916.25,344.58 L917.42,344.45 L918.6,344.35 L919.77,344.29 L920.94,344.24 L922.12,344.21 L923.29,344.19 L924.46,344.17 L925.64,344.16 L926.81,344.16 L927.98,344.15 L929.16,344.15 L930.33,344.14 L931.5,344.14 L932.68,344.14 L933.85,344.14 L935.02,344.14 L936.2,344.14 L937.37,344.14 L938.54,344.14 L939.72,344.14 L940.89,344.14 L942.07,344.14 L943.24,344.14 L944.41,344.14 L945.59,344.14 L946.76,344.14 L947.93,344.14 L949.11,344.14 L950.28,344.14 L951.45,344.14 L952.63,344.14 L953.8,344.14 L954.97,344.14 L956.15,344.14 L957.32,344.14 L958.49,344.14 L959.67,344.14 L960.84,344.14 L962.01,344.14 L963.19,344.14 L964.36,344.14 L965.53,344.14 L966.71,344.14 L967.88,344.14 L969.06,344.14 L970.23,344.14 L971.4,344.14 L972.58,344.14 L973.75,344.14 L974.92,344.14 L976.1,344.14 L977.27,344.14 L978.44,344.14 L979.62,344.14 L980.79,344.14 L981.96,344.14 L983.14,344.14 L984.31,344.14 L985.48,344.14 L986.66,344.14 L987.83,344.14 L989,344.14 L990.18,344.14 L991.35,344.14 L992.52,344.14 L993.7,344.14 L994.87,344.14 L996.04,344.14 L997.22,344.14 L998.39,344.14 L999.57,344.14 L1000.74,344.14 L1001.91,344.14 L1003.09,344.14 L1004.26,344.14 L1005.43,344.14 L1006.61,344.14 L1007.78,344.14 L1008.95,344.14 L1010.13,344.14 L1011.3,344.14 L1012.47,344.14 L1013.65,344.14 L1014.82,344.14 L1015.99,344.14 L1017.17,344.14 L1018.34,344.14 L1019.51,344.14 L1020.69,344.14 L1021.86,344.14 L1023.03,344.14 L1024.21,344.14" stroke="#67933C"/>
<path d="M883.39,344.14 L884.57,344.14 L885.74,344.14 L886.91,344.14 L888.09,344.14 L889.26,344.14 L890.43,344.14 L891.61,344.14 L892.78,344.14 L893.95,344.14 L895.13,344.14 L896.3,344.14 L897.47,344.14 L898.65,344.14 L899.82,344.14 L900.99,344.14 L902.17,344.14 L903.34,344.14 L904.51,344.14 L905.69,344.14 L906.86,344.14 L908.03,344.14 L909.21,344.14 L910.38,344.14 L911.56,344.14 L912.73,344.14 L913.9,344.14 L915.08,344.14 L916.25,344.14 L917.42,344.14 L918.6,344.14 L919.77,344.14 L920.94,344.14 L922.12,344.14 L923.29,344.14 L924.46,344.14 L925.64,344.14 L926.81,344.14 L927.98,344.14 L929.16,344.14 L930.33,344.14 L931.5,344.14 L932.68,344.14 L933.85,344.14 L935.02,344.14 L936.2,344.14 L937.37,344.14 L938.54,344.14 L939.72,344.14 L940.89,344.14 L942.07,344.14 L943.24,344.14 L944.41,344.14 L945.59,344.14 L946.76,344.14 L947.93,344.14 L949.11,344.14 L950.28,344.14 L951.45,344.14 L952.63,344.14 L953.8,344.14 L954.97,344.14 L956.15,344.14 L957.32,344.14 L958.49,344.14 L959.67,344.14 L960.84,344.14 L962.01,344.14 L963.19,344.14 L964.36,344.14 L965.53,344.14 L966.71,344.14 L967.88,344.14 L969.06,344.14 L970.23,344.14 L971.4,344.14 L972.58,344.14 L973.75,344.14 L974.92,344.14 L976.1,344.14 L977.27,344.14 L978.44,344.14 L979.62,344.14 L980.79,344.14 L981.96,344.14 L983.14,344.14 L984.31,344.14 L985.48,344.14 L986.66,344.14 L987.83,344.14 L989,344.14 L990.18,344.14 L991.35,344.14 L992.52,344.14 L993.7,344.14 L994.87,344.14 L996.04,344.14 L997.22,344.14 L998.39,344.14 L999.57,344.14 L1000.74,344.14 L1001.91,344.14 L1003.09,344.14 L1004.26,344.14 L1005.43,344.14 L1006.61,344.14 L1007.78,344.14 L1008.95,344.14 L1010.13,344.14 L1011.3,344.14 L1012.47,344.14 L1013.65,344.14 L1014.82,344.14 L1015.99,344.14 L1017.17,344.14 L1018.34,344.14 L1019.51,344.14 L1020.69,344.14 L1021.86,344.14 L1023.03,344.14 L1024.21,344.14" stroke="#4F7E28"/>
</g>
<rect x="886.1" y="296.2" width="135.4" height="136" fill="none" stroke="#979797" stroke-width="1.1"/>
<path d="M899.64,432.2V430M899.64,296.2V298.4M953.8,432.2V430M953.8,296.2V298.4M1007.96,432.2V430M1007.96,296.2V298.4M886.1,423.7H888.3M1021.5,423.7H1019.3M886.1,381.2H888.3M1021.5,381.2H1019.3M886.1,338.7H888.3M1021.5,338.7H1019.3M886.1,296.2H888.3M1021.5,296.2H1019.3" stroke="#777" stroke-width="0.9"/>
<g font-family="'Liberation Sans', sans-serif" font-size="16.8" fill="#222">
<text x="899.64" y="454.1" text-anchor="middle">-0.2</text>
<text x="953.8" y="454.1" text-anchor="middle">0</text>
<text x="1007.96" y="454.1" text-anchor="middle">0.2</text>
<text x="879.9" y="430.1" text-anchor="end">0</text>
<text x="879.9" y="387.6" text-anchor="end">0.5</text>
<text x="879.9" y="345.1" text-anchor="end">1</text>
<text x="879.9" y="302.6" text-anchor="end">1.5</text>
</g>
<ellipse cx="648.5" cy="491.2" rx="25.8" ry="19.9" fill="url(#gA)" stroke="#8A4510" stroke-width="1.25"/>
<path d="M642.15,481.85H637.85V499.95H642.15M654.85,481.85H659.15V499.95H654.85" fill="none" stroke="#161616" stroke-width="1.5"/>
<text transform="translate(648.8,495.8) scale(0.8,1)" text-anchor="middle" font-family="'Liberation Serif', serif" font-size="20.6" fill="#111" stroke="#111" stroke-width="0.45">A</text>
<ellipse cx="780.6" cy="491.4" rx="25.8" ry="19.9" fill="url(#gP)" stroke="#3A7420" stroke-width="1.25"/>
<path d="M774.25,482.05H769.95V500.15H774.25M786.95,482.05H791.25V500.15H786.95" fill="none" stroke="#161616" stroke-width="1.5"/>
<text transform="translate(780.9,496) scale(0.92,1)" text-anchor="middle" font-family="'Liberation Serif', serif" font-size="20.6" fill="#111" stroke="#111" stroke-width="0.45">P</text>
<ellipse cx="780.6" cy="572.2" rx="25.8" ry="19.9" fill="url(#gL)" stroke="#9A0000" stroke-width="1.25"/>
<path d="M774.25,562.85H769.95V580.95H774.25M786.95,562.85H791.25V580.95H786.95" fill="none" stroke="#161616" stroke-width="1.5"/>
<text transform="translate(780.9,576.8) scale(0.85,1)" text-anchor="middle" font-family="'Liberation Serif', serif" font-size="20.6" fill="#111" stroke="#111" stroke-width="0.45">L</text>
<path d="M679.2,486L750.7,486M750.7,489.75L750.7,482.25" fill="none" stroke="#262626" stroke-width="1.4"/>
<path d="M750.7,494.4L679.2,494.4M679.2,490.65L679.2,498.15" fill="none" stroke="#262626" stroke-width="1.4"/>
<path d="M753.1,559.3L678.4,510.75" fill="none" stroke="#A01818" stroke-width="1.4"/>
<path d="M673.7,507.7L682.59,508.71L678.4,510.75L678.23,515.41Z" fill="#A01818"/>
<path d="M667.9,515.9L744.32,566.12" fill="none" stroke="#A01818" stroke-width="1.4"/>
<path d="M749,569.2L740.12,568.15L744.32,566.12L744.51,561.46Z" fill="#A01818"/>
<ellipse cx="884.3" cy="491.2" rx="25.8" ry="19.9" fill="url(#gA)" stroke="#8A4510" stroke-width="1.25"/>
<path d="M877.95,481.85H873.65V499.95H877.95M890.65,481.85H894.95V499.95H890.65" fill="none" stroke="#161616" stroke-width="1.5"/>
<text transform="translate(884.6,495.8) scale(0.8,1)" text-anchor="middle" font-family="'Liberation Serif', serif" font-size="20.6" fill="#111" stroke="#111" stroke-width="0.45">A</text>
<ellipse cx="1016.3" cy="491.4" rx="25.8" ry="19.9" fill="url(#gP)" stroke="#3A7420" stroke-width="1.25"/>
<path d="M1009.95,482.05H1005.65V500.15H1009.95M1022.65,482.05H1026.95V500.15H1022.65" fill="none" stroke="#161616" stroke-width="1.5"/>
<text transform="translate(1016.6,496) scale(0.92,1)" text-anchor="middle" font-family="'Liberation Serif', serif" font-size="20.6" fill="#111" stroke="#111" stroke-width="0.45">P</text>
<ellipse cx="884.2" cy="572.4" rx="25.8" ry="19.9" fill="url(#gL)" stroke="#9A0000" stroke-width="1.25"/>
<path d="M877.85,563.05H873.55V581.15H877.85M890.55,563.05H894.85V581.15H890.55" fill="none" stroke="#161616" stroke-width="1.5"/>
<text transform="translate(884.5,577) scale(0.85,1)" text-anchor="middle" font-family="'Liberation Serif', serif" font-size="20.6" fill="#111" stroke="#111" stroke-width="0.45">L</text>
<path d="M914.5,486L986.2,486M986.2,489.75L986.2,482.25" fill="none" stroke="#262626" stroke-width="1.4"/>
<path d="M986.2,494.4L914.5,494.4M914.5,490.65L914.5,498.15" fill="none" stroke="#262626" stroke-width="1.4"/>
<path d="M878.9,546.9L878.9,521" fill="none" stroke="#A01818" stroke-width="1.4"/>
<path d="M878.9,515.4L882.9,523.4L878.9,521L874.9,523.4Z" fill="#A01818"/>
<path d="M888.5,515.1L888.5,542.1" fill="none" stroke="#A01818" stroke-width="1.4"/>
<path d="M888.5,547.7L884.5,539.7L888.5,542.1L892.5,539.7Z" fill="#A01818"/>
<clipPath id="clip653_614"><rect x="653.9" y="614.3" width="135.2" height="136.1"/></clipPath>
<g clip-path="url(#clip653_614)" fill="none" stroke-width="2.2" stroke-linejoin="round" stroke-linecap="butt">
<path d="M651.2,657.37 L652.37,657.42 L653.54,657.47 L654.71,657.52 L655.88,657.58 L657.05,657.65 L658.23,657.72 L659.4,657.8 L660.57,657.88 L661.74,657.98 L662.91,658.08 L664.09,658.19 L665.26,658.3 L666.43,658.43 L667.6,658.57 L668.77,658.72 L669.94,658.88 L671.12,659.06 L672.29,659.25 L673.46,659.46 L674.63,659.69 L675.8,659.93 L676.97,660.2 L678.15,660.48 L679.32,660.79 L680.49,661.12 L681.66,661.48 L682.83,661.87 L684,662.29 L685.18,662.74 L686.35,663.23 L687.52,663.75 L688.69,664.31 L689.86,664.91 L691.03,665.55 L692.21,666.24 L693.38,666.97 L694.55,667.75 L695.72,668.59 L696.89,669.48 L698.07,670.42 L699.24,671.42 L700.41,672.47 L701.58,673.59 L702.75,674.76 L703.92,675.99 L705.1,677.28 L706.27,678.63 L707.44,680.04 L708.61,681.5 L709.78,683.01 L710.95,684.58 L712.13,686.19 L713.3,687.84 L714.47,689.54 L715.64,691.26 L716.81,693.02 L717.98,694.79 L719.16,696.59 L720.33,698.39 L721.5,700.2 L722.67,702 L723.84,703.79 L725.02,705.57 L726.19,707.33 L727.36,709.06 L728.53,710.75 L729.7,712.41 L730.87,714.03 L732.05,715.59 L733.22,717.11 L734.39,718.58 L735.56,719.99 L736.73,721.34 L737.9,722.64 L739.08,723.87 L740.25,725.05 L741.42,726.17 L742.59,727.23 L743.76,728.23 L744.93,729.18 L746.11,730.07 L747.28,730.91 L748.45,731.7 L749.62,732.43 L750.79,733.13 L751.97,733.77 L753.14,734.37 L754.31,734.94 L755.48,735.46 L756.65,735.95 L757.82,736.4 L759,736.82 L760.17,737.21 L761.34,737.57 L762.51,737.91 L763.68,738.22 L764.85,738.51 L766.03,738.77 L767.2,739.02 L768.37,739.25 L769.54,739.46 L770.71,739.65 L771.88,739.83 L773.06,739.99 L774.23,740.14 L775.4,740.28 L776.57,740.41 L777.74,740.53 L778.91,740.64 L780.09,740.74 L781.26,740.83 L782.43,740.92 L783.6,741 L784.77,741.07 L785.95,741.14 L787.12,741.2 L788.29,741.25 L789.46,741.31 L790.63,741.35 L791.8,741.4" stroke="#E7CB89"/>
<path d="M651.2,741.36 L652.37,741.31 L653.54,741.26 L654.71,741.2 L655.88,741.14 L657.05,741.08 L658.23,741 L659.4,740.93 L660.57,740.84 L661.74,740.75 L662.91,740.65 L664.09,740.54 L665.26,740.42 L666.43,740.29 L667.6,740.15 L668.77,740 L669.94,739.84 L671.12,739.66 L672.29,739.47 L673.46,739.26 L674.63,739.04 L675.8,738.79 L676.97,738.53 L678.15,738.24 L679.32,737.93 L680.49,737.6 L681.66,737.24 L682.83,736.85 L684,736.43 L685.18,735.98 L686.35,735.5 L687.52,734.98 L688.69,734.42 L689.86,733.82 L691.03,733.18 L692.21,732.49 L693.38,731.75 L694.55,730.97 L695.72,730.14 L696.89,729.25 L698.07,728.31 L699.24,727.31 L700.41,726.25 L701.58,725.14 L702.75,723.96 L703.92,722.73 L705.1,721.44 L706.27,720.09 L707.44,718.69 L708.61,717.23 L709.78,715.71 L710.95,714.15 L712.13,712.54 L713.3,710.88 L714.47,709.19 L715.64,707.46 L716.81,705.71 L717.98,703.93 L719.16,702.14 L720.33,700.34 L721.5,698.53 L722.67,696.73 L723.84,694.93 L725.02,693.15 L726.19,691.4 L727.36,689.67 L728.53,687.97 L729.7,686.31 L730.87,684.7 L732.05,683.13 L733.22,681.61 L734.39,680.15 L735.56,678.74 L736.73,677.38 L737.9,676.09 L739.08,674.85 L740.25,673.68 L741.42,672.56 L742.59,671.5 L743.76,670.49 L744.93,669.55 L746.11,668.66 L747.28,667.82 L748.45,667.03 L749.62,666.29 L750.79,665.6 L751.97,664.95 L753.14,664.35 L754.31,663.79 L755.48,663.26 L756.65,662.78 L757.82,662.32 L759,661.9 L760.17,661.51 L761.34,661.15 L762.51,660.82 L763.68,660.5 L764.85,660.22 L766.03,659.95 L767.2,659.71 L768.37,659.48 L769.54,659.27 L770.71,659.08 L771.88,658.9 L773.06,658.73 L774.23,658.58 L775.4,658.44 L776.57,658.31 L777.74,658.19 L778.91,658.08 L780.09,657.98 L781.26,657.89 L782.43,657.81 L783.6,657.73 L784.77,657.66 L785.95,657.59 L787.12,657.53 L788.29,657.47 L789.46,657.42 L790.63,657.37 L791.8,657.33" stroke="#BAD684"/>
<path d="M651.2,624.34 L652.37,624.35 L653.54,624.35 L654.71,624.35 L655.88,624.35 L657.05,624.35 L658.23,624.35 L659.4,624.36 L660.57,624.36 L661.74,624.36 L662.91,624.37 L664.09,624.37 L665.26,624.38 L666.43,624.38 L667.6,624.39 L668.77,624.4 L669.94,624.41 L671.12,624.42 L672.29,624.43 L673.46,624.45 L674.63,624.46 L675.8,624.48 L676.97,624.51 L678.15,624.53 L679.32,624.56 L680.49,624.6 L681.66,624.64 L682.83,624.69 L684,624.74 L685.18,624.8 L686.35,624.87 L687.52,624.96 L688.69,625.05 L689.86,625.16 L691.03,625.29 L692.21,625.43 L693.38,625.6 L694.55,625.79 L695.72,626.01 L696.89,626.26 L698.07,626.55 L699.24,626.88 L700.41,627.26 L701.58,627.69 L702.75,628.18 L703.92,628.74 L705.1,629.38 L706.27,630.09 L707.44,630.9 L708.61,631.81 L709.78,632.82 L710.95,633.96 L712.13,635.22 L713.3,636.62 L714.47,638.17 L715.64,639.88 L716.81,641.76 L717.98,643.82 L719.16,646.08 L720.33,648.56 L721.5,651.29 L722.67,654.3 L723.84,657.64 L725.02,661.34 L726.19,665.45 L727.36,670 L728.53,675.03 L729.7,680.49 L730.87,686.32 L732.05,692.4 L733.22,698.52 L734.39,704.47 L735.56,710.03 L736.73,715.02 L737.9,719.34 L739.08,722.95 L740.25,725.88 L741.42,728.2 L742.59,730.01 L743.76,731.39 L744.93,732.43 L746.11,733.22 L747.28,733.8 L748.45,734.24 L749.62,734.57 L750.79,734.81 L751.97,734.99 L753.14,735.12 L754.31,735.22 L755.48,735.29 L756.65,735.35 L757.82,735.39 L759,735.42 L760.17,735.45 L761.34,735.46 L762.51,735.48 L763.68,735.48 L764.85,735.49 L766.03,735.5 L767.2,735.5 L768.37,735.5 L769.54,735.51 L770.71,735.51 L771.88,735.51 L773.06,735.51 L774.23,735.51 L775.4,735.51 L776.57,735.51 L777.74,735.51 L778.91,735.51 L780.09,735.51 L781.26,735.51 L782.43,735.51 L783.6,735.51 L784.77,735.51 L785.95,735.51 L787.12,735.51 L788.29,735.51 L789.46,735.51 L790.63,735.51 L791.8,735.51" stroke="#E3B873"/>
<path d="M651.2,620.52 L652.37,620.52 L653.54,620.52 L654.71,620.52 L655.88,620.52 L657.05,620.53 L658.23,620.53 L659.4,620.53 L660.57,620.53 L661.74,620.54 L662.91,620.54 L664.09,620.54 L665.26,620.55 L666.43,620.55 L667.6,620.56 L668.77,620.56 L669.94,620.57 L671.12,620.58 L672.29,620.59 L673.46,620.6 L674.63,620.61 L675.8,620.62 L676.97,620.64 L678.15,620.65 L679.32,620.67 L680.49,620.69 L681.66,620.71 L682.83,620.74 L684,620.77 L685.18,620.8 L686.35,620.83 L687.52,620.87 L688.69,620.92 L689.86,620.97 L691.03,621.03 L692.21,621.09 L693.38,621.16 L694.55,621.25 L695.72,621.34 L696.89,621.44 L698.07,621.55 L699.24,621.68 L700.41,621.83 L701.58,621.99 L702.75,622.17 L703.92,622.37 L705.1,622.6 L706.27,622.86 L707.44,623.14 L708.61,623.46 L709.78,623.81 L710.95,624.2 L712.13,624.64 L713.3,625.12 L714.47,625.65 L715.64,626.25 L716.81,626.9 L717.98,627.62 L719.16,628.41 L720.33,629.27 L721.5,630.22 L722.67,631.25 L723.84,632.37 L725.02,633.57 L726.19,634.88 L727.36,636.28 L728.53,637.79 L729.7,639.41 L730.87,641.15 L732.05,643.01 L733.22,645.01 L734.39,647.16 L735.56,649.49 L736.73,652.03 L737.9,654.82 L739.08,657.9 L740.25,661.32 L741.42,665.13 L742.59,669.39 L743.76,674.13 L744.93,679.34 L746.11,684.97 L747.28,690.91 L748.45,696.99 L749.62,703 L750.79,708.7 L751.97,713.9 L753.14,718.45 L754.31,722.29 L755.48,725.43 L756.65,727.91 L757.82,729.84 L759,731.31 L760.17,732.41 L761.34,733.23 L762.51,733.84 L763.68,734.28 L764.85,734.61 L766.03,734.85 L767.2,735.03 L768.37,735.15 L769.54,735.25 L770.71,735.32 L771.88,735.37 L773.06,735.41 L774.23,735.43 L775.4,735.46 L776.57,735.47 L777.74,735.48 L778.91,735.49 L780.09,735.5 L781.26,735.5 L782.43,735.5 L783.6,735.51 L784.77,735.51 L785.95,735.51 L787.12,735.51 L788.29,735.51 L789.46,735.51 L790.63,735.51 L791.8,735.51" stroke="#E0A24A"/>
<path d="M651.2,620.26 L652.37,620.26 L653.54,620.26 L654.71,620.26 L655.88,620.26 L657.05,620.26 L658.23,620.26 L659.4,620.26 L660.57,620.26 L661.74,620.26 L662.91,620.26 L664.09,620.26 L665.26,620.26 L666.43,620.26 L667.6,620.26 L668.77,620.26 L669.94,620.26 L671.12,620.27 L672.29,620.27 L673.46,620.27 L674.63,620.27 L675.8,620.27 L676.97,620.28 L678.15,620.28 L679.32,620.28 L680.49,620.28 L681.66,620.29 L682.83,620.29 L684,620.3 L685.18,620.3 L686.35,620.31 L687.52,620.32 L688.69,620.33 L689.86,620.34 L691.03,620.35 L692.21,620.36 L693.38,620.37 L694.55,620.39 L695.72,620.4 L696.89,620.42 L698.07,620.44 L699.24,620.47 L700.41,620.5 L701.58,620.53 L702.75,620.56 L703.92,620.6 L705.1,620.65 L706.27,620.7 L707.44,620.75 L708.61,620.82 L709.78,620.89 L710.95,620.97 L712.13,621.06 L713.3,621.17 L714.47,621.28 L715.64,621.42 L716.81,621.56 L717.98,621.73 L719.16,621.92 L720.33,622.13 L721.5,622.36 L722.67,622.63 L723.84,622.92 L725.02,623.26 L726.19,623.63 L727.36,624.04 L728.53,624.5 L729.7,625.02 L730.87,625.59 L732.05,626.22 L733.22,626.93 L734.39,627.7 L735.56,628.55 L736.73,629.48 L737.9,630.5 L739.08,631.61 L740.25,632.82 L741.42,634.12 L742.59,635.53 L743.76,637.04 L744.93,638.65 L746.11,640.39 L747.28,642.24 L748.45,644.22 L749.62,646.36 L750.79,648.66 L751.97,651.18 L753.14,653.95 L754.31,657.03 L755.48,660.49 L756.65,664.42 L757.82,668.9 L759,673.97 L760.17,679.65 L761.34,685.9 L762.51,692.54 L763.68,699.34 L764.85,705.97 L766.03,712.11 L767.2,717.5 L768.37,722 L769.54,725.6 L770.71,728.36 L771.88,730.42 L773.06,731.92 L774.23,732.99 L775.4,733.75 L776.57,734.28 L777.74,734.65 L778.91,734.91 L780.09,735.09 L781.26,735.22 L782.43,735.31 L783.6,735.37 L784.77,735.41 L785.95,735.44 L787.12,735.46 L788.29,735.48 L789.46,735.49 L790.63,735.5 L791.8,735.5" stroke="#DB8E3D"/>
<path d="M651.2,620.25 L652.37,620.25 L653.54,620.25 L654.71,620.25 L655.88,620.25 L657.05,620.25 L658.23,620.25 L659.4,620.25 L660.57,620.25 L661.74,620.26 L662.91,620.26 L664.09,620.26 L665.26,620.26 L666.43,620.26 L667.6,620.26 L668.77,620.26 L669.94,620.26 L671.12,620.26 L672.29,620.26 L673.46,620.26 L674.63,620.26 L675.8,620.26 L676.97,620.26 L678.15,620.26 L679.32,620.26 L680.49,620.26 L681.66,620.26 L682.83,620.26 L684,620.26 L685.18,620.26 L686.35,620.26 L687.52,620.26 L688.69,620.27 L689.86,620.27 L691.03,620.27 L692.21,620.27 L693.38,620.27 L694.55,620.28 L695.72,620.28 L696.89,620.28 L698.07,620.29 L699.24,620.29 L700.41,620.29 L701.58,620.3 L702.75,620.31 L703.92,620.31 L705.1,620.32 L706.27,620.33 L707.44,620.34 L708.61,620.35 L709.78,620.36 L710.95,620.38 L712.13,620.39 L713.3,620.41 L714.47,620.43 L715.64,620.46 L716.81,620.49 L717.98,620.52 L719.16,620.55 L720.33,620.59 L721.5,620.63 L722.67,620.68 L723.84,620.74 L725.02,620.8 L726.19,620.88 L727.36,620.96 L728.53,621.05 L729.7,621.15 L730.87,621.27 L732.05,621.4 L733.22,621.55 L734.39,621.72 L735.56,621.91 L736.73,622.13 L737.9,622.37 L739.08,622.64 L740.25,622.95 L741.42,623.29 L742.59,623.68 L743.76,624.1 L744.93,624.58 L746.11,625.12 L747.28,625.72 L748.45,626.38 L749.62,627.11 L750.79,627.92 L751.97,628.81 L753.14,629.79 L754.31,630.85 L755.48,632.02 L756.65,633.29 L757.82,634.66 L759,636.14 L760.17,637.73 L761.34,639.45 L762.51,641.29 L763.68,643.27 L764.85,645.4 L766.03,647.71 L767.2,650.23 L768.37,653 L769.54,656.07 L770.71,659.51 L771.88,663.39 L773.06,667.77 L774.23,672.71 L775.4,678.22 L776.57,684.24 L777.74,690.64 L778.91,697.21 L780.09,703.65 L781.26,709.68 L782.43,715.04 L783.6,719.59 L784.77,723.3 L785.95,726.2 L787.12,728.41 L788.29,730.05 L789.46,731.24 L790.63,732.11 L791.8,732.72" stroke="#D2782C"/>
<path d="M651.2,619.83 L652.37,619.83 L653.54,619.83 L654.71,619.83 L655.88,619.83 L657.05,619.83 L658.23,619.83 L659.4,619.83 L660.57,619.83 L661.74,619.83 L662.91,619.83 L664.09,619.83 L665.26,619.83 L666.43,619.83 L667.6,619.83 L668.77,619.83 L669.94,619.83 L671.12,619.83 L672.29,619.83 L673.46,619.83 L674.63,619.83 L675.8,619.83 L676.97,619.83 L678.15,619.84 L679.32,619.84 L680.49,619.84 L681.66,619.84 L682.83,619.84 L684,619.84 L685.18,619.84 L686.35,619.84 L687.52,619.84 L688.69,619.84 L689.86,619.85 L691.03,619.85 L692.21,619.85 L693.38,619.85 L694.55,619.85 L695.72,619.86 L696.89,619.86 L698.07,619.86 L699.24,619.87 L700.41,619.87 L701.58,619.87 L702.75,619.88 L703.92,619.88 L705.1,619.89 L706.27,619.9 L707.44,619.9 L708.61,619.91 L709.78,619.92 L710.95,619.93 L712.13,619.94 L713.3,619.95 L714.47,619.96 L715.64,619.97 L716.81,619.98 L717.98,620 L719.16,620.02 L720.33,620.03 L721.5,620.05 L722.67,620.08 L723.84,620.1 L725.02,620.13 L726.19,620.15 L727.36,620.19 L728.53,620.22 L729.7,620.26 L730.87,620.3 L732.05,620.34 L733.22,620.38 L734.39,620.43 L735.56,620.49 L736.73,620.55 L737.9,620.61 L739.08,620.67 L740.25,620.75 L741.42,620.82 L742.59,620.91 L743.76,620.99 L744.93,621.09 L746.11,621.19 L747.28,621.29 L748.45,621.41 L749.62,621.53 L750.79,621.66 L751.97,621.8 L753.14,621.94 L754.31,622.1 L755.48,622.27 L756.65,622.45 L757.82,622.64 L759,622.84 L760.17,623.05 L761.34,623.28 L762.51,623.52 L763.68,623.77 L764.85,624.04 L766.03,624.31 L767.2,624.58 L768.37,624.86 L769.54,625.14 L770.71,625.41 L771.88,625.68 L773.06,625.93 L774.23,626.17 L775.4,626.39 L776.57,626.59 L777.74,626.77 L778.91,626.93 L780.09,627.07 L781.26,627.2 L782.43,627.31 L783.6,627.4 L784.77,627.48 L785.95,627.55 L787.12,627.61 L788.29,627.66 L789.46,627.7 L790.63,627.73 L791.8,627.76" stroke="#C46019"/>
<path d="M651.2,739.09 L652.37,739.09 L653.54,739.09 L654.71,739.09 L655.88,739.09 L657.05,739.09 L658.23,739.09 L659.4,739.09 L660.57,739.09 L661.74,739.09 L662.91,739.09 L664.09,739.09 L665.26,739.09 L666.43,739.09 L667.6,739.09 L668.77,739.09 L669.94,739.09 L671.12,739.09 L672.29,739.09 L673.46,739.09 L674.63,739.09 L675.8,739.09 L676.97,739.09 L678.15,739.09 L679.32,739.09 L680.49,739.09 L681.66,739.09 L682.83,739.09 L684,739.09 L685.18,739.09 L686.35,739.09 L687.52,739.09 L688.69,739.09 L689.86,739.09 L691.03,739.09 L692.21,739.09 L693.38,739.09 L694.55,739.09 L695.72,739.09 L696.89,739.09 L698.07,739.09 L699.24,739.09 L700.41,739.09 L701.58,739.09 L702.75,739.09 L703.92,739.09 L705.1,739.09 L706.27,739.09 L707.44,739.09 L708.61,739.09 L709.78,739.09 L710.95,739.08 L712.13,739.08 L713.3,739.08 L714.47,739.08 L715.64,739.07 L716.81,739.06 L717.98,739.04 L719.16,739.01 L720.33,738.96 L721.5,738.88 L722.67,738.75 L723.84,738.54 L725.02,738.2 L726.19,737.64 L727.36,736.74 L728.53,735.31 L729.7,733.07 L730.87,729.7 L732.05,724.96 L733.22,718.83 L734.39,711.68 L735.56,704.23 L736.73,697.16 L737.9,690.92 L739.08,685.63 L740.25,681.26 L741.42,677.67 L742.59,674.76 L743.76,672.43 L744.93,670.58 L746.11,669.13 L747.28,668.01 L748.45,667.16 L749.62,666.52 L750.79,666.03 L751.97,665.67 L753.14,665.4 L754.31,665.21 L755.48,665.06 L756.65,664.95 L757.82,664.87 L759,664.82 L760.17,664.77 L761.34,664.74 L762.51,664.72 L763.68,664.7 L764.85,664.69 L766.03,664.68 L767.2,664.67 L768.37,664.67 L769.54,664.67 L770.71,664.66 L771.88,664.66 L773.06,664.66 L774.23,664.66 L775.4,664.66 L776.57,664.66 L777.74,664.66 L778.91,664.66 L780.09,664.66 L781.26,664.66 L782.43,664.66 L783.6,664.66 L784.77,664.66 L785.95,664.66 L787.12,664.66 L788.29,664.66 L789.46,664.66 L790.63,664.66 L791.8,664.66" stroke="#A3C971"/>
<path d="M651.2,739.09 L652.37,739.09 L653.54,739.09 L654.71,739.09 L655.88,739.09 L657.05,739.09 L658.23,739.09 L659.4,739.09 L660.57,739.09 L661.74,739.09 L662.91,739.09 L664.09,739.09 L665.26,739.09 L666.43,739.09 L667.6,739.09 L668.77,739.09 L669.94,739.09 L671.12,739.09 L672.29,739.09 L673.46,739.09 L674.63,739.09 L675.8,739.09 L676.97,739.09 L678.15,739.09 L679.32,739.09 L680.49,739.09 L681.66,739.09 L682.83,739.09 L684,739.09 L685.18,739.09 L686.35,739.09 L687.52,739.09 L688.69,739.09 L689.86,739.09 L691.03,739.09 L692.21,739.09 L693.38,739.09 L694.55,739.09 L695.72,739.09 L696.89,739.09 L698.07,739.09 L699.24,739.09 L700.41,739.09 L701.58,739.09 L702.75,739.09 L703.92,739.09 L705.1,739.09 L706.27,739.09 L707.44,739.09 L708.61,739.09 L709.78,739.09 L710.95,739.09 L712.13,739.09 L713.3,739.09 L714.47,739.09 L715.64,739.09 L716.81,739.08 L717.98,739.08 L719.16,739.08 L720.33,739.08 L721.5,739.08 L722.67,739.07 L723.84,739.07 L725.02,739.06 L726.19,739.05 L727.36,739.04 L728.53,739.01 L729.7,738.98 L730.87,738.94 L732.05,738.88 L733.22,738.79 L734.39,738.66 L735.56,738.48 L736.73,738.23 L737.9,737.88 L739.08,737.37 L740.25,736.67 L741.42,735.69 L742.59,734.35 L743.76,732.52 L744.93,730.07 L746.11,726.88 L747.28,722.83 L748.45,717.88 L749.62,712.09 L750.79,705.68 L751.97,698.98 L753.14,692.42 L754.31,686.41 L755.48,681.21 L756.65,676.95 L757.82,673.61 L759,671.09 L760.17,669.22 L761.34,667.87 L762.51,666.91 L763.68,666.23 L764.85,665.75 L766.03,665.42 L767.2,665.18 L768.37,665.02 L769.54,664.91 L770.71,664.83 L771.88,664.78 L773.06,664.74 L774.23,664.72 L775.4,664.7 L776.57,664.68 L777.74,664.68 L778.91,664.67 L780.09,664.67 L781.26,664.66 L782.43,664.66 L783.6,664.66 L784.77,664.66 L785.95,664.66 L787.12,664.66 L788.29,664.66 L789.46,664.66 L790.63,664.66 L791.8,664.66" stroke="#8DB962"/>
<path d="M651.2,739.09 L652.37,739.09 L653.54,739.09 L654.71,739.09 L655.88,739.09 L657.05,739.09 L658.23,739.09 L659.4,739.09 L660.57,739.09 L661.74,739.09 L662.91,739.09 L664.09,739.09 L665.26,739.09 L666.43,739.09 L667.6,739.09 L668.77,739.09 L669.94,739.09 L671.12,739.09 L672.29,739.09 L673.46,739.09 L674.63,739.09 L675.8,739.09 L676.97,739.09 L678.15,739.09 L679.32,739.09 L680.49,739.09 L681.66,739.09 L682.83,739.09 L684,739.09 L685.18,739.09 L686.35,739.09 L687.52,739.09 L688.69,739.09 L689.86,739.09 L691.03,739.09 L692.21,739.09 L693.38,739.09 L694.55,739.09 L695.72,739.09 L696.89,739.09 L698.07,739.09 L699.24,739.09 L700.41,739.09 L701.58,739.09 L702.75,739.09 L703.92,739.09 L705.1,739.09 L706.27,739.09 L707.44,739.09 L708.61,739.09 L709.78,739.09 L710.95,739.09 L712.13,739.09 L713.3,739.09 L714.47,739.09 L715.64,739.09 L716.81,739.09 L717.98,739.09 L719.16,739.09 L720.33,739.09 L721.5,739.09 L722.67,739.09 L723.84,739.09 L725.02,739.09 L726.19,739.09 L727.36,739.09 L728.53,739.09 L729.7,739.09 L730.87,739.08 L732.05,739.08 L733.22,739.08 L734.39,739.08 L735.56,739.08 L736.73,739.07 L737.9,739.07 L739.08,739.06 L740.25,739.05 L741.42,739.04 L742.59,739.02 L743.76,738.99 L744.93,738.96 L746.11,738.9 L747.28,738.83 L748.45,738.73 L749.62,738.59 L750.79,738.39 L751.97,738.12 L753.14,737.74 L754.31,737.22 L755.48,736.5 L756.65,735.52 L757.82,734.21 L759,732.45 L760.17,730.15 L761.34,727.17 L762.51,723.43 L763.68,718.85 L764.85,713.42 L766.03,707.26 L767.2,700.63 L768.37,693.92 L769.54,687.58 L770.71,682 L771.88,677.39 L773.06,673.78 L774.23,671.08 L775.4,669.13 L776.57,667.74 L777.74,666.77 L778.91,666.1 L780.09,665.64 L781.26,665.33 L782.43,665.11 L783.6,664.97 L784.77,664.87 L785.95,664.8 L787.12,664.75 L788.29,664.72 L789.46,664.7 L790.63,664.69 L791.8,664.68" stroke="#77A448"/>
<path d="M651.2,739.09 L652.37,739.09 L653.54,739.09 L654.71,739.09 L655.88,739.09 L657.05,739.09 L658.23,739.09 L659.4,739.09 L660.57,739.09 L661.74,739.09 L662.91,739.09 L664.09,739.09 L665.26,739.09 L666.43,739.09 L667.6,739.09 L668.77,739.09 L669.94,739.09 L671.12,739.09 L672.29,739.09 L673.46,739.09 L674.63,739.09 L675.8,739.09 L676.97,739.09 L678.15,739.09 L679.32,739.09 L680.49,739.09 L681.66,739.09 L682.83,739.09 L684,739.09 L685.18,739.09 L686.35,739.09 L687.52,739.09 L688.69,739.09 L689.86,739.09 L691.03,739.09 L692.21,739.09 L693.38,739.09 L694.55,739.09 L695.72,739.09 L696.89,739.09 L698.07,739.09 L699.24,739.09 L700.41,739.09 L701.58,739.09 L702.75,739.09 L703.92,739.09 L705.1,739.09 L706.27,739.09 L707.44,739.09 L708.61,739.09 L709.78,739.09 L710.95,739.09 L712.13,739.09 L713.3,739.09 L714.47,739.09 L715.64,739.09 L716.81,739.09 L717.98,739.09 L719.16,739.09 L720.33,739.09 L721.5,739.09 L722.67,739.09 L723.84,739.09 L725.02,739.09 L726.19,739.09 L727.36,739.09 L728.53,739.09 L729.7,739.09 L730.87,739.09 L732.05,739.09 L733.22,739.09 L734.39,739.09 L735.56,739.09 L736.73,739.09 L737.9,739.09 L739.08,739.09 L740.25,739.09 L741.42,739.09 L742.59,739.09 L743.76,739.09 L744.93,739.09 L746.11,739.09 L747.28,739.08 L748.45,739.08 L749.62,739.08 L750.79,739.08 L751.97,739.08 L753.14,739.08 L754.31,739.07 L755.48,739.06 L756.65,739.05 L757.82,739.04 L759,739.02 L760.17,738.99 L761.34,738.95 L762.51,738.89 L763.68,738.8 L764.85,738.67 L766.03,738.5 L767.2,738.24 L768.37,737.88 L769.54,737.37 L770.71,736.65 L771.88,735.65 L773.06,734.26 L774.23,732.38 L775.4,729.88 L776.57,726.63 L777.74,722.59 L778.91,717.76 L780.09,712.29 L781.26,706.47 L782.43,700.64 L783.6,695.17 L784.77,690.34 L785.95,686.3 L787.12,683.05 L788.29,680.55 L789.46,678.67 L790.63,677.28 L791.8,676.28" stroke="#67933C"/>
<path d="M651.2,739.09 L652.37,739.09 L653.54,739.09 L654.71,739.09 L655.88,739.09 L657.05,739.09 L658.23,739.09 L659.4,739.09 L660.57,739.09 L661.74,739.09 L662.91,739.09 L664.09,739.09 L665.26,739.09 L666.43,739.09 L667.6,739.09 L668.77,739.09 L669.94,739.09 L671.12,739.09 L672.29,739.09 L673.46,739.09 L674.63,739.09 L675.8,739.09 L676.97,739.09 L678.15,739.09 L679.32,739.09 L680.49,739.09 L681.66,739.09 L682.83,739.09 L684,739.09 L685.18,739.09 L686.35,739.09 L687.52,739.09 L688.69,739.09 L689.86,739.09 L691.03,739.09 L692.21,739.09 L693.38,739.09 L694.55,739.09 L695.72,739.09 L696.89,739.09 L698.07,739.09 L699.24,739.09 L700.41,739.09 L701.58,739.09 L702.75,739.09 L703.92,739.09 L705.1,739.09 L706.27,739.09 L707.44,739.09 L708.61,739.09 L709.78,739.09 L710.95,739.09 L712.13,739.09 L713.3,739.09 L714.47,739.09 L715.64,739.09 L716.81,739.09 L717.98,739.09 L719.16,739.09 L720.33,739.09 L721.5,739.09 L722.67,739.09 L723.84,739.09 L725.02,739.09 L726.19,739.09 L727.36,739.09 L728.53,739.09 L729.7,739.09 L730.87,739.09 L732.05,739.09 L733.22,739.09 L734.39,739.09 L735.56,739.09 L736.73,739.09 L737.9,739.09 L739.08,739.09 L740.25,739.09 L741.42,739.09 L742.59,739.09 L743.76,739.09 L744.93,739.09 L746.11,739.09 L747.28,739.09 L748.45,739.09 L749.62,739.09 L750.79,739.09 L751.97,739.09 L753.14,739.09 L754.31,739.09 L755.48,739.09 L756.65,739.09 L757.82,739.09 L759,739.09 L760.17,739.09 L761.34,739.09 L762.51,739.09 L763.68,739.09 L764.85,739.09 L766.03,739.09 L767.2,739.09 L768.37,739.09 L769.54,739.09 L770.71,739.09 L771.88,739.09 L773.06,739.09 L774.23,739.09 L775.4,739.09 L776.57,739.09 L777.74,739.09 L778.91,739.09 L780.09,739.09 L781.26,739.09 L782.43,739.09 L783.6,739.09 L784.77,739.09 L785.95,739.09 L787.12,739.09 L788.29,739.09 L789.46,739.09 L790.63,739.09 L791.8,739.09" stroke="#4F7E28"/>
</g>
<rect x="653.9" y="614.3" width="135.2" height="136.1" fill="none" stroke="#979797" stroke-width="1.1"/>
<path d="M667.42,750.4V748.2M667.42,614.3V616.5M721.5,750.4V748.2M721.5,614.3V616.5M775.58,750.4V748.2M775.58,614.3V616.5M653.9,741.89H656.1M789.1,741.89H786.9M653.9,699.36H656.1M789.1,699.36H786.9M653.9,656.83H656.1M789.1,656.83H786.9M653.9,614.3H656.1M789.1,614.3H786.9" stroke="#777" stroke-width="0.9"/>
<g font-family="'Liberation Sans', sans-serif" font-size="16.8" fill="#222">
<text x="667.42" y="772.3" text-anchor="middle">-0.2</text>
<text x="721.5" y="772.3" text-anchor="middle">0</text>
<text x="775.58" y="772.3" text-anchor="middle">0.2</text>
<text x="647.7" y="748.29" text-anchor="end">0</text>
<text x="647.7" y="705.76" text-anchor="end">0.5</text>
<text x="647.7" y="663.23" text-anchor="end">1</text>
<text x="647.7" y="620.7" text-anchor="end">1.5</text>
</g>
<clipPath id="clip885_614"><rect x="885.6" y="614.3" width="135.7" height="136.1"/></clipPath>
<g clip-path="url(#clip885_614)" fill="none" stroke-width="2.2" stroke-linejoin="round" stroke-linecap="butt">
<path d="M882.89,657.37 L884.06,657.42 L885.24,657.47 L886.41,657.52 L887.59,657.58 L888.77,657.65 L889.94,657.72 L891.12,657.8 L892.29,657.88 L893.47,657.98 L894.65,658.08 L895.82,658.19 L897,658.3 L898.17,658.43 L899.35,658.57 L900.53,658.72 L901.7,658.88 L902.88,659.06 L904.06,659.25 L905.23,659.46 L906.41,659.69 L907.58,659.93 L908.76,660.2 L909.94,660.48 L911.11,660.79 L912.29,661.12 L913.46,661.48 L914.64,661.87 L915.82,662.29 L916.99,662.74 L918.17,663.23 L919.34,663.75 L920.52,664.31 L921.7,664.91 L922.87,665.55 L924.05,666.24 L925.22,666.97 L926.4,667.75 L927.58,668.59 L928.75,669.48 L929.93,670.42 L931.1,671.42 L932.28,672.47 L933.46,673.59 L934.63,674.76 L935.81,675.99 L936.99,677.28 L938.16,678.63 L939.34,680.04 L940.51,681.5 L941.69,683.01 L942.87,684.58 L944.04,686.19 L945.22,687.84 L946.39,689.54 L947.57,691.26 L948.75,693.02 L949.92,694.79 L951.1,696.59 L952.27,698.39 L953.45,700.2 L954.63,702 L955.8,703.79 L956.98,705.57 L958.15,707.33 L959.33,709.06 L960.51,710.75 L961.68,712.41 L962.86,714.03 L964.03,715.59 L965.21,717.11 L966.39,718.58 L967.56,719.99 L968.74,721.34 L969.91,722.64 L971.09,723.87 L972.27,725.05 L973.44,726.17 L974.62,727.23 L975.8,728.23 L976.97,729.18 L978.15,730.07 L979.32,730.91 L980.5,731.7 L981.68,732.43 L982.85,733.13 L984.03,733.77 L985.2,734.37 L986.38,734.94 L987.56,735.46 L988.73,735.95 L989.91,736.4 L991.08,736.82 L992.26,737.21 L993.44,737.57 L994.61,737.91 L995.79,738.22 L996.96,738.51 L998.14,738.77 L999.32,739.02 L1000.49,739.25 L1001.67,739.46 L1002.84,739.65 L1004.02,739.83 L1005.2,739.99 L1006.37,740.14 L1007.55,740.28 L1008.73,740.41 L1009.9,740.53 L1011.08,740.64 L1012.25,740.74 L1013.43,740.83 L1014.61,740.92 L1015.78,741 L1016.96,741.07 L1018.13,741.14 L1019.31,741.2 L1020.49,741.25 L1021.66,741.31 L1022.84,741.35 L1024.01,741.4" stroke="#E7CB89"/>
<path d="M882.89,741.36 L884.06,741.31 L885.24,741.26 L886.41,741.2 L887.59,741.14 L888.77,741.08 L889.94,741 L891.12,740.93 L892.29,740.84 L893.47,740.75 L894.65,740.65 L895.82,740.54 L897,740.42 L898.17,740.29 L899.35,740.15 L900.53,740 L901.7,739.84 L902.88,739.66 L904.06,739.47 L905.23,739.26 L906.41,739.04 L907.58,738.79 L908.76,738.53 L909.94,738.24 L911.11,737.93 L912.29,737.6 L913.46,737.24 L914.64,736.85 L915.82,736.43 L916.99,735.98 L918.17,735.5 L919.34,734.98 L920.52,734.42 L921.7,733.82 L922.87,733.18 L924.05,732.49 L925.22,731.75 L926.4,730.97 L927.58,730.14 L928.75,729.25 L929.93,728.31 L931.1,727.31 L932.28,726.25 L933.46,725.14 L934.63,723.96 L935.81,722.73 L936.99,721.44 L938.16,720.09 L939.34,718.69 L940.51,717.23 L941.69,715.71 L942.87,714.15 L944.04,712.54 L945.22,710.88 L946.39,709.19 L947.57,707.46 L948.75,705.71 L949.92,703.93 L951.1,702.14 L952.27,700.34 L953.45,698.53 L954.63,696.73 L955.8,694.93 L956.98,693.15 L958.15,691.4 L959.33,689.67 L960.51,687.97 L961.68,686.31 L962.86,684.7 L964.03,683.13 L965.21,681.61 L966.39,680.15 L967.56,678.74 L968.74,677.38 L969.91,676.09 L971.09,674.85 L972.27,673.68 L973.44,672.56 L974.62,671.5 L975.8,670.49 L976.97,669.55 L978.15,668.66 L979.32,667.82 L980.5,667.03 L981.68,666.29 L982.85,665.6 L984.03,664.95 L985.2,664.35 L986.38,663.79 L987.56,663.26 L988.73,662.78 L989.91,662.32 L991.08,661.9 L992.26,661.51 L993.44,661.15 L994.61,660.82 L995.79,660.5 L996.96,660.22 L998.14,659.95 L999.32,659.71 L1000.49,659.48 L1001.67,659.27 L1002.84,659.08 L1004.02,658.9 L1005.2,658.73 L1006.37,658.58 L1007.55,658.44 L1008.73,658.31 L1009.9,658.19 L1011.08,658.08 L1012.25,657.98 L1013.43,657.89 L1014.61,657.81 L1015.78,657.73 L1016.96,657.66 L1018.13,657.59 L1019.31,657.53 L1020.49,657.47 L1021.66,657.42 L1022.84,657.37 L1024.01,657.33" stroke="#BAD684"/>
<path d="M882.89,627.92 L884.06,627.92 L885.24,627.92 L886.41,627.92 L887.59,627.92 L888.77,627.92 L889.94,627.93 L891.12,627.93 L892.29,627.93 L893.47,627.94 L894.65,627.94 L895.82,627.94 L897,627.95 L898.17,627.95 L899.35,627.96 L900.53,627.97 L901.7,627.98 L902.88,627.99 L904.06,628 L905.23,628.02 L906.41,628.03 L907.58,628.05 L908.76,628.07 L909.94,628.1 L911.11,628.13 L912.29,628.16 L913.46,628.2 L914.64,628.25 L915.82,628.3 L916.99,628.36 L918.17,628.43 L919.34,628.51 L920.52,628.6 L921.7,628.71 L922.87,628.83 L924.05,628.97 L925.22,629.13 L926.4,629.32 L927.58,629.53 L928.75,629.77 L929.93,630.05 L931.1,630.37 L932.28,630.74 L933.46,631.16 L934.63,631.63 L935.81,632.17 L936.99,632.79 L938.16,633.48 L939.34,634.26 L940.51,635.14 L941.69,636.12 L942.87,637.22 L944.04,638.44 L945.22,639.8 L946.39,641.3 L947.57,642.95 L948.75,644.77 L949.92,646.76 L951.1,648.95 L952.27,651.35 L953.45,654 L954.63,656.91 L955.8,660.14 L956.98,663.72 L958.15,667.7 L959.33,672.11 L960.51,676.97 L961.68,682.26 L962.86,687.91 L964.03,693.78 L965.21,699.71 L966.39,705.46 L967.56,710.85 L968.74,715.68 L969.91,719.86 L971.09,723.36 L972.27,726.19 L973.44,728.44 L974.62,730.18 L975.8,731.52 L976.97,732.53 L978.15,733.29 L979.32,733.86 L980.5,734.28 L981.68,734.6 L982.85,734.83 L984.03,735 L985.2,735.13 L986.38,735.23 L987.56,735.3 L988.73,735.36 L989.91,735.4 L991.08,735.43 L992.26,735.45 L993.44,735.46 L994.61,735.48 L995.79,735.49 L996.96,735.49 L998.14,735.5 L999.32,735.5 L1000.49,735.51 L1001.67,735.51 L1002.84,735.51 L1004.02,735.51 L1005.2,735.51 L1006.37,735.51 L1007.55,735.51 L1008.73,735.51 L1009.9,735.51 L1011.08,735.51 L1012.25,735.51 L1013.43,735.51 L1014.61,735.51 L1015.78,735.51 L1016.96,735.51 L1018.13,735.51 L1019.31,735.51 L1020.49,735.51 L1021.66,735.51 L1022.84,735.51 L1024.01,735.51" stroke="#E3B873"/>
<path d="M882.89,620.52 L884.06,620.52 L885.24,620.52 L886.41,620.52 L887.59,620.53 L888.77,620.53 L889.94,620.53 L891.12,620.53 L892.29,620.54 L893.47,620.54 L894.65,620.54 L895.82,620.55 L897,620.55 L898.17,620.56 L899.35,620.56 L900.53,620.57 L901.7,620.58 L902.88,620.59 L904.06,620.6 L905.23,620.61 L906.41,620.62 L907.58,620.63 L908.76,620.65 L909.94,620.67 L911.11,620.69 L912.29,620.71 L913.46,620.74 L914.64,620.76 L915.82,620.79 L916.99,620.83 L918.17,620.87 L919.34,620.92 L920.52,620.97 L921.7,621.02 L922.87,621.09 L924.05,621.16 L925.22,621.24 L926.4,621.33 L927.58,621.43 L928.75,621.54 L929.93,621.67 L931.1,621.82 L932.28,621.98 L933.46,622.16 L934.63,622.36 L935.81,622.58 L936.99,622.83 L938.16,623.12 L939.34,623.43 L940.51,623.78 L941.69,624.17 L942.87,624.6 L944.04,625.08 L945.22,625.61 L946.39,626.2 L947.57,626.85 L948.75,627.56 L949.92,628.35 L951.1,629.21 L952.27,630.14 L953.45,631.17 L954.63,632.28 L955.8,633.48 L956.98,634.78 L958.15,636.17 L959.33,637.67 L960.51,639.29 L961.68,641.01 L962.86,642.86 L964.03,644.85 L965.21,646.99 L966.39,649.31 L967.56,651.83 L968.74,654.6 L969.91,657.65 L971.09,661.04 L972.27,664.82 L973.44,669.05 L974.62,673.75 L975.8,678.92 L976.97,684.52 L978.15,690.44 L979.32,696.52 L980.5,702.54 L981.68,708.28 L982.85,713.52 L984.03,718.13 L985.2,722.02 L986.38,725.21 L987.56,727.74 L988.73,729.71 L989.91,731.21 L991.08,732.34 L992.26,733.18 L993.44,733.8 L994.61,734.25 L995.79,734.59 L996.96,734.83 L998.14,735.01 L999.32,735.15 L1000.49,735.24 L1001.67,735.31 L1002.84,735.37 L1004.02,735.4 L1005.2,735.43 L1006.37,735.45 L1007.55,735.47 L1008.73,735.48 L1009.9,735.49 L1011.08,735.5 L1012.25,735.5 L1013.43,735.5 L1014.61,735.51 L1015.78,735.51 L1016.96,735.51 L1018.13,735.51 L1019.31,735.51 L1020.49,735.51 L1021.66,735.51 L1022.84,735.51 L1024.01,735.51" stroke="#E0A24A"/>
<path d="M882.89,620.26 L884.06,620.26 L885.24,620.26 L886.41,620.26 L887.59,620.26 L888.77,620.26 L889.94,620.26 L891.12,620.26 L892.29,620.26 L893.47,620.26 L894.65,620.26 L895.82,620.26 L897,620.26 L898.17,620.26 L899.35,620.26 L900.53,620.26 L901.7,620.27 L902.88,620.27 L904.06,620.27 L905.23,620.27 L906.41,620.27 L907.58,620.28 L908.76,620.28 L909.94,620.28 L911.11,620.28 L912.29,620.29 L913.46,620.29 L914.64,620.3 L915.82,620.3 L916.99,620.31 L918.17,620.32 L919.34,620.33 L920.52,620.33 L921.7,620.34 L922.87,620.36 L924.05,620.37 L925.22,620.38 L926.4,620.4 L927.58,620.42 L928.75,620.44 L929.93,620.47 L931.1,620.49 L932.28,620.52 L933.46,620.56 L934.63,620.6 L935.81,620.64 L936.99,620.69 L938.16,620.75 L939.34,620.81 L940.51,620.88 L941.69,620.96 L942.87,621.06 L944.04,621.16 L945.22,621.27 L946.39,621.4 L947.57,621.55 L948.75,621.72 L949.92,621.9 L951.1,622.11 L952.27,622.34 L953.45,622.61 L954.63,622.9 L955.8,623.23 L956.98,623.6 L958.15,624.01 L959.33,624.47 L960.51,624.98 L961.68,625.54 L962.86,626.17 L964.03,626.87 L965.21,627.64 L966.39,628.48 L967.56,629.41 L968.74,630.42 L969.91,631.52 L971.09,632.72 L972.27,634.02 L973.44,635.41 L974.62,636.92 L975.8,638.53 L976.97,640.25 L978.15,642.09 L979.32,644.07 L980.5,646.19 L981.68,648.48 L982.85,650.98 L984.03,653.72 L985.2,656.78 L986.38,660.21 L987.56,664.1 L988.73,668.53 L989.91,673.55 L991.08,679.19 L992.26,685.4 L993.44,692.02 L994.61,698.82 L995.79,705.47 L996.96,711.66 L998.14,717.11 L999.32,721.69 L1000.49,725.35 L1001.67,728.17 L1002.84,730.28 L1004.02,731.82 L1005.2,732.92 L1006.37,733.7 L1007.55,734.25 L1008.73,734.63 L1009.9,734.89 L1011.08,735.08 L1012.25,735.21 L1013.43,735.3 L1014.61,735.36 L1015.78,735.41 L1016.96,735.44 L1018.13,735.46 L1019.31,735.48 L1020.49,735.49 L1021.66,735.5 L1022.84,735.5 L1024.01,735.5" stroke="#DB8E3D"/>
<path d="M882.89,620.25 L884.06,620.25 L885.24,620.25 L886.41,620.25 L887.59,620.25 L888.77,620.25 L889.94,620.25 L891.12,620.25 L892.29,620.26 L893.47,620.26 L894.65,620.26 L895.82,620.26 L897,620.26 L898.17,620.26 L899.35,620.26 L900.53,620.26 L901.7,620.26 L902.88,620.26 L904.06,620.26 L905.23,620.26 L906.41,620.26 L907.58,620.26 L908.76,620.26 L909.94,620.26 L911.11,620.26 L912.29,620.26 L913.46,620.26 L914.64,620.26 L915.82,620.26 L916.99,620.26 L918.17,620.26 L919.34,620.27 L920.52,620.27 L921.7,620.27 L922.87,620.27 L924.05,620.27 L925.22,620.28 L926.4,620.28 L927.58,620.28 L928.75,620.29 L929.93,620.29 L931.1,620.29 L932.28,620.3 L933.46,620.31 L934.63,620.31 L935.81,620.32 L936.99,620.33 L938.16,620.34 L939.34,620.35 L940.51,620.36 L941.69,620.38 L942.87,620.39 L944.04,620.41 L945.22,620.43 L946.39,620.46 L947.57,620.48 L948.75,620.51 L949.92,620.55 L951.1,620.59 L952.27,620.63 L953.45,620.68 L954.63,620.74 L955.8,620.8 L956.98,620.87 L958.15,620.95 L959.33,621.04 L960.51,621.15 L961.68,621.26 L962.86,621.39 L964.03,621.54 L965.21,621.71 L966.39,621.9 L967.56,622.11 L968.74,622.35 L969.91,622.62 L971.09,622.92 L972.27,623.26 L973.44,623.64 L974.62,624.07 L975.8,624.55 L976.97,625.08 L978.15,625.67 L979.32,626.32 L980.5,627.05 L981.68,627.85 L982.85,628.74 L984.03,629.71 L985.2,630.77 L986.38,631.93 L987.56,633.19 L988.73,634.55 L989.91,636.02 L991.08,637.61 L992.26,639.31 L993.44,641.14 L994.61,643.11 L995.79,645.23 L996.96,647.53 L998.14,650.03 L999.32,652.78 L1000.49,655.82 L1001.67,659.23 L1002.84,663.07 L1004.02,667.41 L1005.2,672.31 L1006.37,677.77 L1007.55,683.76 L1008.73,690.14 L1009.9,696.71 L1011.08,703.17 L1012.25,709.23 L1013.43,714.65 L1014.61,719.27 L1015.78,723.04 L1016.96,726 L1018.13,728.26 L1019.31,729.94 L1020.49,731.16 L1021.66,732.05 L1022.84,732.68 L1024.01,733.13" stroke="#D2782C"/>
<path d="M882.89,619.83 L884.06,619.83 L885.24,619.83 L886.41,619.83 L887.59,619.83 L888.77,619.83 L889.94,619.83 L891.12,619.83 L892.29,619.83 L893.47,619.83 L894.65,619.83 L895.82,619.83 L897,619.83 L898.17,619.83 L899.35,619.83 L900.53,619.83 L901.7,619.83 L902.88,619.83 L904.06,619.83 L905.23,619.83 L906.41,619.83 L907.58,619.83 L908.76,619.84 L909.94,619.84 L911.11,619.84 L912.29,619.84 L913.46,619.84 L914.64,619.84 L915.82,619.84 L916.99,619.84 L918.17,619.84 L919.34,619.84 L920.52,619.85 L921.7,619.85 L922.87,619.85 L924.05,619.85 L925.22,619.85 L926.4,619.86 L927.58,619.86 L928.75,619.86 L929.93,619.87 L931.1,619.87 L932.28,619.87 L933.46,619.88 L934.63,619.88 L935.81,619.89 L936.99,619.89 L938.16,619.9 L939.34,619.91 L940.51,619.92 L941.69,619.93 L942.87,619.93 L944.04,619.95 L945.22,619.96 L946.39,619.97 L947.57,619.98 L948.75,620 L949.92,620.02 L951.1,620.03 L952.27,620.05 L953.45,620.08 L954.63,620.1 L955.8,620.12 L956.98,620.15 L958.15,620.18 L959.33,620.22 L960.51,620.25 L961.68,620.29 L962.86,620.33 L964.03,620.38 L965.21,620.43 L966.39,620.48 L967.56,620.54 L968.74,620.6 L969.91,620.67 L971.09,620.74 L972.27,620.82 L973.44,620.9 L974.62,620.99 L975.8,621.08 L976.97,621.18 L978.15,621.29 L979.32,621.4 L980.5,621.52 L981.68,621.65 L982.85,621.79 L984.03,621.93 L985.2,622.09 L986.38,622.25 L987.56,622.43 L988.73,622.62 L989.91,622.82 L991.08,623.04 L992.26,623.26 L993.44,623.5 L994.61,623.75 L995.79,624.02 L996.96,624.29 L998.14,624.56 L999.32,624.84 L1000.49,625.12 L1001.67,625.39 L1002.84,625.66 L1004.02,625.91 L1005.2,626.15 L1006.37,626.37 L1007.55,626.57 L1008.73,626.76 L1009.9,626.92 L1011.08,627.06 L1012.25,627.19 L1013.43,627.3 L1014.61,627.39 L1015.78,627.48 L1016.96,627.54 L1018.13,627.6 L1019.31,627.65 L1020.49,627.69 L1021.66,627.73 L1022.84,627.76 L1024.01,627.78" stroke="#C46019"/>
<path d="M882.89,739.09 L884.06,739.09 L885.24,739.09 L886.41,739.09 L887.59,739.09 L888.77,739.09 L889.94,739.09 L891.12,739.09 L892.29,739.09 L893.47,739.09 L894.65,739.09 L895.82,739.09 L897,739.09 L898.17,739.09 L899.35,739.09 L900.53,739.09 L901.7,739.09 L902.88,739.09 L904.06,739.09 L905.23,739.09 L906.41,739.09 L907.58,739.09 L908.76,739.09 L909.94,739.09 L911.11,739.09 L912.29,739.09 L913.46,739.09 L914.64,739.09 L915.82,739.09 L916.99,739.09 L918.17,739.09 L919.34,739.09 L920.52,739.09 L921.7,739.09 L922.87,739.09 L924.05,739.09 L925.22,739.09 L926.4,739.09 L927.58,739.09 L928.75,739.09 L929.93,739.09 L931.1,739.09 L932.28,739.09 L933.46,739.09 L934.63,739.09 L935.81,739.09 L936.99,739.09 L938.16,739.09 L939.34,739.09 L940.51,739.09 L941.69,739.08 L942.87,739.08 L944.04,739.08 L945.22,739.08 L946.39,739.07 L947.57,739.06 L948.75,739.04 L949.92,739.01 L951.1,738.96 L952.27,738.89 L953.45,738.76 L954.63,738.56 L955.8,738.23 L956.98,737.7 L958.15,736.83 L959.33,735.44 L960.51,733.27 L961.68,730.01 L962.86,725.38 L964.03,719.34 L965.21,712.25 L966.39,704.79 L967.56,697.68 L968.74,691.36 L969.91,686.01 L971.09,681.56 L972.27,677.92 L973.44,674.96 L974.62,672.59 L975.8,670.7 L976.97,669.23 L978.15,668.09 L979.32,667.22 L980.5,666.56 L981.68,666.06 L982.85,665.7 L984.03,665.42 L985.2,665.22 L986.38,665.07 L987.56,664.96 L988.73,664.88 L989.91,664.82 L991.08,664.78 L992.26,664.74 L993.44,664.72 L994.61,664.7 L995.79,664.69 L996.96,664.68 L998.14,664.68 L999.32,664.67 L1000.49,664.67 L1001.67,664.66 L1002.84,664.66 L1004.02,664.66 L1005.2,664.66 L1006.37,664.66 L1007.55,664.66 L1008.73,664.66 L1009.9,664.66 L1011.08,664.66 L1012.25,664.66 L1013.43,664.66 L1014.61,664.66 L1015.78,664.66 L1016.96,664.66 L1018.13,664.66 L1019.31,664.66 L1020.49,664.66 L1021.66,664.66 L1022.84,664.66 L1024.01,664.66" stroke="#A3C971"/>
<path d="M882.89,739.09 L884.06,739.09 L885.24,739.09 L886.41,739.09 L887.59,739.09 L888.77,739.09 L889.94,739.09 L891.12,739.09 L892.29,739.09 L893.47,739.09 L894.65,739.09 L895.82,739.09 L897,739.09 L898.17,739.09 L899.35,739.09 L900.53,739.09 L901.7,739.09 L902.88,739.09 L904.06,739.09 L905.23,739.09 L906.41,739.09 L907.58,739.09 L908.76,739.09 L909.94,739.09 L911.11,739.09 L912.29,739.09 L913.46,739.09 L914.64,739.09 L915.82,739.09 L916.99,739.09 L918.17,739.09 L919.34,739.09 L920.52,739.09 L921.7,739.09 L922.87,739.09 L924.05,739.09 L925.22,739.09 L926.4,739.09 L927.58,739.09 L928.75,739.09 L929.93,739.09 L931.1,739.09 L932.28,739.09 L933.46,739.09 L934.63,739.09 L935.81,739.09 L936.99,739.09 L938.16,739.09 L939.34,739.09 L940.51,739.09 L941.69,739.09 L942.87,739.09 L944.04,739.09 L945.22,739.09 L946.39,739.09 L947.57,739.08 L948.75,739.08 L949.92,739.08 L951.1,739.08 L952.27,739.08 L953.45,739.07 L954.63,739.07 L955.8,739.06 L956.98,739.05 L958.15,739.04 L959.33,739.02 L960.51,738.99 L961.68,738.94 L962.86,738.88 L964.03,738.8 L965.21,738.67 L966.39,738.5 L967.56,738.25 L968.74,737.91 L969.91,737.42 L971.09,736.73 L972.27,735.78 L973.44,734.47 L974.62,732.68 L975.8,730.29 L976.97,727.16 L978.15,723.18 L979.32,718.29 L980.5,712.56 L981.68,706.18 L982.85,699.49 L984.03,692.91 L985.2,686.84 L986.38,681.57 L987.56,677.24 L988.73,673.84 L989.91,671.25 L991.08,669.35 L992.26,667.96 L993.44,666.97 L994.61,666.27 L995.79,665.78 L996.96,665.44 L998.14,665.2 L999.32,665.03 L1000.49,664.92 L1001.67,664.84 L1002.84,664.78 L1004.02,664.74 L1005.2,664.72 L1006.37,664.7 L1007.55,664.69 L1008.73,664.68 L1009.9,664.67 L1011.08,664.67 L1012.25,664.66 L1013.43,664.66 L1014.61,664.66 L1015.78,664.66 L1016.96,664.66 L1018.13,664.66 L1019.31,664.66 L1020.49,664.66 L1021.66,664.66 L1022.84,664.66 L1024.01,664.66" stroke="#8DB962"/>
<path d="M882.89,739.09 L884.06,739.09 L885.24,739.09 L886.41,739.09 L887.59,739.09 L888.77,739.09 L889.94,739.09 L891.12,739.09 L892.29,739.09 L893.47,739.09 L894.65,739.09 L895.82,739.09 L897,739.09 L898.17,739.09 L899.35,739.09 L900.53,739.09 L901.7,739.09 L902.88,739.09 L904.06,739.09 L905.23,739.09 L906.41,739.09 L907.58,739.09 L908.76,739.09 L909.94,739.09 L911.11,739.09 L912.29,739.09 L913.46,739.09 L914.64,739.09 L915.82,739.09 L916.99,739.09 L918.17,739.09 L919.34,739.09 L920.52,739.09 L921.7,739.09 L922.87,739.09 L924.05,739.09 L925.22,739.09 L926.4,739.09 L927.58,739.09 L928.75,739.09 L929.93,739.09 L931.1,739.09 L932.28,739.09 L933.46,739.09 L934.63,739.09 L935.81,739.09 L936.99,739.09 L938.16,739.09 L939.34,739.09 L940.51,739.09 L941.69,739.09 L942.87,739.09 L944.04,739.09 L945.22,739.09 L946.39,739.09 L947.57,739.09 L948.75,739.09 L949.92,739.09 L951.1,739.09 L952.27,739.09 L953.45,739.09 L954.63,739.09 L955.8,739.09 L956.98,739.09 L958.15,739.09 L959.33,739.09 L960.51,739.09 L961.68,739.08 L962.86,739.08 L964.03,739.08 L965.21,739.08 L966.39,739.08 L967.56,739.07 L968.74,739.07 L969.91,739.06 L971.09,739.05 L972.27,739.04 L973.44,739.02 L974.62,739 L975.8,738.96 L976.97,738.91 L978.15,738.84 L979.32,738.74 L980.5,738.6 L981.68,738.41 L982.85,738.14 L984.03,737.77 L985.2,737.26 L986.38,736.56 L987.56,735.61 L988.73,734.32 L989.91,732.6 L991.08,730.35 L992.26,727.43 L993.44,723.75 L994.61,719.23 L995.79,713.86 L996.96,707.75 L998.14,701.15 L999.32,694.43 L1000.49,688.05 L1001.67,682.4 L1002.84,677.71 L1004.02,674.03 L1005.2,671.26 L1006.37,669.25 L1007.55,667.83 L1008.73,666.83 L1009.9,666.14 L1011.08,665.67 L1012.25,665.35 L1013.43,665.13 L1014.61,664.98 L1015.78,664.87 L1016.96,664.8 L1018.13,664.76 L1019.31,664.72 L1020.49,664.7 L1021.66,664.69 L1022.84,664.68 L1024.01,664.67" stroke="#77A448"/>
<path d="M882.89,739.09 L884.06,739.09 L885.24,739.09 L886.41,739.09 L887.59,739.09 L888.77,739.09 L889.94,739.09 L891.12,739.09 L892.29,739.09 L893.47,739.09 L894.65,739.09 L895.82,739.09 L897,739.09 L898.17,739.09 L899.35,739.09 L900.53,739.09 L901.7,739.09 L902.88,739.09 L904.06,739.09 L905.23,739.09 L906.41,739.09 L907.58,739.09 L908.76,739.09 L909.94,739.09 L911.11,739.09 L912.29,739.09 L913.46,739.09 L914.64,739.09 L915.82,739.09 L916.99,739.09 L918.17,739.09 L919.34,739.09 L920.52,739.09 L921.7,739.09 L922.87,739.09 L924.05,739.09 L925.22,739.09 L926.4,739.09 L927.58,739.09 L928.75,739.09 L929.93,739.09 L931.1,739.09 L932.28,739.09 L933.46,739.09 L934.63,739.09 L935.81,739.09 L936.99,739.09 L938.16,739.09 L939.34,739.09 L940.51,739.09 L941.69,739.09 L942.87,739.09 L944.04,739.09 L945.22,739.09 L946.39,739.09 L947.57,739.09 L948.75,739.09 L949.92,739.09 L951.1,739.09 L952.27,739.09 L953.45,739.09 L954.63,739.09 L955.8,739.09 L956.98,739.09 L958.15,739.09 L959.33,739.09 L960.51,739.09 L961.68,739.09 L962.86,739.09 L964.03,739.09 L965.21,739.09 L966.39,739.09 L967.56,739.09 L968.74,739.09 L969.91,739.09 L971.09,739.09 L972.27,739.09 L973.44,739.09 L974.62,739.09 L975.8,739.09 L976.97,739.09 L978.15,739.08 L979.32,739.08 L980.5,739.08 L981.68,739.08 L982.85,739.08 L984.03,739.08 L985.2,739.07 L986.38,739.06 L987.56,739.05 L988.73,739.04 L989.91,739.02 L991.08,738.99 L992.26,738.95 L993.44,738.89 L994.61,738.81 L995.79,738.68 L996.96,738.51 L998.14,738.26 L999.32,737.91 L1000.49,737.42 L1001.67,736.72 L1002.84,735.74 L1004.02,734.39 L1005.2,732.55 L1006.37,730.09 L1007.55,726.91 L1008.73,722.93 L1009.9,718.16 L1011.08,712.73 L1012.25,706.92 L1013.43,701.08 L1014.61,695.57 L1015.78,690.69 L1016.96,686.58 L1018.13,683.28 L1019.31,680.72 L1020.49,678.79 L1021.66,677.37 L1022.84,676.35 L1024.01,675.61" stroke="#67933C"/>
<path d="M882.89,739.09 L884.06,739.09 L885.24,739.09 L886.41,739.09 L887.59,739.09 L888.77,739.09 L889.94,739.09 L891.12,739.09 L892.29,739.09 L893.47,739.09 L894.65,739.09 L895.82,739.09 L897,739.09 L898.17,739.09 L899.35,739.09 L900.53,739.09 L901.7,739.09 L902.88,739.09 L904.06,739.09 L905.23,739.09 L906.41,739.09 L907.58,739.09 L908.76,739.09 L909.94,739.09 L911.11,739.09 L912.29,739.09 L913.46,739.09 L914.64,739.09 L915.82,739.09 L916.99,739.09 L918.17,739.09 L919.34,739.09 L920.52,739.09 L921.7,739.09 L922.87,739.09 L924.05,739.09 L925.22,739.09 L926.4,739.09 L927.58,739.09 L928.75,739.09 L929.93,739.09 L931.1,739.09 L932.28,739.09 L933.46,739.09 L934.63,739.09 L935.81,739.09 L936.99,739.09 L938.16,739.09 L939.34,739.09 L940.51,739.09 L941.69,739.09 L942.87,739.09 L944.04,739.09 L945.22,739.09 L946.39,739.09 L947.57,739.09 L948.75,739.09 L949.92,739.09 L951.1,739.09 L952.27,739.09 L953.45,739.09 L954.63,739.09 L955.8,739.09 L956.98,739.09 L958.15,739.09 L959.33,739.09 L960.51,739.09 L961.68,739.09 L962.86,739.09 L964.03,739.09 L965.21,739.09 L966.39,739.09 L967.56,739.09 L968.74,739.09 L969.91,739.09 L971.09,739.09 L972.27,739.09 L973.44,739.09 L974.62,739.09 L975.8,739.09 L976.97,739.09 L978.15,739.09 L979.32,739.09 L980.5,739.09 L981.68,739.09 L982.85,739.09 L984.03,739.09 L985.2,739.09 L986.38,739.09 L987.56,739.09 L988.73,739.09 L989.91,739.09 L991.08,739.09 L992.26,739.09 L993.44,739.09 L994.61,739.09 L995.79,739.09 L996.96,739.09 L998.14,739.09 L999.32,739.09 L1000.49,739.09 L1001.67,739.09 L1002.84,739.09 L1004.02,739.09 L1005.2,739.09 L1006.37,739.09 L1007.55,739.09 L1008.73,739.09 L1009.9,739.09 L1011.08,739.09 L1012.25,739.09 L1013.43,739.09 L1014.61,739.09 L1015.78,739.09 L1016.96,739.09 L1018.13,739.09 L1019.31,739.09 L1020.49,739.09 L1021.66,739.09 L1022.84,739.09 L1024.01,739.09" stroke="#4F7E28"/>
</g>
<rect x="885.6" y="614.3" width="135.7" height="136.1" fill="none" stroke="#979797" stroke-width="1.1"/>
<path d="M899.17,750.4V748.2M899.17,614.3V616.5M953.45,750.4V748.2M953.45,614.3V616.5M1007.73,750.4V748.2M1007.73,614.3V616.5M885.6,741.89H887.8M1021.3,741.89H1019.1M885.6,699.36H887.8M1021.3,699.36H1019.1M885.6,656.83H887.8M1021.3,656.83H1019.1M885.6,614.3H887.8M1021.3,614.3H1019.1" stroke="#777" stroke-width="0.9"/>
<g font-family="'Liberation Sans', sans-serif" font-size="16.8" fill="#222">
<text x="899.17" y="772.3" text-anchor="middle">-0.2</text>
<text x="953.45" y="772.3" text-anchor="middle">0</text>
<text x="1007.73" y="772.3" text-anchor="middle">0.2</text>
<text x="879.4" y="748.29" text-anchor="end">0</text>
<text x="879.4" y="705.76" text-anchor="end">0.5</text>
<text x="879.4" y="663.23" text-anchor="end">1</text>
<text x="879.4" y="620.7" text-anchor="end">1.5</text>
</g>
<ellipse cx="1148.4" cy="220.2" rx="25.8" ry="19.9" fill="url(#gA)" stroke="#8A4510" stroke-width="1.25"/>
<path d="M1142.05,210.85H1137.75V228.95H1142.05M1154.75,210.85H1159.05V228.95H1154.75" fill="none" stroke="#161616" stroke-width="1.5"/>
<text transform="translate(1148.7,224.8) scale(0.8,1)" text-anchor="middle" font-family="'Liberation Serif', serif" font-size="20.6" fill="#111" stroke="#111" stroke-width="0.45">A</text>
<ellipse cx="1280.4" cy="218.8" rx="25.8" ry="19.9" fill="url(#gP)" stroke="#3A7420" stroke-width="1.25"/>
<path d="M1274.05,209.45H1269.75V227.55H1274.05M1286.75,209.45H1291.05V227.55H1286.75" fill="none" stroke="#161616" stroke-width="1.5"/>
<text transform="translate(1280.7,223.4) scale(0.92,1)" text-anchor="middle" font-family="'Liberation Serif', serif" font-size="20.6" fill="#111" stroke="#111" stroke-width="0.45">P</text>
<path d="M1250.9,213.5L1179.5,213.5M1179.5,207.25L1179.5,219.75" fill="none" stroke="#2E4A8A" stroke-width="3.0"/>
<path d="M1179,225.6L1250.6,225.6M1250.6,229L1250.6,222.2" fill="none" stroke="#B07CC6" stroke-width="1.3"/>
<clipPath id="clip1153_296"><rect x="1153.9" y="296.2" width="135.4" height="136"/></clipPath>
<g clip-path="url(#clip1153_296)" fill="none" stroke-width="2.2" stroke-linejoin="round" stroke-linecap="butt">
<path d="M1151.19,339.24 L1152.37,339.28 L1153.54,339.34 L1154.71,339.39 L1155.89,339.45 L1157.06,339.52 L1158.23,339.59 L1159.41,339.67 L1160.58,339.75 L1161.75,339.84 L1162.93,339.94 L1164.1,340.05 L1165.27,340.17 L1166.45,340.3 L1167.62,340.44 L1168.79,340.59 L1169.97,340.75 L1171.14,340.93 L1172.31,341.12 L1173.49,341.33 L1174.66,341.55 L1175.83,341.8 L1177.01,342.06 L1178.18,342.35 L1179.36,342.66 L1180.53,342.99 L1181.7,343.35 L1182.88,343.74 L1184.05,344.16 L1185.22,344.61 L1186.4,345.09 L1187.57,345.61 L1188.74,346.17 L1189.92,346.77 L1191.09,347.41 L1192.26,348.1 L1193.44,348.83 L1194.61,349.62 L1195.78,350.45 L1196.96,351.34 L1198.13,352.28 L1199.3,353.28 L1200.48,354.33 L1201.65,355.44 L1202.82,356.62 L1204,357.85 L1205.17,359.14 L1206.34,360.48 L1207.52,361.89 L1208.69,363.35 L1209.87,364.86 L1211.04,366.43 L1212.21,368.04 L1213.39,369.69 L1214.56,371.38 L1215.73,373.11 L1216.91,374.86 L1218.08,376.63 L1219.25,378.43 L1220.43,380.23 L1221.6,382.03 L1222.77,383.84 L1223.95,385.63 L1225.12,387.41 L1226.29,389.16 L1227.47,390.89 L1228.64,392.58 L1229.81,394.24 L1230.99,395.85 L1232.16,397.42 L1233.33,398.94 L1234.51,400.4 L1235.68,401.81 L1236.86,403.16 L1238.03,404.46 L1239.2,405.69 L1240.38,406.87 L1241.55,407.99 L1242.72,409.04 L1243.9,410.05 L1245.07,410.99 L1246.24,411.88 L1247.42,412.72 L1248.59,413.51 L1249.76,414.25 L1250.94,414.94 L1252.11,415.58 L1253.28,416.19 L1254.46,416.75 L1255.63,417.27 L1256.8,417.76 L1257.98,418.21 L1259.15,418.63 L1260.32,419.02 L1261.5,419.38 L1262.67,419.72 L1263.84,420.03 L1265.02,420.32 L1266.19,420.58 L1267.37,420.83 L1268.54,421.05 L1269.71,421.26 L1270.89,421.46 L1272.06,421.63 L1273.23,421.8 L1274.41,421.95 L1275.58,422.09 L1276.75,422.22 L1277.93,422.34 L1279.1,422.45 L1280.27,422.55 L1281.45,422.64 L1282.62,422.73 L1283.79,422.8 L1284.97,422.88 L1286.14,422.94 L1287.31,423 L1288.49,423.06 L1289.66,423.11 L1290.83,423.16 L1292.01,423.2" stroke="#E7CB89"/>
<path d="M1151.19,423.16 L1152.37,423.12 L1153.54,423.06 L1154.71,423.01 L1155.89,422.95 L1157.06,422.88 L1158.23,422.81 L1159.41,422.73 L1160.58,422.65 L1161.75,422.56 L1162.93,422.46 L1164.1,422.35 L1165.27,422.23 L1166.45,422.1 L1167.62,421.96 L1168.79,421.81 L1169.97,421.65 L1171.14,421.47 L1172.31,421.28 L1173.49,421.07 L1174.66,420.85 L1175.83,420.6 L1177.01,420.34 L1178.18,420.05 L1179.36,419.74 L1180.53,419.41 L1181.7,419.05 L1182.88,418.66 L1184.05,418.24 L1185.22,417.79 L1186.4,417.31 L1187.57,416.79 L1188.74,416.23 L1189.92,415.63 L1191.09,414.99 L1192.26,414.3 L1193.44,413.57 L1194.61,412.78 L1195.78,411.95 L1196.96,411.06 L1198.13,410.12 L1199.3,409.12 L1200.48,408.07 L1201.65,406.96 L1202.82,405.78 L1204,404.55 L1205.17,403.26 L1206.34,401.92 L1207.52,400.51 L1208.69,399.05 L1209.87,397.54 L1211.04,395.97 L1212.21,394.36 L1213.39,392.71 L1214.56,391.02 L1215.73,389.29 L1216.91,387.54 L1218.08,385.77 L1219.25,383.97 L1220.43,382.17 L1221.6,380.37 L1222.77,378.56 L1223.95,376.77 L1225.12,374.99 L1226.29,373.24 L1227.47,371.51 L1228.64,369.82 L1229.81,368.16 L1230.99,366.55 L1232.16,364.98 L1233.33,363.46 L1234.51,362 L1235.68,360.59 L1236.86,359.24 L1238.03,357.94 L1239.2,356.71 L1240.38,355.53 L1241.55,354.41 L1242.72,353.36 L1243.9,352.35 L1245.07,351.41 L1246.24,350.52 L1247.42,349.68 L1248.59,348.89 L1249.76,348.15 L1250.94,347.46 L1252.11,346.82 L1253.28,346.21 L1254.46,345.65 L1255.63,345.13 L1256.8,344.64 L1257.98,344.19 L1259.15,343.77 L1260.32,343.38 L1261.5,343.02 L1262.67,342.68 L1263.84,342.37 L1265.02,342.08 L1266.19,341.82 L1267.37,341.57 L1268.54,341.35 L1269.71,341.14 L1270.89,340.94 L1272.06,340.77 L1273.23,340.6 L1274.41,340.45 L1275.58,340.31 L1276.75,340.18 L1277.93,340.06 L1279.1,339.95 L1280.27,339.85 L1281.45,339.76 L1282.62,339.67 L1283.79,339.6 L1284.97,339.52 L1286.14,339.46 L1287.31,339.4 L1288.49,339.34 L1289.66,339.29 L1290.83,339.24 L1292.01,339.2" stroke="#BAD684"/>
<path d="M1151.19,347.21 L1152.37,347.21 L1153.54,347.21 L1154.71,347.21 L1155.89,347.21 L1157.06,347.21 L1158.23,347.22 L1159.41,347.22 L1160.58,347.23 L1161.75,347.23 L1162.93,347.24 L1164.1,347.25 L1165.27,347.26 L1166.45,347.28 L1167.62,347.3 L1168.79,347.32 L1169.97,347.35 L1171.14,347.39 L1172.31,347.43 L1173.49,347.48 L1174.66,347.55 L1175.83,347.63 L1177.01,347.73 L1178.18,347.85 L1179.36,348 L1180.53,348.19 L1181.7,348.41 L1182.88,348.69 L1184.05,349.03 L1185.22,349.43 L1186.4,349.93 L1187.57,350.52 L1188.74,351.23 L1189.92,352.08 L1191.09,353.08 L1192.26,354.25 L1193.44,355.63 L1194.61,357.23 L1195.78,359.07 L1196.96,361.19 L1198.13,363.63 L1199.3,366.43 L1200.48,369.64 L1201.65,373.34 L1202.82,377.56 L1204,382.28 L1205.17,387.43 L1206.34,392.79 L1207.52,398.06 L1208.69,402.91 L1209.87,407.09 L1211.04,410.48 L1212.21,413.08 L1213.39,415 L1214.56,416.37 L1215.73,417.33 L1216.91,418 L1218.08,418.46 L1219.25,418.77 L1220.43,418.99 L1221.6,419.13 L1222.77,419.23 L1223.95,419.3 L1225.12,419.35 L1226.29,419.38 L1227.47,419.4 L1228.64,419.42 L1229.81,419.43 L1230.99,419.43 L1232.16,419.44 L1233.33,419.44 L1234.51,419.44 L1235.68,419.45 L1236.86,419.45 L1238.03,419.45 L1239.2,419.45 L1240.38,419.45 L1241.55,419.45 L1242.72,419.45 L1243.9,419.45 L1245.07,419.45 L1246.24,419.45 L1247.42,419.45 L1248.59,419.45 L1249.76,419.45 L1250.94,419.45 L1252.11,419.45 L1253.28,419.45 L1254.46,419.45 L1255.63,419.45 L1256.8,419.45 L1257.98,419.45 L1259.15,419.45 L1260.32,419.45 L1261.5,419.45 L1262.67,419.45 L1263.84,419.45 L1265.02,419.45 L1266.19,419.45 L1267.37,419.45 L1268.54,419.45 L1269.71,419.45 L1270.89,419.45 L1272.06,419.45 L1273.23,419.45 L1274.41,419.45 L1275.58,419.45 L1276.75,419.45 L1277.93,419.45 L1279.1,419.45 L1280.27,419.45 L1281.45,419.45 L1282.62,419.45 L1283.79,419.45 L1284.97,419.45 L1286.14,419.45 L1287.31,419.45 L1288.49,419.45 L1289.66,419.45 L1290.83,419.45 L1292.01,419.45" stroke="#E3B873"/>
<path d="M1151.19,348.74 L1152.37,348.77 L1153.54,348.8 L1154.71,348.84 L1155.89,348.89 L1157.06,348.96 L1158.23,349.04 L1159.41,349.15 L1160.58,349.28 L1161.75,349.45 L1162.93,349.66 L1164.1,349.92 L1165.27,350.25 L1166.45,350.66 L1167.62,351.17 L1168.79,351.8 L1169.97,352.57 L1171.14,353.51 L1172.31,354.66 L1173.49,356.04 L1174.66,357.69 L1175.83,359.65 L1177.01,361.96 L1178.18,364.66 L1179.36,367.79 L1180.53,371.38 L1181.7,375.45 L1182.88,379.99 L1184.05,384.9 L1185.22,390.03 L1186.4,395.13 L1187.57,399.96 L1188.74,404.27 L1189.92,407.92 L1191.09,410.87 L1192.26,413.17 L1193.44,414.9 L1194.61,416.19 L1195.78,417.12 L1196.96,417.79 L1198.13,418.27 L1199.3,418.61 L1200.48,418.85 L1201.65,419.03 L1202.82,419.15 L1204,419.24 L1205.17,419.3 L1206.34,419.34 L1207.52,419.37 L1208.69,419.4 L1209.87,419.41 L1211.04,419.42 L1212.21,419.43 L1213.39,419.44 L1214.56,419.44 L1215.73,419.44 L1216.91,419.44 L1218.08,419.45 L1219.25,419.45 L1220.43,419.45 L1221.6,419.45 L1222.77,419.45 L1223.95,419.45 L1225.12,419.45 L1226.29,419.45 L1227.47,419.45 L1228.64,419.45 L1229.81,419.45 L1230.99,419.45 L1232.16,419.45 L1233.33,419.45 L1234.51,419.45 L1235.68,419.45 L1236.86,419.45 L1238.03,419.45 L1239.2,419.45 L1240.38,419.45 L1241.55,419.45 L1242.72,419.45 L1243.9,419.45 L1245.07,419.45 L1246.24,419.45 L1247.42,419.45 L1248.59,419.45 L1249.76,419.45 L1250.94,419.45 L1252.11,419.45 L1253.28,419.45 L1254.46,419.45 L1255.63,419.45 L1256.8,419.45 L1257.98,419.45 L1259.15,419.45 L1260.32,419.45 L1261.5,419.45 L1262.67,419.45 L1263.84,419.45 L1265.02,419.45 L1266.19,419.45 L1267.37,419.45 L1268.54,419.45 L1269.71,419.45 L1270.89,419.45 L1272.06,419.45 L1273.23,419.45 L1274.41,419.45 L1275.58,419.45 L1276.75,419.45 L1277.93,419.45 L1279.1,419.45 L1280.27,419.45 L1281.45,419.45 L1282.62,419.45 L1283.79,419.45 L1284.97,419.45 L1286.14,419.45 L1287.31,419.45 L1288.49,419.45 L1289.66,419.45 L1290.83,419.45 L1292.01,419.45" stroke="#E0A24A"/>
<path d="M1151.19,354.69 L1152.37,354.86 L1153.54,355.1 L1154.71,355.43 L1155.89,355.88 L1157.06,356.5 L1158.23,357.36 L1159.41,358.51 L1160.58,360.05 L1161.75,362.07 L1162.93,364.68 L1164.1,367.97 L1165.27,371.97 L1166.45,376.66 L1167.62,381.92 L1168.79,387.5 L1169.97,393.11 L1171.14,398.41 L1172.31,403.12 L1173.49,407.09 L1174.66,410.29 L1175.83,412.77 L1177.01,414.64 L1178.18,416.01 L1179.36,417.01 L1180.53,417.73 L1181.7,418.24 L1182.88,418.6 L1184.05,418.85 L1185.22,419.03 L1186.4,419.16 L1187.57,419.24 L1188.74,419.31 L1189.92,419.35 L1191.09,419.38 L1192.26,419.4 L1193.44,419.42 L1194.61,419.43 L1195.78,419.43 L1196.96,419.44 L1198.13,419.44 L1199.3,419.44 L1200.48,419.45 L1201.65,419.45 L1202.82,419.45 L1204,419.45 L1205.17,419.45 L1206.34,419.45 L1207.52,419.45 L1208.69,419.45 L1209.87,419.45 L1211.04,419.45 L1212.21,419.45 L1213.39,419.45 L1214.56,419.45 L1215.73,419.45 L1216.91,419.45 L1218.08,419.45 L1219.25,419.45 L1220.43,419.45 L1221.6,419.45 L1222.77,419.45 L1223.95,419.45 L1225.12,419.45 L1226.29,419.45 L1227.47,419.45 L1228.64,419.45 L1229.81,419.45 L1230.99,419.45 L1232.16,419.45 L1233.33,419.45 L1234.51,419.45 L1235.68,419.45 L1236.86,419.45 L1238.03,419.45 L1239.2,419.45 L1240.38,419.45 L1241.55,419.45 L1242.72,419.45 L1243.9,419.45 L1245.07,419.45 L1246.24,419.45 L1247.42,419.45 L1248.59,419.45 L1249.76,419.45 L1250.94,419.45 L1252.11,419.45 L1253.28,419.45 L1254.46,419.45 L1255.63,419.45 L1256.8,419.45 L1257.98,419.45 L1259.15,419.45 L1260.32,419.45 L1261.5,419.45 L1262.67,419.45 L1263.84,419.45 L1265.02,419.45 L1266.19,419.45 L1267.37,419.45 L1268.54,419.45 L1269.71,419.45 L1270.89,419.45 L1272.06,419.45 L1273.23,419.45 L1274.41,419.45 L1275.58,419.45 L1276.75,419.45 L1277.93,419.45 L1279.1,419.45 L1280.27,419.45 L1281.45,419.45 L1282.62,419.45 L1283.79,419.45 L1284.97,419.45 L1286.14,419.45 L1287.31,419.45 L1288.49,419.45 L1289.66,419.45 L1290.83,419.45 L1292.01,419.45" stroke="#DB8E3D"/>
<path d="M1151.19,419.45 L1152.37,419.45 L1153.54,419.45 L1154.71,419.45 L1155.89,419.45 L1157.06,419.45 L1158.23,419.45 L1159.41,419.45 L1160.58,419.45 L1161.75,419.45 L1162.93,419.45 L1164.1,419.45 L1165.27,419.45 L1166.45,419.45 L1167.62,419.45 L1168.79,419.45 L1169.97,419.45 L1171.14,419.45 L1172.31,419.45 L1173.49,419.45 L1174.66,419.45 L1175.83,419.45 L1177.01,419.45 L1178.18,419.45 L1179.36,419.45 L1180.53,419.45 L1181.7,419.45 L1182.88,419.45 L1184.05,419.45 L1185.22,419.45 L1186.4,419.45 L1187.57,419.45 L1188.74,419.45 L1189.92,419.45 L1191.09,419.45 L1192.26,419.45 L1193.44,419.45 L1194.61,419.45 L1195.78,419.45 L1196.96,419.45 L1198.13,419.45 L1199.3,419.45 L1200.48,419.45 L1201.65,419.45 L1202.82,419.45 L1204,419.45 L1205.17,419.45 L1206.34,419.45 L1207.52,419.45 L1208.69,419.45 L1209.87,419.45 L1211.04,419.45 L1212.21,419.45 L1213.39,419.45 L1214.56,419.45 L1215.73,419.45 L1216.91,419.45 L1218.08,419.45 L1219.25,419.45 L1220.43,419.45 L1221.6,419.45 L1222.77,419.45 L1223.95,419.45 L1225.12,419.45 L1226.29,419.45 L1227.47,419.45 L1228.64,419.45 L1229.81,419.45 L1230.99,419.45 L1232.16,419.45 L1233.33,419.45 L1234.51,419.45 L1235.68,419.45 L1236.86,419.45 L1238.03,419.45 L1239.2,419.45 L1240.38,419.45 L1241.55,419.45 L1242.72,419.45 L1243.9,419.45 L1245.07,419.45 L1246.24,419.45 L1247.42,419.45 L1248.59,419.45 L1249.76,419.45 L1250.94,419.45 L1252.11,419.45 L1253.28,419.45 L1254.46,419.45 L1255.63,419.45 L1256.8,419.45 L1257.98,419.45 L1259.15,419.45 L1260.32,419.45 L1261.5,419.45 L1262.67,419.45 L1263.84,419.45 L1265.02,419.45 L1266.19,419.45 L1267.37,419.45 L1268.54,419.45 L1269.71,419.45 L1270.89,419.45 L1272.06,419.45 L1273.23,419.45 L1274.41,419.45 L1275.58,419.45 L1276.75,419.45 L1277.93,419.45 L1279.1,419.45 L1280.27,419.45 L1281.45,419.45 L1282.62,419.45 L1283.79,419.45 L1284.97,419.45 L1286.14,419.45 L1287.31,419.45 L1288.49,419.45 L1289.66,419.45 L1290.83,419.45 L1292.01,419.45" stroke="#D2782C"/>
<path d="M1151.19,419.45 L1152.37,419.45 L1153.54,419.45 L1154.71,419.45 L1155.89,419.45 L1157.06,419.45 L1158.23,419.45 L1159.41,419.45 L1160.58,419.45 L1161.75,419.45 L1162.93,419.45 L1164.1,419.45 L1165.27,419.45 L1166.45,419.45 L1167.62,419.45 L1168.79,419.45 L1169.97,419.45 L1171.14,419.45 L1172.31,419.45 L1173.49,419.45 L1174.66,419.45 L1175.83,419.45 L1177.01,419.45 L1178.18,419.45 L1179.36,419.45 L1180.53,419.45 L1181.7,419.45 L1182.88,419.45 L1184.05,419.45 L1185.22,419.45 L1186.4,419.45 L1187.57,419.45 L1188.74,419.45 L1189.92,419.45 L1191.09,419.45 L1192.26,419.45 L1193.44,419.45 L1194.61,419.45 L1195.78,419.45 L1196.96,419.45 L1198.13,419.45 L1199.3,419.45 L1200.48,419.45 L1201.65,419.45 L1202.82,419.45 L1204,419.45 L1205.17,419.45 L1206.34,419.45 L1207.52,419.45 L1208.69,419.45 L1209.87,419.45 L1211.04,419.45 L1212.21,419.45 L1213.39,419.45 L1214.56,419.45 L1215.73,419.45 L1216.91,419.45 L1218.08,419.45 L1219.25,419.45 L1220.43,419.45 L1221.6,419.45 L1222.77,419.45 L1223.95,419.45 L1225.12,419.45 L1226.29,419.45 L1227.47,419.45 L1228.64,419.45 L1229.81,419.45 L1230.99,419.45 L1232.16,419.45 L1233.33,419.45 L1234.51,419.45 L1235.68,419.45 L1236.86,419.45 L1238.03,419.45 L1239.2,419.45 L1240.38,419.45 L1241.55,419.45 L1242.72,419.45 L1243.9,419.45 L1245.07,419.45 L1246.24,419.45 L1247.42,419.45 L1248.59,419.45 L1249.76,419.45 L1250.94,419.45 L1252.11,419.45 L1253.28,419.45 L1254.46,419.45 L1255.63,419.45 L1256.8,419.45 L1257.98,419.45 L1259.15,419.45 L1260.32,419.45 L1261.5,419.45 L1262.67,419.45 L1263.84,419.45 L1265.02,419.45 L1266.19,419.45 L1267.37,419.45 L1268.54,419.45 L1269.71,419.45 L1270.89,419.45 L1272.06,419.45 L1273.23,419.45 L1274.41,419.45 L1275.58,419.45 L1276.75,419.45 L1277.93,419.45 L1279.1,419.45 L1280.27,419.45 L1281.45,419.45 L1282.62,419.45 L1283.79,419.45 L1284.97,419.45 L1286.14,419.45 L1287.31,419.45 L1288.49,419.45 L1289.66,419.45 L1290.83,419.45 L1292.01,419.45" stroke="#C46019"/>
<path d="M1151.19,420.3 L1152.37,420.3 L1153.54,420.3 L1154.71,420.3 L1155.89,420.3 L1157.06,420.3 L1158.23,420.3 L1159.41,420.3 L1160.58,420.3 L1161.75,420.3 L1162.93,420.3 L1164.1,420.3 L1165.27,420.3 L1166.45,420.3 L1167.62,420.3 L1168.79,420.3 L1169.97,420.3 L1171.14,420.29 L1172.31,420.29 L1173.49,420.29 L1174.66,420.29 L1175.83,420.28 L1177.01,420.27 L1178.18,420.26 L1179.36,420.25 L1180.53,420.23 L1181.7,420.2 L1182.88,420.17 L1184.05,420.12 L1185.22,420.06 L1186.4,419.97 L1187.57,419.84 L1188.74,419.68 L1189.92,419.45 L1191.09,419.15 L1192.26,418.73 L1193.44,418.18 L1194.61,417.43 L1195.78,416.44 L1196.96,415.13 L1198.13,413.41 L1199.3,411.2 L1200.48,408.39 L1201.65,404.89 L1202.82,400.64 L1204,395.61 L1205.17,389.87 L1206.34,383.6 L1207.52,377.05 L1208.69,370.6 L1209.87,364.58 L1211.04,359.27 L1212.21,354.84 L1213.39,351.28 L1214.56,348.53 L1215.73,346.47 L1216.91,344.94 L1218.08,343.83 L1219.25,343.04 L1220.43,342.47 L1221.6,342.06 L1222.77,341.77 L1223.95,341.57 L1225.12,341.42 L1226.29,341.32 L1227.47,341.25 L1228.64,341.2 L1229.81,341.17 L1230.99,341.14 L1232.16,341.12 L1233.33,341.11 L1234.51,341.1 L1235.68,341.09 L1236.86,341.09 L1238.03,341.09 L1239.2,341.09 L1240.38,341.08 L1241.55,341.08 L1242.72,341.08 L1243.9,341.08 L1245.07,341.08 L1246.24,341.08 L1247.42,341.08 L1248.59,341.08 L1249.76,341.08 L1250.94,341.08 L1252.11,341.08 L1253.28,341.08 L1254.46,341.08 L1255.63,341.08 L1256.8,341.08 L1257.98,341.08 L1259.15,341.08 L1260.32,341.08 L1261.5,341.08 L1262.67,341.08 L1263.84,341.08 L1265.02,341.08 L1266.19,341.08 L1267.37,341.08 L1268.54,341.08 L1269.71,341.08 L1270.89,341.08 L1272.06,341.08 L1273.23,341.08 L1274.41,341.08 L1275.58,341.08 L1276.75,341.08 L1277.93,341.08 L1279.1,341.08 L1280.27,341.08 L1281.45,341.08 L1282.62,341.08 L1283.79,341.08 L1284.97,341.08 L1286.14,341.08 L1287.31,341.08 L1288.49,341.08 L1289.66,341.08 L1290.83,341.08 L1292.01,341.08" stroke="#A3C971"/>
<path d="M1151.19,420.3 L1152.37,420.3 L1153.54,420.3 L1154.71,420.3 L1155.89,420.3 L1157.06,420.29 L1158.23,420.29 L1159.41,420.29 L1160.58,420.29 L1161.75,420.28 L1162.93,420.27 L1164.1,420.26 L1165.27,420.25 L1166.45,420.23 L1167.62,420.2 L1168.79,420.16 L1169.97,420.1 L1171.14,420.02 L1172.31,419.92 L1173.49,419.77 L1174.66,419.56 L1175.83,419.28 L1177.01,418.88 L1178.18,418.34 L1179.36,417.6 L1180.53,416.58 L1181.7,415.19 L1182.88,413.35 L1184.05,410.93 L1185.22,407.83 L1186.4,404 L1187.57,399.44 L1188.74,394.25 L1189.92,388.65 L1191.09,382.89 L1192.26,377.24 L1193.44,371.92 L1194.61,367.07 L1195.78,362.75 L1196.96,358.99 L1198.13,355.76 L1199.3,353.03 L1200.48,350.73 L1201.65,348.83 L1202.82,347.27 L1204,346 L1205.17,344.98 L1206.34,344.15 L1207.52,343.5 L1208.69,342.98 L1209.87,342.56 L1211.04,342.24 L1212.21,341.99 L1213.39,341.79 L1214.56,341.63 L1215.73,341.51 L1216.91,341.41 L1218.08,341.34 L1219.25,341.28 L1220.43,341.24 L1221.6,341.2 L1222.77,341.17 L1223.95,341.15 L1225.12,341.14 L1226.29,341.12 L1227.47,341.11 L1228.64,341.11 L1229.81,341.1 L1230.99,341.1 L1232.16,341.09 L1233.33,341.09 L1234.51,341.09 L1235.68,341.09 L1236.86,341.08 L1238.03,341.08 L1239.2,341.08 L1240.38,341.08 L1241.55,341.08 L1242.72,341.08 L1243.9,341.08 L1245.07,341.08 L1246.24,341.08 L1247.42,341.08 L1248.59,341.08 L1249.76,341.08 L1250.94,341.08 L1252.11,341.08 L1253.28,341.08 L1254.46,341.08 L1255.63,341.08 L1256.8,341.08 L1257.98,341.08 L1259.15,341.08 L1260.32,341.08 L1261.5,341.08 L1262.67,341.08 L1263.84,341.08 L1265.02,341.08 L1266.19,341.08 L1267.37,341.08 L1268.54,341.08 L1269.71,341.08 L1270.89,341.08 L1272.06,341.08 L1273.23,341.08 L1274.41,341.08 L1275.58,341.08 L1276.75,341.08 L1277.93,341.08 L1279.1,341.08 L1280.27,341.08 L1281.45,341.08 L1282.62,341.08 L1283.79,341.08 L1284.97,341.08 L1286.14,341.08 L1287.31,341.08 L1288.49,341.08 L1289.66,341.08 L1290.83,341.08 L1292.01,341.08" stroke="#8DB962"/>
<path d="M1151.19,419.83 L1152.37,419.69 L1153.54,419.5 L1154.71,419.24 L1155.89,418.91 L1157.06,418.48 L1158.23,417.93 L1159.41,417.2 L1160.58,416.26 L1161.75,415.06 L1162.93,413.53 L1164.1,411.61 L1165.27,409.23 L1166.45,406.34 L1167.62,402.91 L1168.79,398.94 L1169.97,394.48 L1171.14,389.65 L1172.31,384.59 L1173.49,379.47 L1174.66,374.47 L1175.83,369.74 L1177.01,365.37 L1178.18,361.44 L1179.36,357.98 L1180.53,354.98 L1181.7,352.43 L1182.88,350.29 L1184.05,348.51 L1185.22,347.04 L1186.4,345.84 L1187.57,344.87 L1188.74,344.09 L1189.92,343.47 L1191.09,342.97 L1192.26,342.57 L1193.44,342.25 L1194.61,342 L1195.78,341.81 L1196.96,341.65 L1198.13,341.53 L1199.3,341.43 L1200.48,341.36 L1201.65,341.3 L1202.82,341.25 L1204,341.21 L1205.17,341.19 L1206.34,341.16 L1207.52,341.14 L1208.69,341.13 L1209.87,341.12 L1211.04,341.11 L1212.21,341.1 L1213.39,341.1 L1214.56,341.1 L1215.73,341.09 L1216.91,341.09 L1218.08,341.09 L1219.25,341.09 L1220.43,341.08 L1221.6,341.08 L1222.77,341.08 L1223.95,341.08 L1225.12,341.08 L1226.29,341.08 L1227.47,341.08 L1228.64,341.08 L1229.81,341.08 L1230.99,341.08 L1232.16,341.08 L1233.33,341.08 L1234.51,341.08 L1235.68,341.08 L1236.86,341.08 L1238.03,341.08 L1239.2,341.08 L1240.38,341.08 L1241.55,341.08 L1242.72,341.08 L1243.9,341.08 L1245.07,341.08 L1246.24,341.08 L1247.42,341.08 L1248.59,341.08 L1249.76,341.08 L1250.94,341.08 L1252.11,341.08 L1253.28,341.08 L1254.46,341.08 L1255.63,341.08 L1256.8,341.08 L1257.98,341.08 L1259.15,341.08 L1260.32,341.08 L1261.5,341.08 L1262.67,341.08 L1263.84,341.08 L1265.02,341.08 L1266.19,341.08 L1267.37,341.08 L1268.54,341.08 L1269.71,341.08 L1270.89,341.08 L1272.06,341.08 L1273.23,341.08 L1274.41,341.08 L1275.58,341.08 L1276.75,341.08 L1277.93,341.08 L1279.1,341.08 L1280.27,341.08 L1281.45,341.08 L1282.62,341.08 L1283.79,341.08 L1284.97,341.08 L1286.14,341.08 L1287.31,341.08 L1288.49,341.08 L1289.66,341.08 L1290.83,341.08 L1292.01,341.08" stroke="#77A448"/>
<path d="M1151.19,350.71 L1152.37,350.52 L1153.54,350.32 L1154.71,350.1 L1155.89,349.86 L1157.06,349.61 L1158.23,349.33 L1159.41,349.03 L1160.58,348.7 L1161.75,348.33 L1162.93,347.93 L1164.1,347.5 L1165.27,347.04 L1166.45,346.54 L1167.62,346.02 L1168.79,345.49 L1169.97,344.96 L1171.14,344.44 L1172.31,343.95 L1173.49,343.49 L1174.66,343.08 L1175.83,342.72 L1177.01,342.4 L1178.18,342.14 L1179.36,341.92 L1180.53,341.74 L1181.7,341.6 L1182.88,341.48 L1184.05,341.39 L1185.22,341.32 L1186.4,341.27 L1187.57,341.23 L1188.74,341.19 L1189.92,341.17 L1191.09,341.15 L1192.26,341.13 L1193.44,341.12 L1194.61,341.11 L1195.78,341.1 L1196.96,341.1 L1198.13,341.1 L1199.3,341.09 L1200.48,341.09 L1201.65,341.09 L1202.82,341.09 L1204,341.08 L1205.17,341.08 L1206.34,341.08 L1207.52,341.08 L1208.69,341.08 L1209.87,341.08 L1211.04,341.08 L1212.21,341.08 L1213.39,341.08 L1214.56,341.08 L1215.73,341.08 L1216.91,341.08 L1218.08,341.08 L1219.25,341.08 L1220.43,341.08 L1221.6,341.08 L1222.77,341.08 L1223.95,341.08 L1225.12,341.08 L1226.29,341.08 L1227.47,341.08 L1228.64,341.08 L1229.81,341.08 L1230.99,341.08 L1232.16,341.08 L1233.33,341.08 L1234.51,341.08 L1235.68,341.08 L1236.86,341.08 L1238.03,341.08 L1239.2,341.08 L1240.38,341.08 L1241.55,341.08 L1242.72,341.08 L1243.9,341.08 L1245.07,341.08 L1246.24,341.08 L1247.42,341.08 L1248.59,341.08 L1249.76,341.08 L1250.94,341.08 L1252.11,341.08 L1253.28,341.08 L1254.46,341.08 L1255.63,341.08 L1256.8,341.08 L1257.98,341.08 L1259.15,341.08 L1260.32,341.08 L1261.5,341.08 L1262.67,341.08 L1263.84,341.08 L1265.02,341.08 L1266.19,341.08 L1267.37,341.08 L1268.54,341.08 L1269.71,341.08 L1270.89,341.08 L1272.06,341.08 L1273.23,341.08 L1274.41,341.08 L1275.58,341.08 L1276.75,341.08 L1277.93,341.08 L1279.1,341.08 L1280.27,341.08 L1281.45,341.08 L1282.62,341.08 L1283.79,341.08 L1284.97,341.08 L1286.14,341.08 L1287.31,341.08 L1288.49,341.08 L1289.66,341.08 L1290.83,341.08 L1292.01,341.08" stroke="#67933C"/>
<path d="M1151.19,340.65 L1152.37,340.65 L1153.54,340.65 L1154.71,340.65 L1155.89,340.65 L1157.06,340.65 L1158.23,340.65 L1159.41,340.65 L1160.58,340.65 L1161.75,340.65 L1162.93,340.65 L1164.1,340.65 L1165.27,340.65 L1166.45,340.65 L1167.62,340.65 L1168.79,340.65 L1169.97,340.65 L1171.14,340.65 L1172.31,340.65 L1173.49,340.65 L1174.66,340.65 L1175.83,340.65 L1177.01,340.65 L1178.18,340.65 L1179.36,340.65 L1180.53,340.65 L1181.7,340.65 L1182.88,340.65 L1184.05,340.65 L1185.22,340.65 L1186.4,340.65 L1187.57,340.65 L1188.74,340.65 L1189.92,340.65 L1191.09,340.65 L1192.26,340.65 L1193.44,340.65 L1194.61,340.65 L1195.78,340.65 L1196.96,340.65 L1198.13,340.65 L1199.3,340.65 L1200.48,340.65 L1201.65,340.65 L1202.82,340.65 L1204,340.65 L1205.17,340.65 L1206.34,340.65 L1207.52,340.65 L1208.69,340.65 L1209.87,340.65 L1211.04,340.65 L1212.21,340.65 L1213.39,340.65 L1214.56,340.65 L1215.73,340.65 L1216.91,340.65 L1218.08,340.65 L1219.25,340.65 L1220.43,340.65 L1221.6,340.65 L1222.77,340.65 L1223.95,340.65 L1225.12,340.65 L1226.29,340.65 L1227.47,340.65 L1228.64,340.65 L1229.81,340.65 L1230.99,340.65 L1232.16,340.65 L1233.33,340.65 L1234.51,340.65 L1235.68,340.65 L1236.86,340.65 L1238.03,340.65 L1239.2,340.65 L1240.38,340.65 L1241.55,340.65 L1242.72,340.65 L1243.9,340.65 L1245.07,340.65 L1246.24,340.65 L1247.42,340.65 L1248.59,340.65 L1249.76,340.65 L1250.94,340.65 L1252.11,340.65 L1253.28,340.65 L1254.46,340.65 L1255.63,340.65 L1256.8,340.65 L1257.98,340.65 L1259.15,340.65 L1260.32,340.65 L1261.5,340.65 L1262.67,340.65 L1263.84,340.65 L1265.02,340.65 L1266.19,340.65 L1267.37,340.65 L1268.54,340.65 L1269.71,340.65 L1270.89,340.65 L1272.06,340.65 L1273.23,340.65 L1274.41,340.65 L1275.58,340.65 L1276.75,340.65 L1277.93,340.65 L1279.1,340.65 L1280.27,340.65 L1281.45,340.65 L1282.62,340.65 L1283.79,340.65 L1284.97,340.65 L1286.14,340.65 L1287.31,340.65 L1288.49,340.65 L1289.66,340.65 L1290.83,340.65 L1292.01,340.65" stroke="#4F7E28"/>
</g>
<rect x="1153.9" y="296.2" width="135.4" height="136" fill="none" stroke="#979797" stroke-width="1.1"/>
<path d="M1167.44,432.2V430M1167.44,296.2V298.4M1221.6,432.2V430M1221.6,296.2V298.4M1275.76,432.2V430M1275.76,296.2V298.4M1153.9,423.7H1156.1M1289.3,423.7H1287.1M1153.9,381.2H1156.1M1289.3,381.2H1287.1M1153.9,338.7H1156.1M1289.3,338.7H1287.1M1153.9,296.2H1156.1M1289.3,296.2H1287.1" stroke="#777" stroke-width="0.9"/>
<g font-family="'Liberation Sans', sans-serif" font-size="16.8" fill="#222">
<text x="1167.44" y="454.1" text-anchor="middle">-0.2</text>
<text x="1221.6" y="454.1" text-anchor="middle">0</text>
<text x="1275.76" y="454.1" text-anchor="middle">0.2</text>
<text x="1147.7" y="430.1" text-anchor="end">0</text>
<text x="1147.7" y="387.6" text-anchor="end">0.5</text>
<text x="1147.7" y="345.1" text-anchor="end">1</text>
<text x="1147.7" y="302.6" text-anchor="end">1.5</text>
</g>
<ellipse cx="1144.8" cy="533.4" rx="41.6" ry="32" fill="url(#gA)" stroke="#8A4510" stroke-width="1.7"/>
<path d="M1133.8,517.2H1126.34V548.56H1133.8M1155.8,517.2H1163.26V548.56H1155.8" fill="none" stroke="#161616" stroke-width="2.6"/>
<text transform="translate(1145.32,541.37) scale(0.8,1)" text-anchor="middle" font-family="'Liberation Serif', serif" font-size="35.7" fill="#111" stroke="#111" stroke-width="0.78">A</text>
<ellipse cx="1295.2" cy="532" rx="25.8" ry="19.9" fill="url(#gP)" stroke="#3A7420" stroke-width="1.25"/>
<path d="M1288.85,522.65H1284.55V540.75H1288.85M1301.55,522.65H1305.85V540.75H1301.55" fill="none" stroke="#161616" stroke-width="1.5"/>
<text transform="translate(1295.5,536.6) scale(0.92,1)" text-anchor="middle" font-family="'Liberation Serif', serif" font-size="20.6" fill="#111" stroke="#111" stroke-width="0.45">P</text>
<path d="M1193.9,526.4L1265.8,526.4M1265.8,530.15L1265.8,522.65" fill="none" stroke="#262626" stroke-width="1.4"/>
<path d="M1265.8,535.4L1193.4,535.4M1193.4,531.65L1193.4,539.15" fill="none" stroke="#262626" stroke-width="1.4"/>
<clipPath id="clip1153_614"><rect x="1153.1" y="614.3" width="135.3" height="136.1"/></clipPath>
<g clip-path="url(#clip1153_614)" fill="none" stroke-width="2.2" stroke-linejoin="round" stroke-linecap="butt">
<path d="M1150.39,657.37 L1151.57,657.42 L1152.74,657.47 L1153.91,657.52 L1155.08,657.58 L1156.26,657.65 L1157.43,657.72 L1158.6,657.8 L1159.77,657.88 L1160.95,657.98 L1162.12,658.08 L1163.29,658.19 L1164.47,658.3 L1165.64,658.43 L1166.81,658.57 L1167.98,658.72 L1169.16,658.88 L1170.33,659.06 L1171.5,659.25 L1172.67,659.46 L1173.85,659.69 L1175.02,659.93 L1176.19,660.2 L1177.36,660.48 L1178.54,660.79 L1179.71,661.12 L1180.88,661.48 L1182.05,661.87 L1183.23,662.29 L1184.4,662.74 L1185.57,663.23 L1186.74,663.75 L1187.92,664.31 L1189.09,664.91 L1190.26,665.55 L1191.43,666.24 L1192.61,666.97 L1193.78,667.75 L1194.95,668.59 L1196.13,669.48 L1197.3,670.42 L1198.47,671.42 L1199.64,672.47 L1200.82,673.59 L1201.99,674.76 L1203.16,675.99 L1204.33,677.28 L1205.51,678.63 L1206.68,680.04 L1207.85,681.5 L1209.02,683.01 L1210.2,684.58 L1211.37,686.19 L1212.54,687.84 L1213.71,689.54 L1214.89,691.26 L1216.06,693.02 L1217.23,694.79 L1218.4,696.59 L1219.58,698.39 L1220.75,700.2 L1221.92,702 L1223.1,703.79 L1224.27,705.57 L1225.44,707.33 L1226.61,709.06 L1227.79,710.75 L1228.96,712.41 L1230.13,714.03 L1231.3,715.59 L1232.48,717.11 L1233.65,718.58 L1234.82,719.99 L1235.99,721.34 L1237.17,722.64 L1238.34,723.87 L1239.51,725.05 L1240.68,726.17 L1241.86,727.23 L1243.03,728.23 L1244.2,729.18 L1245.37,730.07 L1246.55,730.91 L1247.72,731.7 L1248.89,732.43 L1250.07,733.13 L1251.24,733.77 L1252.41,734.37 L1253.58,734.94 L1254.76,735.46 L1255.93,735.95 L1257.1,736.4 L1258.27,736.82 L1259.45,737.21 L1260.62,737.57 L1261.79,737.91 L1262.96,738.22 L1264.14,738.51 L1265.31,738.77 L1266.48,739.02 L1267.65,739.25 L1268.83,739.46 L1270,739.65 L1271.17,739.83 L1272.34,739.99 L1273.52,740.14 L1274.69,740.28 L1275.86,740.41 L1277.03,740.53 L1278.21,740.64 L1279.38,740.74 L1280.55,740.83 L1281.73,740.92 L1282.9,741 L1284.07,741.07 L1285.24,741.14 L1286.42,741.2 L1287.59,741.25 L1288.76,741.31 L1289.93,741.35 L1291.11,741.4" stroke="#E7CB89"/>
<path d="M1150.39,741.36 L1151.57,741.31 L1152.74,741.26 L1153.91,741.2 L1155.08,741.14 L1156.26,741.08 L1157.43,741 L1158.6,740.93 L1159.77,740.84 L1160.95,740.75 L1162.12,740.65 L1163.29,740.54 L1164.47,740.42 L1165.64,740.29 L1166.81,740.15 L1167.98,740 L1169.16,739.84 L1170.33,739.66 L1171.5,739.47 L1172.67,739.26 L1173.85,739.04 L1175.02,738.79 L1176.19,738.53 L1177.36,738.24 L1178.54,737.93 L1179.71,737.6 L1180.88,737.24 L1182.05,736.85 L1183.23,736.43 L1184.4,735.98 L1185.57,735.5 L1186.74,734.98 L1187.92,734.42 L1189.09,733.82 L1190.26,733.18 L1191.43,732.49 L1192.61,731.75 L1193.78,730.97 L1194.95,730.14 L1196.13,729.25 L1197.3,728.31 L1198.47,727.31 L1199.64,726.25 L1200.82,725.14 L1201.99,723.96 L1203.16,722.73 L1204.33,721.44 L1205.51,720.09 L1206.68,718.69 L1207.85,717.23 L1209.02,715.71 L1210.2,714.15 L1211.37,712.54 L1212.54,710.88 L1213.71,709.19 L1214.89,707.46 L1216.06,705.71 L1217.23,703.93 L1218.4,702.14 L1219.58,700.34 L1220.75,698.53 L1221.92,696.73 L1223.1,694.93 L1224.27,693.15 L1225.44,691.4 L1226.61,689.67 L1227.79,687.97 L1228.96,686.31 L1230.13,684.7 L1231.3,683.13 L1232.48,681.61 L1233.65,680.15 L1234.82,678.74 L1235.99,677.38 L1237.17,676.09 L1238.34,674.85 L1239.51,673.68 L1240.68,672.56 L1241.86,671.5 L1243.03,670.49 L1244.2,669.55 L1245.37,668.66 L1246.55,667.82 L1247.72,667.03 L1248.89,666.29 L1250.07,665.6 L1251.24,664.95 L1252.41,664.35 L1253.58,663.79 L1254.76,663.26 L1255.93,662.78 L1257.1,662.32 L1258.27,661.9 L1259.45,661.51 L1260.62,661.15 L1261.79,660.82 L1262.96,660.5 L1264.14,660.22 L1265.31,659.95 L1266.48,659.71 L1267.65,659.48 L1268.83,659.27 L1270,659.08 L1271.17,658.9 L1272.34,658.73 L1273.52,658.58 L1274.69,658.44 L1275.86,658.31 L1277.03,658.19 L1278.21,658.08 L1279.38,657.98 L1280.55,657.89 L1281.73,657.81 L1282.9,657.73 L1284.07,657.66 L1285.24,657.59 L1286.42,657.53 L1287.59,657.47 L1288.76,657.42 L1289.93,657.37 L1291.11,657.33" stroke="#BAD684"/>
<path d="M1150.39,638.8 L1151.57,638.8 L1152.74,638.8 L1153.91,638.8 L1155.08,638.8 L1156.26,638.8 L1157.43,638.8 L1158.6,638.8 L1159.77,638.8 L1160.95,638.8 L1162.12,638.8 L1163.29,638.8 L1164.47,638.8 L1165.64,638.8 L1166.81,638.8 L1167.98,638.8 L1169.16,638.8 L1170.33,638.8 L1171.5,638.8 L1172.67,638.8 L1173.85,638.8 L1175.02,638.8 L1176.19,638.8 L1177.36,638.8 L1178.54,638.8 L1179.71,638.8 L1180.88,638.8 L1182.05,638.81 L1183.23,638.81 L1184.4,638.81 L1185.57,638.81 L1186.74,638.82 L1187.92,638.82 L1189.09,638.83 L1190.26,638.83 L1191.43,638.84 L1192.61,638.85 L1193.78,638.87 L1194.95,638.88 L1196.13,638.9 L1197.3,638.93 L1198.47,638.96 L1199.64,639 L1200.82,639.05 L1201.99,639.11 L1203.16,639.19 L1204.33,639.28 L1205.51,639.4 L1206.68,639.55 L1207.85,639.73 L1209.02,639.95 L1210.2,640.23 L1211.37,640.57 L1212.54,640.98 L1213.71,641.5 L1214.89,642.12 L1216.06,642.89 L1217.23,643.82 L1218.4,644.94 L1219.58,646.29 L1220.75,647.89 L1221.92,649.8 L1223.1,652.05 L1224.27,654.68 L1225.44,657.74 L1226.61,661.26 L1227.79,665.28 L1228.96,669.83 L1230.13,674.9 L1231.3,680.46 L1232.48,686.43 L1233.65,692.63 L1234.82,698.87 L1235.99,704.9 L1237.17,710.49 L1238.34,715.45 L1239.51,719.69 L1240.68,723.2 L1241.86,726.02 L1243.03,728.23 L1244.2,729.93 L1245.37,731.23 L1246.55,732.21 L1247.72,732.95 L1248.89,733.5 L1250.07,733.91 L1251.24,734.21 L1252.41,734.44 L1253.58,734.61 L1254.76,734.73 L1255.93,734.82 L1257.1,734.89 L1258.27,734.94 L1259.45,734.98 L1260.62,735.01 L1261.79,735.03 L1262.96,735.04 L1264.14,735.06 L1265.31,735.06 L1266.48,735.07 L1267.65,735.08 L1268.83,735.08 L1270,735.08 L1271.17,735.08 L1272.34,735.08 L1273.52,735.09 L1274.69,735.09 L1275.86,735.09 L1277.03,735.09 L1278.21,735.09 L1279.38,735.09 L1280.55,735.09 L1281.73,735.09 L1282.9,735.09 L1284.07,735.09 L1285.24,735.09 L1286.42,735.09 L1287.59,735.09 L1288.76,735.09 L1289.93,735.09 L1291.11,735.09" stroke="#E3B873"/>
<path d="M1150.39,638.8 L1151.57,638.8 L1152.74,638.8 L1153.91,638.8 L1155.08,638.8 L1156.26,638.8 L1157.43,638.8 L1158.6,638.8 L1159.77,638.8 L1160.95,638.8 L1162.12,638.8 L1163.29,638.8 L1164.47,638.8 L1165.64,638.8 L1166.81,638.8 L1167.98,638.8 L1169.16,638.8 L1170.33,638.8 L1171.5,638.8 L1172.67,638.8 L1173.85,638.8 L1175.02,638.8 L1176.19,638.8 L1177.36,638.8 L1178.54,638.8 L1179.71,638.8 L1180.88,638.8 L1182.05,638.8 L1183.23,638.8 L1184.4,638.8 L1185.57,638.8 L1186.74,638.8 L1187.92,638.8 L1189.09,638.8 L1190.26,638.8 L1191.43,638.8 L1192.61,638.8 L1193.78,638.8 L1194.95,638.8 L1196.13,638.8 L1197.3,638.81 L1198.47,638.81 L1199.64,638.81 L1200.82,638.81 L1201.99,638.82 L1203.16,638.82 L1204.33,638.83 L1205.51,638.83 L1206.68,638.84 L1207.85,638.85 L1209.02,638.86 L1210.2,638.88 L1211.37,638.9 L1212.54,638.93 L1213.71,638.96 L1214.89,639 L1216.06,639.04 L1217.23,639.1 L1218.4,639.18 L1219.58,639.27 L1220.75,639.39 L1221.92,639.53 L1223.1,639.7 L1224.27,639.92 L1225.44,640.19 L1226.61,640.53 L1227.79,640.93 L1228.96,641.44 L1230.13,642.05 L1231.3,642.8 L1232.48,643.71 L1233.65,644.81 L1234.82,646.13 L1235.99,647.71 L1237.17,649.58 L1238.34,651.79 L1239.51,654.38 L1240.68,657.39 L1241.86,660.86 L1243.03,664.83 L1244.2,669.31 L1245.37,674.33 L1246.55,679.84 L1247.72,685.77 L1248.89,691.96 L1250.07,698.21 L1251.24,704.27 L1252.41,709.91 L1253.58,714.95 L1254.76,719.27 L1255.93,722.86 L1257.1,725.74 L1258.27,728.01 L1259.45,729.77 L1260.62,731.11 L1261.79,732.12 L1262.96,732.88 L1264.14,733.45 L1265.31,733.87 L1266.48,734.18 L1267.65,734.42 L1268.83,734.59 L1270,734.72 L1271.17,734.81 L1272.34,734.88 L1273.52,734.94 L1274.69,734.98 L1275.86,735 L1277.03,735.03 L1278.21,735.04 L1279.38,735.05 L1280.55,735.06 L1281.73,735.07 L1282.9,735.07 L1284.07,735.08 L1285.24,735.08 L1286.42,735.08 L1287.59,735.08 L1288.76,735.09 L1289.93,735.09 L1291.11,735.09" stroke="#E0A24A"/>
<path d="M1150.39,638.8 L1151.57,638.8 L1152.74,638.8 L1153.91,638.8 L1155.08,638.8 L1156.26,638.8 L1157.43,638.8 L1158.6,638.8 L1159.77,638.8 L1160.95,638.8 L1162.12,638.8 L1163.29,638.8 L1164.47,638.8 L1165.64,638.8 L1166.81,638.8 L1167.98,638.8 L1169.16,638.8 L1170.33,638.8 L1171.5,638.8 L1172.67,638.8 L1173.85,638.8 L1175.02,638.8 L1176.19,638.8 L1177.36,638.8 L1178.54,638.8 L1179.71,638.8 L1180.88,638.8 L1182.05,638.8 L1183.23,638.8 L1184.4,638.8 L1185.57,638.8 L1186.74,638.8 L1187.92,638.8 L1189.09,638.8 L1190.26,638.8 L1191.43,638.8 L1192.61,638.8 L1193.78,638.8 L1194.95,638.8 L1196.13,638.8 L1197.3,638.8 L1198.47,638.8 L1199.64,638.8 L1200.82,638.8 L1201.99,638.8 L1203.16,638.8 L1204.33,638.8 L1205.51,638.8 L1206.68,638.8 L1207.85,638.8 L1209.02,638.8 L1210.2,638.8 L1211.37,638.8 L1212.54,638.81 L1213.71,638.81 L1214.89,638.81 L1216.06,638.81 L1217.23,638.82 L1218.4,638.82 L1219.58,638.83 L1220.75,638.84 L1221.92,638.84 L1223.1,638.86 L1224.27,638.87 L1225.44,638.89 L1226.61,638.91 L1227.79,638.94 L1228.96,638.97 L1230.13,639.01 L1231.3,639.07 L1232.48,639.13 L1233.65,639.22 L1234.82,639.32 L1235.99,639.44 L1237.17,639.6 L1238.34,639.79 L1239.51,640.03 L1240.68,640.32 L1241.86,640.69 L1243.03,641.13 L1244.2,641.68 L1245.37,642.35 L1246.55,643.16 L1247.72,644.15 L1248.89,645.34 L1250.07,646.76 L1251.24,648.46 L1252.41,650.47 L1253.58,652.84 L1254.76,655.6 L1255.93,658.8 L1257.1,662.47 L1258.27,666.66 L1259.45,671.37 L1260.62,676.61 L1261.79,682.31 L1262.96,688.37 L1264.14,694.61 L1265.31,700.81 L1266.48,706.72 L1267.65,712.13 L1268.83,716.87 L1270,720.88 L1271.17,724.16 L1272.34,726.77 L1273.52,728.81 L1274.69,730.38 L1275.86,731.57 L1277.03,732.47 L1278.21,733.14 L1279.38,733.64 L1280.55,734.01 L1281.73,734.29 L1282.9,734.5 L1284.07,734.65 L1285.24,734.76 L1286.42,734.85 L1287.59,734.91 L1288.76,734.95 L1289.93,734.99 L1291.11,735.01" stroke="#DB8E3D"/>
<path d="M1150.39,638.8 L1151.57,638.8 L1152.74,638.8 L1153.91,638.8 L1155.08,638.8 L1156.26,638.8 L1157.43,638.8 L1158.6,638.8 L1159.77,638.8 L1160.95,638.8 L1162.12,638.8 L1163.29,638.8 L1164.47,638.8 L1165.64,638.8 L1166.81,638.8 L1167.98,638.8 L1169.16,638.8 L1170.33,638.8 L1171.5,638.8 L1172.67,638.8 L1173.85,638.8 L1175.02,638.8 L1176.19,638.8 L1177.36,638.8 L1178.54,638.8 L1179.71,638.8 L1180.88,638.8 L1182.05,638.8 L1183.23,638.8 L1184.4,638.8 L1185.57,638.8 L1186.74,638.8 L1187.92,638.8 L1189.09,638.8 L1190.26,638.8 L1191.43,638.8 L1192.61,638.8 L1193.78,638.8 L1194.95,638.8 L1196.13,638.8 L1197.3,638.8 L1198.47,638.8 L1199.64,638.8 L1200.82,638.8 L1201.99,638.8 L1203.16,638.8 L1204.33,638.8 L1205.51,638.8 L1206.68,638.8 L1207.85,638.8 L1209.02,638.8 L1210.2,638.8 L1211.37,638.8 L1212.54,638.8 L1213.71,638.8 L1214.89,638.8 L1216.06,638.8 L1217.23,638.8 L1218.4,638.8 L1219.58,638.8 L1220.75,638.8 L1221.92,638.8 L1223.1,638.8 L1224.27,638.8 L1225.44,638.8 L1226.61,638.81 L1227.79,638.81 L1228.96,638.81 L1230.13,638.81 L1231.3,638.82 L1232.48,638.82 L1233.65,638.82 L1234.82,638.83 L1235.99,638.84 L1237.17,638.85 L1238.34,638.86 L1239.51,638.88 L1240.68,638.9 L1241.86,638.92 L1243.03,638.95 L1244.2,638.99 L1245.37,639.04 L1246.55,639.1 L1247.72,639.17 L1248.89,639.26 L1250.07,639.37 L1251.24,639.51 L1252.41,639.68 L1253.58,639.9 L1254.76,640.16 L1255.93,640.49 L1257.1,640.89 L1258.27,641.38 L1259.45,641.98 L1260.62,642.71 L1261.79,643.6 L1262.96,644.68 L1264.14,645.98 L1265.31,647.52 L1266.48,649.37 L1267.65,651.54 L1268.83,654.08 L1270,657.04 L1271.17,660.46 L1272.34,664.37 L1273.52,668.81 L1274.69,673.77 L1275.86,679.23 L1277.03,685.11 L1278.21,691.28 L1279.38,697.54 L1280.55,703.63 L1281.73,709.33 L1282.9,714.44 L1284.07,718.84 L1285.24,722.51 L1286.42,725.46 L1287.59,727.8 L1288.76,729.6 L1289.93,730.98 L1291.11,732.02" stroke="#D2782C"/>
<path d="M1150.39,638.8 L1151.57,638.8 L1152.74,638.8 L1153.91,638.8 L1155.08,638.8 L1156.26,638.8 L1157.43,638.8 L1158.6,638.8 L1159.77,638.8 L1160.95,638.8 L1162.12,638.8 L1163.29,638.8 L1164.47,638.8 L1165.64,638.8 L1166.81,638.8 L1167.98,638.8 L1169.16,638.8 L1170.33,638.8 L1171.5,638.8 L1172.67,638.8 L1173.85,638.8 L1175.02,638.8 L1176.19,638.8 L1177.36,638.8 L1178.54,638.8 L1179.71,638.8 L1180.88,638.8 L1182.05,638.8 L1183.23,638.8 L1184.4,638.8 L1185.57,638.8 L1186.74,638.8 L1187.92,638.8 L1189.09,638.8 L1190.26,638.8 L1191.43,638.8 L1192.61,638.8 L1193.78,638.8 L1194.95,638.8 L1196.13,638.8 L1197.3,638.8 L1198.47,638.8 L1199.64,638.8 L1200.82,638.8 L1201.99,638.8 L1203.16,638.8 L1204.33,638.8 L1205.51,638.8 L1206.68,638.8 L1207.85,638.8 L1209.02,638.8 L1210.2,638.8 L1211.37,638.8 L1212.54,638.8 L1213.71,638.8 L1214.89,638.8 L1216.06,638.8 L1217.23,638.8 L1218.4,638.8 L1219.58,638.8 L1220.75,638.8 L1221.92,638.8 L1223.1,638.8 L1224.27,638.8 L1225.44,638.8 L1226.61,638.8 L1227.79,638.8 L1228.96,638.8 L1230.13,638.8 L1231.3,638.8 L1232.48,638.8 L1233.65,638.8 L1234.82,638.8 L1235.99,638.8 L1237.17,638.8 L1238.34,638.8 L1239.51,638.8 L1240.68,638.8 L1241.86,638.8 L1243.03,638.8 L1244.2,638.8 L1245.37,638.8 L1246.55,638.8 L1247.72,638.8 L1248.89,638.8 L1250.07,638.8 L1251.24,638.8 L1252.41,638.8 L1253.58,638.8 L1254.76,638.8 L1255.93,638.8 L1257.1,638.8 L1258.27,638.8 L1259.45,638.8 L1260.62,638.8 L1261.79,638.8 L1262.96,638.8 L1264.14,638.8 L1265.31,638.8 L1266.48,638.8 L1267.65,638.8 L1268.83,638.8 L1270,638.8 L1271.17,638.8 L1272.34,638.8 L1273.52,638.8 L1274.69,638.8 L1275.86,638.8 L1277.03,638.8 L1278.21,638.8 L1279.38,638.8 L1280.55,638.8 L1281.73,638.8 L1282.9,638.8 L1284.07,638.8 L1285.24,638.8 L1286.42,638.8 L1287.59,638.8 L1288.76,638.8 L1289.93,638.8 L1291.11,638.8" stroke="#C46019"/>
<path d="M1150.39,738.83 L1151.57,738.83 L1152.74,738.83 L1153.91,738.83 L1155.08,738.83 L1156.26,738.83 L1157.43,738.83 L1158.6,738.83 L1159.77,738.83 L1160.95,738.83 L1162.12,738.83 L1163.29,738.83 L1164.47,738.83 L1165.64,738.83 L1166.81,738.83 L1167.98,738.83 L1169.16,738.83 L1170.33,738.83 L1171.5,738.83 L1172.67,738.83 L1173.85,738.83 L1175.02,738.83 L1176.19,738.83 L1177.36,738.83 L1178.54,738.83 L1179.71,738.83 L1180.88,738.83 L1182.05,738.83 L1183.23,738.83 L1184.4,738.83 L1185.57,738.83 L1186.74,738.83 L1187.92,738.83 L1189.09,738.83 L1190.26,738.83 L1191.43,738.83 L1192.61,738.83 L1193.78,738.83 L1194.95,738.83 L1196.13,738.83 L1197.3,738.83 L1198.47,738.83 L1199.64,738.83 L1200.82,738.83 L1201.99,738.83 L1203.16,738.82 L1204.33,738.82 L1205.51,738.82 L1206.68,738.81 L1207.85,738.81 L1209.02,738.8 L1210.2,738.79 L1211.37,738.77 L1212.54,738.75 L1213.71,738.72 L1214.89,738.68 L1216.06,738.63 L1217.23,738.55 L1218.4,738.46 L1219.58,738.32 L1220.75,738.15 L1221.92,737.91 L1223.1,737.58 L1224.27,737.15 L1225.44,736.58 L1226.61,735.83 L1227.79,734.84 L1228.96,733.57 L1230.13,731.94 L1231.3,729.87 L1232.48,727.3 L1233.65,724.12 L1234.82,720.25 L1235.99,715.57 L1237.17,710.03 L1238.34,703.65 L1239.51,696.69 L1240.68,689.65 L1241.86,683.18 L1243.03,677.79 L1244.2,673.69 L1245.37,670.78 L1246.55,668.83 L1247.72,667.55 L1248.89,666.74 L1250.07,666.22 L1251.24,665.89 L1252.41,665.69 L1253.58,665.56 L1254.76,665.48 L1255.93,665.43 L1257.1,665.39 L1258.27,665.37 L1259.45,665.36 L1260.62,665.35 L1261.79,665.35 L1262.96,665.34 L1264.14,665.34 L1265.31,665.34 L1266.48,665.34 L1267.65,665.34 L1268.83,665.34 L1270,665.34 L1271.17,665.34 L1272.34,665.34 L1273.52,665.34 L1274.69,665.34 L1275.86,665.34 L1277.03,665.34 L1278.21,665.34 L1279.38,665.34 L1280.55,665.34 L1281.73,665.34 L1282.9,665.34 L1284.07,665.34 L1285.24,665.34 L1286.42,665.34 L1287.59,665.34 L1288.76,665.34 L1289.93,665.34 L1291.11,665.34" stroke="#A3C971"/>
<path d="M1150.39,738.83 L1151.57,738.83 L1152.74,738.83 L1153.91,738.83 L1155.08,738.83 L1156.26,738.83 L1157.43,738.83 L1158.6,738.83 L1159.77,738.83 L1160.95,738.83 L1162.12,738.83 L1163.29,738.83 L1164.47,738.83 L1165.64,738.83 L1166.81,738.83 L1167.98,738.83 L1169.16,738.83 L1170.33,738.83 L1171.5,738.83 L1172.67,738.83 L1173.85,738.83 L1175.02,738.83 L1176.19,738.83 L1177.36,738.83 L1178.54,738.83 L1179.71,738.83 L1180.88,738.83 L1182.05,738.83 L1183.23,738.83 L1184.4,738.83 L1185.57,738.83 L1186.74,738.83 L1187.92,738.83 L1189.09,738.83 L1190.26,738.83 L1191.43,738.83 L1192.61,738.83 L1193.78,738.83 L1194.95,738.83 L1196.13,738.83 L1197.3,738.83 L1198.47,738.83 L1199.64,738.83 L1200.82,738.83 L1201.99,738.83 L1203.16,738.83 L1204.33,738.83 L1205.51,738.83 L1206.68,738.83 L1207.85,738.83 L1209.02,738.83 L1210.2,738.83 L1211.37,738.83 L1212.54,738.83 L1213.71,738.83 L1214.89,738.83 L1216.06,738.83 L1217.23,738.83 L1218.4,738.83 L1219.58,738.83 L1220.75,738.82 L1221.92,738.82 L1223.1,738.82 L1224.27,738.81 L1225.44,738.8 L1226.61,738.79 L1227.79,738.77 L1228.96,738.75 L1230.13,738.72 L1231.3,738.67 L1232.48,738.61 L1233.65,738.53 L1234.82,738.41 L1235.99,738.25 L1237.17,738.03 L1238.34,737.72 L1239.51,737.31 L1240.68,736.74 L1241.86,735.97 L1243.03,734.95 L1244.2,733.58 L1245.37,731.79 L1246.55,729.47 L1247.72,726.53 L1248.89,722.85 L1250.07,718.37 L1251.24,713.07 L1252.41,707.04 L1253.58,700.5 L1254.76,693.83 L1255.93,687.5 L1257.1,681.93 L1258.27,677.35 L1259.45,673.82 L1260.62,671.21 L1261.79,669.36 L1262.96,668.06 L1264.14,667.18 L1265.31,666.58 L1266.48,666.17 L1267.65,665.9 L1268.83,665.71 L1270,665.59 L1271.17,665.51 L1272.34,665.45 L1273.52,665.41 L1274.69,665.39 L1275.86,665.37 L1277.03,665.36 L1278.21,665.35 L1279.38,665.35 L1280.55,665.34 L1281.73,665.34 L1282.9,665.34 L1284.07,665.34 L1285.24,665.34 L1286.42,665.34 L1287.59,665.34 L1288.76,665.34 L1289.93,665.34 L1291.11,665.34" stroke="#8DB962"/>
<path d="M1150.39,738.83 L1151.57,738.83 L1152.74,738.83 L1153.91,738.83 L1155.08,738.83 L1156.26,738.83 L1157.43,738.83 L1158.6,738.83 L1159.77,738.83 L1160.95,738.83 L1162.12,738.83 L1163.29,738.83 L1164.47,738.83 L1165.64,738.83 L1166.81,738.83 L1167.98,738.83 L1169.16,738.83 L1170.33,738.83 L1171.5,738.83 L1172.67,738.83 L1173.85,738.83 L1175.02,738.83 L1176.19,738.83 L1177.36,738.83 L1178.54,738.83 L1179.71,738.83 L1180.88,738.83 L1182.05,738.83 L1183.23,738.83 L1184.4,738.83 L1185.57,738.83 L1186.74,738.83 L1187.92,738.83 L1189.09,738.83 L1190.26,738.83 L1191.43,738.83 L1192.61,738.83 L1193.78,738.83 L1194.95,738.83 L1196.13,738.83 L1197.3,738.83 L1198.47,738.83 L1199.64,738.83 L1200.82,738.83 L1201.99,738.83 L1203.16,738.83 L1204.33,738.83 L1205.51,738.83 L1206.68,738.83 L1207.85,738.83 L1209.02,738.83 L1210.2,738.83 L1211.37,738.83 L1212.54,738.83 L1213.71,738.83 L1214.89,738.83 L1216.06,738.83 L1217.23,738.83 L1218.4,738.83 L1219.58,738.83 L1220.75,738.83 L1221.92,738.83 L1223.1,738.83 L1224.27,738.83 L1225.44,738.83 L1226.61,738.83 L1227.79,738.83 L1228.96,738.83 L1230.13,738.83 L1231.3,738.83 L1232.48,738.83 L1233.65,738.83 L1234.82,738.82 L1235.99,738.82 L1237.17,738.81 L1238.34,738.81 L1239.51,738.8 L1240.68,738.79 L1241.86,738.77 L1243.03,738.74 L1244.2,738.71 L1245.37,738.66 L1246.55,738.6 L1247.72,738.51 L1248.89,738.39 L1250.07,738.22 L1251.24,737.99 L1252.41,737.67 L1253.58,737.24 L1254.76,736.65 L1255.93,735.85 L1257.1,734.78 L1258.27,733.36 L1259.45,731.5 L1260.62,729.11 L1261.79,726.06 L1262.96,722.28 L1264.14,717.68 L1265.31,712.28 L1266.48,706.16 L1267.65,699.57 L1268.83,692.92 L1270,686.68 L1271.17,681.23 L1272.34,676.8 L1273.52,673.41 L1274.69,670.92 L1275.86,669.15 L1277.03,667.92 L1278.21,667.08 L1279.38,666.51 L1280.55,666.12 L1281.73,665.87 L1282.9,665.69 L1284.07,665.58 L1285.24,665.5 L1286.42,665.44 L1287.59,665.41 L1288.76,665.39 L1289.93,665.37 L1291.11,665.36" stroke="#77A448"/>
<path d="M1150.39,738.83 L1151.57,738.83 L1152.74,738.83 L1153.91,738.83 L1155.08,738.83 L1156.26,738.83 L1157.43,738.83 L1158.6,738.83 L1159.77,738.83 L1160.95,738.83 L1162.12,738.83 L1163.29,738.83 L1164.47,738.83 L1165.64,738.83 L1166.81,738.83 L1167.98,738.83 L1169.16,738.83 L1170.33,738.83 L1171.5,738.83 L1172.67,738.83 L1173.85,738.83 L1175.02,738.83 L1176.19,738.83 L1177.36,738.83 L1178.54,738.83 L1179.71,738.83 L1180.88,738.83 L1182.05,738.83 L1183.23,738.83 L1184.4,738.83 L1185.57,738.83 L1186.74,738.83 L1187.92,738.83 L1189.09,738.83 L1190.26,738.83 L1191.43,738.83 L1192.61,738.83 L1193.78,738.83 L1194.95,738.83 L1196.13,738.83 L1197.3,738.83 L1198.47,738.83 L1199.64,738.83 L1200.82,738.83 L1201.99,738.83 L1203.16,738.83 L1204.33,738.83 L1205.51,738.83 L1206.68,738.83 L1207.85,738.83 L1209.02,738.83 L1210.2,738.83 L1211.37,738.83 L1212.54,738.83 L1213.71,738.83 L1214.89,738.83 L1216.06,738.83 L1217.23,738.83 L1218.4,738.83 L1219.58,738.83 L1220.75,738.83 L1221.92,738.83 L1223.1,738.83 L1224.27,738.83 L1225.44,738.83 L1226.61,738.83 L1227.79,738.83 L1228.96,738.83 L1230.13,738.83 L1231.3,738.83 L1232.48,738.83 L1233.65,738.83 L1234.82,738.83 L1235.99,738.83 L1237.17,738.83 L1238.34,738.83 L1239.51,738.83 L1240.68,738.83 L1241.86,738.83 L1243.03,738.83 L1244.2,738.83 L1245.37,738.83 L1246.55,738.83 L1247.72,738.83 L1248.89,738.83 L1250.07,738.83 L1251.24,738.83 L1252.41,738.83 L1253.58,738.83 L1254.76,738.83 L1255.93,738.83 L1257.1,738.82 L1258.27,738.82 L1259.45,738.81 L1260.62,738.8 L1261.79,738.79 L1262.96,738.76 L1264.14,738.73 L1265.31,738.67 L1266.48,738.58 L1267.65,738.45 L1268.83,738.25 L1270,737.94 L1271.17,737.47 L1272.34,736.76 L1273.52,735.7 L1274.69,734.17 L1275.86,731.98 L1277.03,729 L1278.21,725.14 L1279.38,720.46 L1280.55,715.23 L1281.73,709.89 L1282.9,704.91 L1284.07,700.65 L1285.24,697.27 L1286.42,694.74 L1287.59,692.92 L1288.76,691.67 L1289.93,690.81 L1291.11,690.24" stroke="#67933C"/>
<path d="M1150.39,738.83 L1151.57,738.83 L1152.74,738.83 L1153.91,738.83 L1155.08,738.83 L1156.26,738.83 L1157.43,738.83 L1158.6,738.83 L1159.77,738.83 L1160.95,738.83 L1162.12,738.83 L1163.29,738.83 L1164.47,738.83 L1165.64,738.83 L1166.81,738.83 L1167.98,738.83 L1169.16,738.83 L1170.33,738.83 L1171.5,738.83 L1172.67,738.83 L1173.85,738.83 L1175.02,738.83 L1176.19,738.83 L1177.36,738.83 L1178.54,738.83 L1179.71,738.83 L1180.88,738.83 L1182.05,738.83 L1183.23,738.83 L1184.4,738.83 L1185.57,738.83 L1186.74,738.83 L1187.92,738.83 L1189.09,738.83 L1190.26,738.83 L1191.43,738.83 L1192.61,738.83 L1193.78,738.83 L1194.95,738.83 L1196.13,738.83 L1197.3,738.83 L1198.47,738.83 L1199.64,738.83 L1200.82,738.83 L1201.99,738.83 L1203.16,738.83 L1204.33,738.83 L1205.51,738.83 L1206.68,738.83 L1207.85,738.83 L1209.02,738.83 L1210.2,738.83 L1211.37,738.83 L1212.54,738.83 L1213.71,738.83 L1214.89,738.83 L1216.06,738.83 L1217.23,738.83 L1218.4,738.83 L1219.58,738.83 L1220.75,738.83 L1221.92,738.83 L1223.1,738.83 L1224.27,738.83 L1225.44,738.83 L1226.61,738.83 L1227.79,738.83 L1228.96,738.83 L1230.13,738.83 L1231.3,738.83 L1232.48,738.83 L1233.65,738.83 L1234.82,738.83 L1235.99,738.83 L1237.17,738.83 L1238.34,738.83 L1239.51,738.83 L1240.68,738.83 L1241.86,738.83 L1243.03,738.83 L1244.2,738.83 L1245.37,738.83 L1246.55,738.83 L1247.72,738.83 L1248.89,738.83 L1250.07,738.83 L1251.24,738.83 L1252.41,738.83 L1253.58,738.83 L1254.76,738.83 L1255.93,738.83 L1257.1,738.83 L1258.27,738.83 L1259.45,738.83 L1260.62,738.83 L1261.79,738.83 L1262.96,738.83 L1264.14,738.83 L1265.31,738.83 L1266.48,738.83 L1267.65,738.83 L1268.83,738.83 L1270,738.83 L1271.17,738.83 L1272.34,738.83 L1273.52,738.83 L1274.69,738.83 L1275.86,738.83 L1277.03,738.83 L1278.21,738.83 L1279.38,738.83 L1280.55,738.83 L1281.73,738.83 L1282.9,738.83 L1284.07,738.83 L1285.24,738.83 L1286.42,738.83 L1287.59,738.83 L1288.76,738.83 L1289.93,738.83 L1291.11,738.83" stroke="#4F7E28"/>
</g>
<rect x="1153.1" y="614.3" width="135.3" height="136.1" fill="none" stroke="#979797" stroke-width="1.1"/>
<path d="M1166.63,750.4V748.2M1166.63,614.3V616.5M1220.75,750.4V748.2M1220.75,614.3V616.5M1274.87,750.4V748.2M1274.87,614.3V616.5M1153.1,741.89H1155.3M1288.4,741.89H1286.2M1153.1,699.36H1155.3M1288.4,699.36H1286.2M1153.1,656.83H1155.3M1288.4,656.83H1286.2M1153.1,614.3H1155.3M1288.4,614.3H1286.2" stroke="#777" stroke-width="0.9"/>
<g font-family="'Liberation Sans', sans-serif" font-size="16.8" fill="#222">
<text x="1166.63" y="772.3" text-anchor="middle">-0.2</text>
<text x="1220.75" y="772.3" text-anchor="middle">0</text>
<text x="1274.87" y="772.3" text-anchor="middle">0.2</text>
<text x="1146.9" y="748.29" text-anchor="end">0</text>
<text x="1146.9" y="705.76" text-anchor="end">0.5</text>
<text x="1146.9" y="663.23" text-anchor="end">1</text>
<text x="1146.9" y="620.7" text-anchor="end">1.5</text>
</g>
</svg></body></html>
